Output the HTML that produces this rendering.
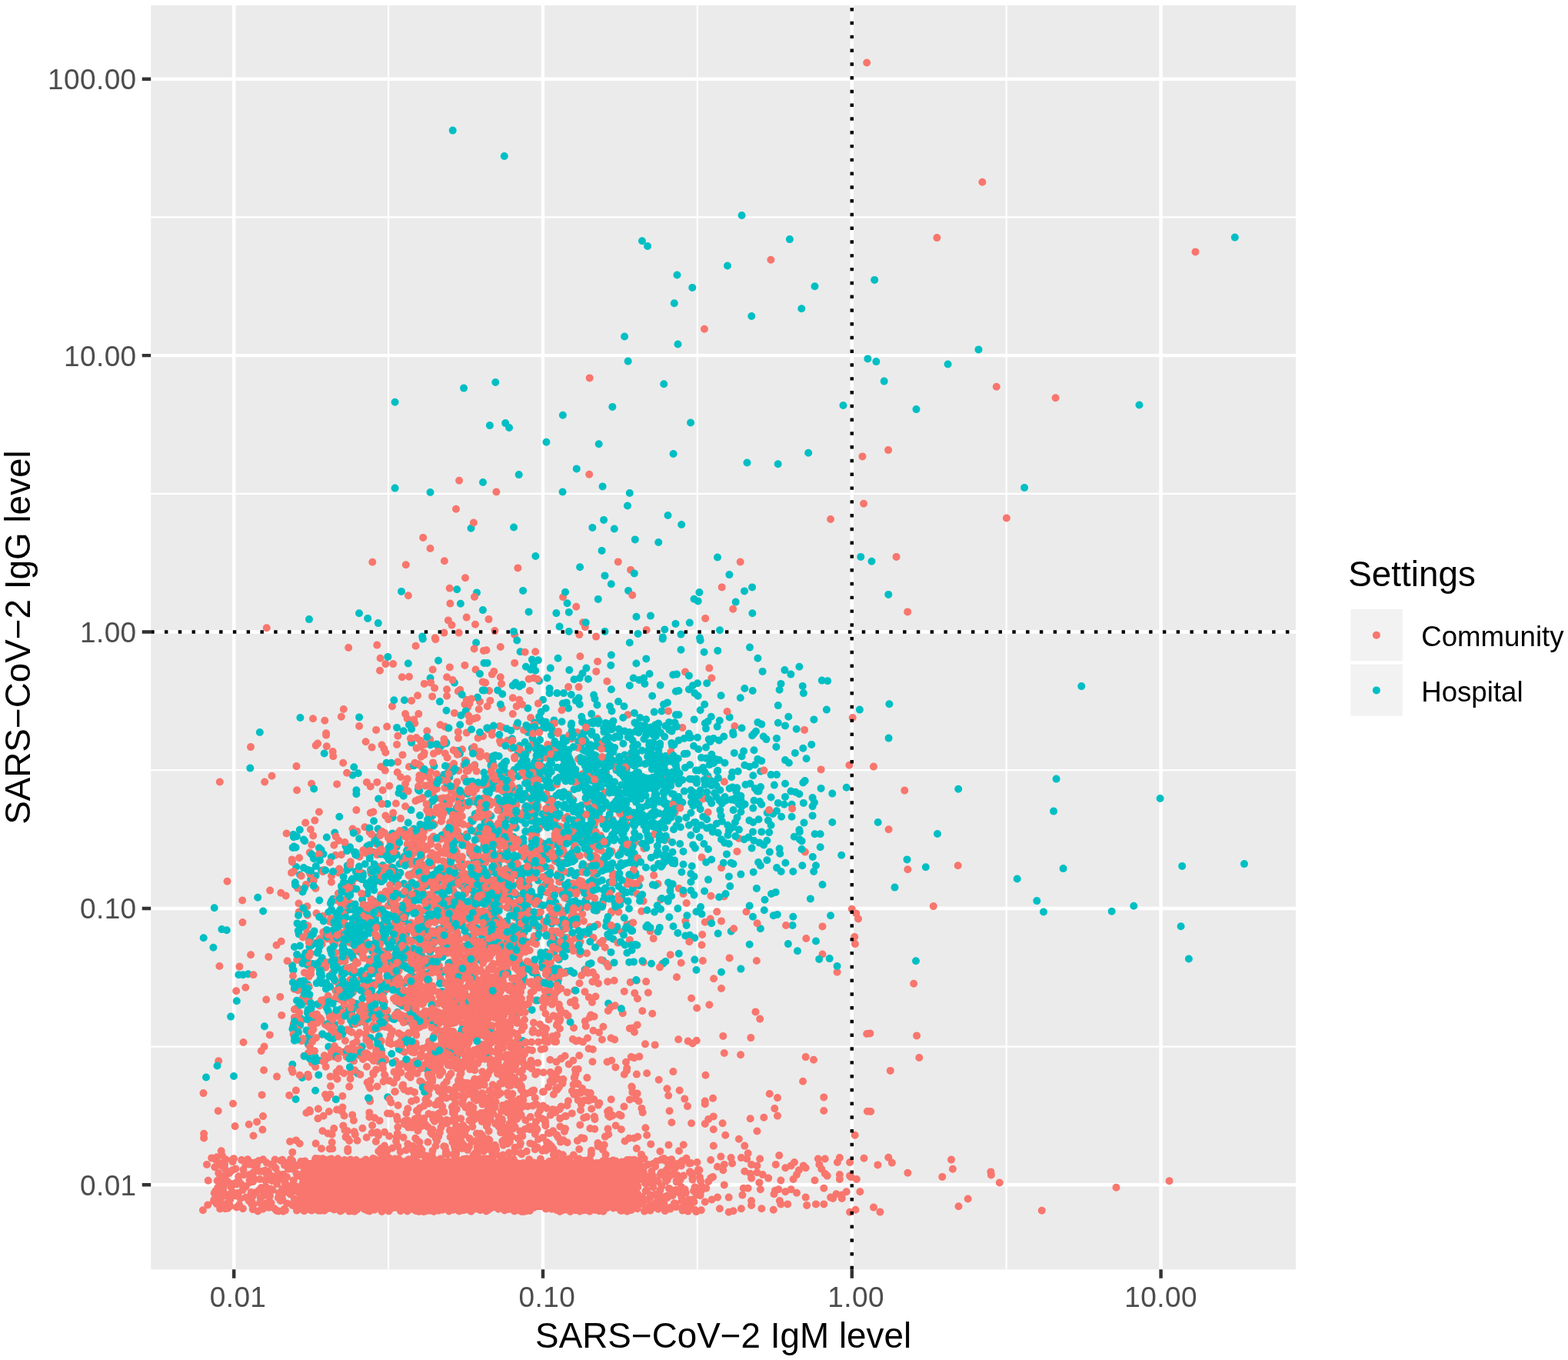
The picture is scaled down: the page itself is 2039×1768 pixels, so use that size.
<!DOCTYPE html>
<html><head><meta charset="utf-8"><title>SARS-CoV-2 IgG vs IgM</title>
<style>html,body{margin:0;padding:0;background:#fff;}svg{display:block;}</style>
</head><body>
<svg xmlns="http://www.w3.org/2000/svg" width="2039" height="1768" viewBox="0 0 2039 1768"><rect x="0" y="0" width="2039" height="1768" fill="#FFFFFF"/><rect x="196.2" y="6.9" width="1488.9" height="1643.4" fill="#EBEBEB"/><path d="M505.1 6.9V1650.3M906.9 6.9V1650.3M1308.7 6.9V1650.3M196.2 282.4H1685.1M196.2 641.8H1685.1M196.2 1001.2H1685.1M196.2 1360.6H1685.1" stroke="#FFFFFF" stroke-width="2.22" fill="none"/><path d="M304.2 6.9V1650.3M706.0 6.9V1650.3M1107.8 6.9V1650.3M1509.6 6.9V1650.3M196.2 102.7H1685.1M196.2 462.1H1685.1M196.2 821.5H1685.1M196.2 1180.9H1685.1M196.2 1540.3H1685.1" stroke="#FFFFFF" stroke-width="4.45" fill="none"/><g fill="none" stroke-linecap="round" stroke-width="10.0"><rect x="391" y="1508" width="438" height="65" fill="#F8766D"/><path stroke="#F8766D" d="M592.2 1556.3h0M448.1 1508.1h0M583.7 1526.7h0M569.3 1518.5h0M430.2 1553.0h0M715.0 1559.6h0M416.5 1547.2h0M624.7 1509.8h0M565.1 1514.3h0M803.4 1550.1h0M467.4 1513.4h0M592.5 1548.9h0M522.5 1517.4h0M477.6 1571.8h0M540.3 1564.1h0M752.2 1538.2h0M494.4 1542.0h0M620.2 1534.8h0M494.4 1525.5h0M435.5 1532.4h0M465.5 1551.0h0M484.7 1571.4h0M410.0 1508.2h0M541.8 1528.1h0M642.7 1510.4h0M829.2 1541.9h0M809.2 1512.4h0M558.0 1517.3h0M794.2 1531.7h0M728.7 1548.3h0M793.1 1541.8h0M431.7 1565.4h0M735.1 1559.1h0M722.3 1515.4h0M491.6 1556.5h0M394.1 1561.8h0M583.5 1570.4h0M421.5 1507.5h0M627.5 1557.1h0M448.0 1547.7h0M538.5 1538.9h0M657.4 1526.6h0M527.7 1544.9h0M680.9 1519.8h0M820.6 1541.7h0M821.8 1555.0h0M642.2 1540.4h0M396.9 1516.0h0M694.5 1569.7h0M752.4 1549.4h0M588.3 1545.6h0M571.9 1529.7h0M613.6 1532.0h0M573.9 1521.5h0M822.8 1538.8h0M471.6 1514.3h0M593.0 1537.6h0M554.2 1511.9h0M791.4 1541.1h0M454.9 1564.7h0M552.6 1514.6h0M389.6 1569.1h0M423.0 1568.9h0M789.8 1570.0h0M451.4 1559.7h0M730.1 1516.8h0M460.5 1544.2h0M789.0 1543.4h0M715.4 1522.1h0M645.7 1520.3h0M552.8 1518.5h0M395.5 1574.2h0M738.5 1527.4h0M815.5 1523.9h0M743.4 1549.4h0M711.8 1525.5h0M566.4 1563.4h0M480.0 1551.6h0M744.0 1559.3h0M652.8 1563.4h0M488.3 1562.3h0M784.4 1533.7h0M656.4 1517.6h0M394.4 1510.2h0M788.9 1532.9h0M535.3 1527.8h0M705.4 1544.2h0M612.6 1510.0h0M532.8 1532.5h0M452.5 1564.4h0M625.7 1545.1h0M406.9 1531.2h0M483.5 1542.3h0M415.9 1516.6h0M512.2 1555.4h0M658.1 1564.9h0M826.0 1533.8h0M650.2 1526.1h0M499.9 1511.7h0M462.4 1561.1h0M731.2 1547.6h0M759.2 1573.3h0M398.9 1533.9h0M779.0 1574.2h0M400.9 1543.8h0M803.3 1565.7h0M716.0 1551.1h0M694.5 1542.2h0M621.1 1550.8h0M802.8 1569.9h0M669.0 1523.0h0M462.3 1563.5h0M614.3 1543.4h0M441.0 1540.5h0M584.3 1521.8h0M581.3 1533.7h0M403.3 1535.5h0M604.6 1514.0h0M441.7 1563.6h0M784.8 1549.2h0M630.3 1515.1h0M403.1 1518.2h0M473.4 1513.5h0M546.4 1568.9h0M467.0 1565.3h0M643.7 1563.4h0M480.4 1541.9h0M403.6 1523.9h0M472.1 1518.9h0M697.1 1567.5h0M553.1 1530.4h0M716.7 1529.2h0M666.3 1513.7h0M435.8 1518.4h0M831.7 1517.7h0M605.4 1535.7h0M684.1 1520.2h0M499.8 1571.8h0M403.1 1569.6h0M585.3 1531.6h0M586.4 1514.6h0M650.4 1552.9h0M739.9 1552.2h0M686.1 1572.8h0M497.8 1566.4h0M657.8 1562.5h0M795.5 1565.4h0M799.6 1555.4h0M632.1 1539.3h0M667.3 1512.7h0M520.7 1520.2h0M401.2 1553.1h0M389.2 1514.8h0M477.7 1524.2h0M614.4 1542.7h0M400.6 1533.8h0M515.7 1559.5h0M511.7 1546.2h0M703.4 1538.6h0M683.3 1567.5h0M702.4 1548.1h0M456.1 1559.2h0M693.1 1556.7h0M645.0 1544.0h0M414.0 1573.7h0M553.5 1525.2h0M537.4 1534.8h0M534.3 1541.7h0M798.4 1521.4h0M432.1 1513.4h0M685.2 1528.1h0M519.4 1554.0h0M481.5 1518.9h0M737.8 1571.2h0M582.2 1520.6h0M543.9 1553.3h0M820.7 1559.0h0M763.8 1553.5h0M747.0 1567.9h0M389.2 1548.5h0M767.1 1562.6h0M466.0 1566.5h0M786.9 1512.3h0M609.3 1536.4h0M474.4 1524.8h0M533.9 1562.7h0M512.0 1514.8h0M705.5 1541.5h0M602.4 1556.9h0M550.4 1575.0h0M818.2 1515.9h0M518.8 1568.4h0M754.6 1517.9h0M566.3 1557.5h0M703.1 1547.4h0M441.8 1528.1h0M767.1 1533.8h0M740.0 1508.6h0M410.7 1564.0h0M725.7 1527.0h0M653.0 1568.4h0M504.5 1510.4h0M618.9 1558.6h0M591.3 1538.3h0M714.0 1560.2h0M582.1 1546.2h0M802.0 1567.3h0M802.2 1556.7h0M402.5 1555.5h0M604.1 1524.3h0M548.7 1539.2h0M808.1 1573.9h0M504.2 1544.6h0M807.2 1573.8h0M533.1 1557.1h0M541.8 1528.8h0M751.0 1554.1h0M814.6 1523.1h0M783.6 1563.4h0M683.8 1522.7h0M746.3 1523.7h0M662.2 1571.7h0M434.7 1536.8h0M414.3 1511.5h0M531.3 1538.0h0M737.0 1510.3h0M486.9 1572.8h0M618.2 1507.7h0M596.3 1549.0h0M614.7 1568.3h0M717.1 1510.0h0M490.1 1567.2h0M804.7 1562.9h0M616.3 1537.1h0M398.7 1560.1h0M767.9 1526.9h0M423.4 1547.2h0M629.2 1525.2h0M760.4 1512.7h0M763.8 1540.5h0M647.4 1539.8h0M659.3 1526.3h0M791.7 1565.5h0M395.1 1537.9h0M482.7 1544.7h0M398.7 1572.4h0M686.2 1546.6h0M506.8 1537.5h0M621.3 1536.9h0M440.3 1511.5h0M758.1 1520.2h0M434.5 1572.5h0M541.3 1510.3h0M395.4 1533.4h0M536.1 1549.7h0M634.5 1566.9h0M437.8 1526.4h0M408.8 1518.7h0M446.9 1514.7h0M779.0 1544.6h0M644.8 1540.1h0M633.3 1551.2h0M656.2 1573.4h0M800.9 1540.7h0M698.0 1549.5h0M784.4 1574.7h0M606.9 1506.2h0M610.9 1531.5h0M522.0 1519.6h0M747.8 1517.7h0M459.4 1537.6h0M508.3 1552.4h0M541.4 1562.1h0M583.7 1514.1h0M657.4 1535.2h0M632.6 1528.4h0M395.7 1573.2h0M431.0 1506.5h0M588.3 1516.4h0M789.0 1528.4h0M631.0 1537.3h0M784.9 1572.8h0M455.7 1570.0h0M699.0 1531.9h0M577.9 1532.9h0M649.0 1545.5h0M831.4 1563.3h0M613.8 1528.2h0M479.5 1546.5h0M415.8 1518.4h0M505.5 1574.4h0M530.3 1510.0h0M643.1 1518.1h0M526.2 1521.2h0M470.2 1555.7h0M531.4 1553.7h0M465.4 1557.3h0M456.1 1565.2h0M772.5 1512.2h0M605.9 1572.0h0M639.9 1515.9h0M460.8 1543.1h0M501.2 1534.3h0M759.5 1562.6h0M684.8 1567.1h0M447.7 1562.6h0M588.4 1525.7h0M422.8 1567.8h0M558.1 1547.6h0M600.7 1559.2h0M604.8 1571.3h0M697.6 1526.9h0M469.3 1568.8h0M569.5 1569.3h0M399.7 1523.1h0M647.2 1538.8h0M626.8 1548.4h0M577.2 1523.2h0M771.2 1557.9h0M681.0 1574.9h0M426.7 1554.6h0M511.7 1561.4h0M713.2 1560.5h0M764.0 1551.4h0M724.0 1573.1h0M791.9 1564.5h0M794.3 1566.3h0M817.9 1541.2h0M659.6 1570.5h0M670.0 1520.6h0M510.7 1513.5h0M676.9 1513.9h0M466.8 1560.2h0M452.5 1549.7h0M823.7 1548.0h0M453.7 1528.6h0M591.5 1527.3h0M668.9 1574.4h0M563.7 1514.2h0M422.8 1535.4h0M443.5 1546.0h0M550.1 1536.6h0M607.9 1564.3h0M744.3 1570.2h0M452.3 1540.0h0M451.2 1565.7h0M404.3 1545.4h0M685.8 1533.2h0M423.4 1543.7h0M393.6 1550.1h0M516.6 1528.0h0M802.0 1515.2h0M826.2 1525.3h0M826.8 1510.7h0M712.9 1517.1h0M750.7 1536.6h0M591.9 1520.4h0M403.2 1556.6h0M516.5 1507.7h0M686.0 1516.6h0M613.7 1548.8h0M633.9 1573.4h0M593.4 1535.1h0M708.8 1522.3h0M538.2 1522.5h0M575.5 1526.0h0M648.5 1514.3h0M491.8 1520.4h0M389.9 1544.1h0M454.5 1565.2h0M669.4 1543.9h0M412.1 1520.6h0M747.1 1529.4h0M653.7 1544.0h0M652.4 1537.7h0M408.7 1542.1h0M717.5 1516.0h0M639.5 1518.2h0M405.0 1547.6h0M402.3 1566.7h0M576.9 1544.5h0M736.9 1568.3h0M758.9 1560.2h0M818.2 1564.7h0M489.3 1537.2h0M633.3 1568.7h0M579.5 1557.3h0M763.2 1559.4h0M564.7 1507.2h0M658.0 1541.8h0M590.8 1548.4h0M476.6 1519.1h0M470.8 1510.6h0M638.0 1520.0h0M460.5 1524.6h0M502.5 1535.1h0M552.7 1510.9h0M681.2 1515.7h0M654.0 1547.4h0M446.8 1531.5h0M552.2 1527.3h0M564.7 1532.8h0M433.2 1550.6h0M563.7 1569.5h0M645.2 1546.2h0M534.2 1550.2h0M756.7 1566.3h0M823.6 1526.8h0M411.8 1525.6h0M559.1 1540.5h0M528.1 1520.1h0M549.6 1539.5h0M544.7 1515.2h0M778.4 1570.6h0M470.8 1526.0h0M600.2 1548.2h0M761.3 1563.2h0M420.2 1514.7h0M669.0 1570.0h0M548.7 1548.4h0M805.2 1521.7h0M409.6 1511.2h0M763.4 1557.0h0M406.1 1560.1h0M710.4 1528.5h0M538.6 1556.1h0M582.8 1516.7h0M682.1 1546.3h0M810.4 1544.1h0M654.0 1542.7h0M504.7 1530.6h0M803.6 1547.6h0M750.7 1520.6h0M473.9 1567.9h0M505.9 1515.8h0M475.3 1520.6h0M707.1 1564.1h0M722.6 1510.5h0M575.5 1571.1h0M545.8 1561.2h0M582.4 1557.4h0M671.4 1539.9h0M656.2 1550.8h0M626.1 1556.2h0M565.7 1530.6h0M754.1 1514.3h0M718.9 1565.9h0M625.6 1513.0h0M557.3 1571.7h0M555.6 1529.3h0M416.2 1557.0h0M639.7 1512.7h0M785.8 1528.0h0M493.2 1568.8h0M538.2 1534.5h0M788.7 1536.6h0M586.1 1512.6h0M468.1 1529.5h0M773.3 1556.9h0M709.2 1522.0h0M826.4 1508.6h0M613.7 1517.3h0M760.9 1509.8h0M492.6 1536.5h0M826.6 1537.4h0M459.0 1517.0h0M635.2 1508.0h0M597.2 1508.8h0M391.6 1564.6h0M688.0 1569.3h0M461.8 1567.7h0M488.3 1526.7h0M766.1 1518.3h0M496.1 1506.3h0M395.2 1565.7h0M654.7 1559.3h0M610.6 1546.7h0M495.7 1512.5h0M405.4 1546.2h0M393.5 1538.6h0M466.8 1548.9h0M779.1 1568.8h0M515.2 1568.9h0M827.6 1561.7h0M394.3 1528.6h0M457.1 1508.8h0M626.3 1537.9h0M394.2 1510.6h0M573.2 1571.0h0M536.8 1526.3h0M830.1 1532.7h0M799.0 1554.6h0M748.2 1534.9h0M430.9 1560.1h0M395.5 1537.9h0M690.6 1561.7h0M531.5 1507.2h0M771.9 1551.1h0M484.8 1565.4h0M548.3 1569.7h0M811.1 1567.4h0M593.9 1560.2h0M795.6 1548.1h0M604.4 1563.6h0M694.0 1542.3h0M397.7 1524.4h0M512.1 1534.6h0M597.2 1514.4h0M534.2 1514.9h0M819.3 1535.8h0M698.9 1556.9h0M535.0 1550.3h0M463.0 1573.1h0M407.5 1548.1h0M564.5 1529.0h0M666.1 1506.9h0M444.7 1545.1h0M658.9 1550.4h0M444.0 1571.9h0M747.4 1560.3h0M583.8 1546.3h0M450.7 1523.0h0M584.8 1547.6h0M464.2 1572.4h0M773.8 1572.9h0M719.0 1563.8h0M469.8 1563.8h0M678.5 1543.6h0M812.7 1537.8h0M421.1 1531.0h0M500.0 1508.1h0M830.4 1566.1h0M391.6 1559.6h0M727.8 1534.5h0M748.2 1573.3h0M709.2 1539.8h0M671.0 1529.5h0M451.6 1525.7h0M441.9 1573.6h0M724.0 1563.2h0M462.1 1539.5h0M713.1 1567.4h0M817.5 1529.2h0M462.8 1527.1h0M489.1 1548.6h0M544.2 1541.1h0M683.5 1572.2h0M718.4 1536.4h0M459.1 1528.6h0M545.9 1559.9h0M816.7 1552.5h0M523.8 1563.1h0M722.2 1559.1h0M430.7 1556.2h0M593.4 1518.0h0M731.1 1573.5h0M484.3 1548.4h0M418.6 1528.0h0M818.2 1556.4h0M491.9 1567.2h0M721.9 1534.6h0M422.6 1529.6h0M689.0 1573.9h0M528.3 1555.3h0M744.6 1549.0h0M399.3 1556.2h0M412.5 1573.0h0M673.9 1520.3h0M556.4 1521.3h0M761.2 1565.3h0M680.7 1514.1h0M678.8 1541.1h0M768.4 1518.1h0M484.9 1513.7h0M575.3 1572.7h0M471.5 1545.3h0M640.1 1569.8h0M509.5 1570.8h0M820.3 1573.1h0M802.1 1514.7h0M788.5 1508.9h0M540.9 1517.1h0M787.8 1559.1h0M600.3 1527.7h0M528.9 1558.2h0M434.6 1549.0h0M415.2 1538.1h0M786.4 1560.8h0M398.5 1518.0h0M666.8 1537.6h0M588.3 1524.5h0M572.9 1561.3h0M532.9 1547.6h0M683.9 1555.6h0M602.7 1506.9h0M512.1 1517.6h0M723.9 1570.7h0M816.0 1526.6h0M488.0 1558.6h0M724.5 1518.1h0M486.9 1511.7h0M518.0 1549.0h0M806.0 1557.8h0M574.0 1526.8h0M620.6 1569.6h0M631.4 1521.9h0M716.6 1554.3h0M454.7 1543.6h0M493.9 1535.8h0M768.5 1522.5h0M654.0 1537.9h0M436.5 1559.7h0M416.7 1508.8h0M780.5 1529.8h0M553.9 1543.8h0M581.3 1515.3h0M557.5 1559.1h0M675.8 1570.9h0M695.1 1535.0h0M616.7 1529.1h0M498.5 1536.1h0M805.1 1534.5h0M456.5 1550.5h0M426.0 1548.9h0M468.8 1568.5h0M581.5 1551.6h0M666.5 1544.1h0M538.3 1507.9h0M703.0 1506.6h0M563.3 1559.6h0M726.1 1567.0h0M677.9 1528.1h0M481.2 1532.4h0M469.5 1511.6h0M444.6 1573.4h0M829.3 1543.3h0M588.2 1565.8h0M788.4 1555.4h0M571.6 1545.8h0M536.4 1541.5h0M594.9 1554.1h0M395.9 1515.2h0M496.5 1559.9h0M723.5 1508.3h0M483.9 1517.5h0M803.1 1534.2h0M512.4 1537.6h0M681.3 1517.6h0M506.5 1507.1h0M412.1 1557.7h0M468.0 1556.2h0M498.0 1552.7h0M805.1 1514.9h0M622.5 1547.6h0M600.2 1533.9h0M667.5 1506.6h0M816.7 1524.2h0M485.2 1525.8h0M700.8 1514.5h0M684.3 1521.5h0M703.0 1525.3h0M469.0 1557.6h0M509.5 1543.8h0M745.8 1553.8h0M690.0 1547.3h0M629.8 1530.2h0M609.9 1507.5h0M827.9 1514.9h0M619.5 1509.8h0M819.1 1507.7h0M574.2 1522.2h0M764.0 1534.3h0M412.4 1573.0h0M739.3 1536.1h0M761.6 1551.5h0M518.3 1506.2h0M466.3 1533.0h0M829.2 1516.3h0M571.1 1546.0h0M583.7 1511.3h0M567.9 1530.9h0M602.7 1514.7h0M683.0 1545.0h0M634.3 1567.7h0M744.9 1565.5h0M771.2 1513.2h0M530.0 1511.7h0M497.7 1539.6h0M801.2 1545.9h0M813.0 1568.8h0M683.7 1534.3h0M738.4 1551.4h0M538.6 1559.9h0M598.8 1551.7h0M403.0 1533.4h0M479.4 1562.3h0M824.2 1534.8h0M733.6 1552.5h0M685.0 1541.8h0M434.1 1510.3h0M636.8 1547.6h0M448.6 1535.3h0M698.2 1513.5h0M810.0 1546.7h0M636.9 1530.3h0M710.4 1526.2h0M761.7 1527.6h0M631.5 1506.2h0M423.0 1543.9h0M730.3 1569.6h0M640.1 1510.1h0M507.1 1506.1h0M664.3 1562.9h0M442.7 1519.2h0M617.0 1548.9h0M576.8 1517.0h0M803.8 1514.0h0M716.1 1550.0h0M777.4 1562.4h0M705.9 1532.9h0M491.4 1541.6h0M635.0 1507.2h0M740.7 1544.3h0M594.1 1510.6h0M465.5 1512.7h0M668.8 1551.4h0M808.6 1510.5h0M435.6 1565.7h0M677.6 1569.9h0M395.7 1531.6h0M656.5 1525.2h0M664.0 1513.1h0M715.8 1541.5h0M733.0 1567.3h0M729.2 1538.2h0M606.4 1523.8h0M575.6 1533.2h0M457.2 1566.1h0M503.9 1539.1h0M790.5 1517.2h0M687.6 1552.2h0M394.8 1570.6h0M531.4 1562.7h0M814.5 1509.9h0M578.0 1556.6h0M626.6 1537.6h0M562.1 1530.0h0M814.6 1537.9h0M633.1 1537.7h0M544.1 1512.9h0M517.0 1519.2h0M739.5 1554.6h0M757.9 1550.8h0M524.1 1553.3h0M646.2 1551.4h0M406.9 1522.6h0M778.5 1549.8h0M663.5 1533.8h0M761.5 1556.8h0M447.7 1561.0h0M428.8 1560.9h0M704.8 1544.6h0M831.8 1520.2h0M485.2 1554.2h0M477.8 1573.8h0M471.4 1549.5h0M468.1 1565.3h0M610.0 1537.3h0M420.2 1509.6h0M662.5 1550.4h0M679.1 1558.2h0M598.9 1520.3h0M449.8 1550.3h0M646.5 1531.4h0M503.5 1520.7h0M538.9 1572.9h0M584.8 1570.9h0M462.5 1512.3h0M529.7 1574.4h0M727.2 1563.4h0M779.8 1531.2h0M421.0 1566.6h0M524.4 1532.3h0M554.7 1571.4h0M831.9 1533.1h0M499.6 1512.9h0M505.9 1530.5h0M565.7 1527.9h0M800.7 1509.4h0M705.4 1550.3h0M445.4 1544.6h0M721.9 1567.0h0M766.0 1511.5h0M629.8 1517.6h0M528.7 1509.2h0M461.0 1555.2h0M775.3 1525.3h0M517.1 1551.6h0M763.1 1573.2h0M432.4 1571.4h0M796.9 1566.8h0M571.1 1530.0h0M616.0 1514.8h0M526.0 1559.4h0M559.4 1573.7h0M678.5 1532.4h0M626.4 1572.3h0M483.7 1564.0h0M625.5 1532.2h0M723.5 1571.0h0M406.3 1557.5h0M714.2 1550.8h0M786.1 1516.9h0M542.1 1559.8h0M830.1 1560.8h0M461.8 1560.1h0M777.2 1532.8h0M584.9 1549.8h0M610.3 1513.4h0M723.3 1513.8h0M599.5 1525.9h0M396.3 1537.3h0M439.4 1521.7h0M485.6 1536.8h0M717.7 1554.8h0M453.2 1565.1h0M584.8 1543.0h0M642.7 1561.8h0M531.8 1516.4h0M604.3 1533.1h0M612.4 1550.1h0M541.1 1538.6h0M441.6 1559.1h0M666.1 1559.9h0M686.5 1511.9h0M390.9 1563.1h0M437.9 1530.4h0M819.7 1515.1h0M499.6 1555.4h0M779.3 1517.1h0M461.9 1535.8h0M745.1 1519.5h0M433.0 1522.2h0M826.4 1538.7h0M489.7 1564.5h0M414.7 1506.5h0M599.9 1511.9h0M443.3 1526.4h0M472.7 1541.1h0M814.3 1562.7h0M666.1 1513.0h0M590.4 1509.8h0M755.4 1547.6h0M830.1 1515.4h0M749.7 1571.9h0M481.8 1511.4h0M704.6 1559.2h0M722.9 1568.4h0M632.9 1524.0h0M629.8 1527.7h0M639.2 1511.1h0M389.5 1550.9h0M681.5 1568.2h0M714.6 1566.6h0M569.4 1551.7h0M464.9 1558.6h0M645.0 1551.0h0M405.6 1554.9h0M775.1 1530.3h0M794.4 1517.5h0M469.1 1513.2h0M520.9 1574.2h0M410.1 1515.5h0M427.7 1507.4h0M514.2 1561.6h0M525.1 1536.7h0M619.1 1571.4h0M596.4 1565.3h0M789.0 1540.3h0M443.2 1561.6h0M539.5 1528.1h0M622.8 1524.0h0M644.6 1553.4h0M464.0 1524.4h0M571.6 1538.3h0M780.7 1535.6h0M557.2 1524.2h0M472.2 1511.7h0M608.9 1515.9h0M534.3 1526.4h0M540.0 1514.5h0M650.2 1525.8h0M717.4 1523.8h0M653.0 1554.7h0M468.4 1523.0h0M496.4 1560.4h0M778.0 1545.4h0M775.1 1530.5h0M818.1 1511.8h0M571.1 1521.2h0M569.3 1560.5h0M402.6 1552.3h0M615.6 1570.8h0M625.9 1514.5h0M582.1 1562.7h0M676.8 1530.4h0M711.9 1512.5h0M678.1 1575.0h0M757.8 1547.2h0M522.8 1520.0h0M627.5 1559.8h0M562.6 1548.3h0M640.3 1525.1h0M489.8 1570.3h0M459.4 1534.0h0M546.9 1557.6h0M513.9 1554.1h0M577.8 1519.8h0M542.8 1520.3h0M568.9 1564.5h0M551.5 1574.9h0M662.6 1520.9h0M525.7 1537.8h0M537.0 1561.0h0M556.8 1541.1h0M775.9 1569.2h0M548.0 1573.8h0M651.3 1511.6h0M667.7 1566.0h0M450.3 1516.2h0M452.0 1543.2h0M624.8 1545.2h0M722.4 1518.9h0M532.3 1529.0h0M545.7 1532.2h0M779.4 1569.9h0M628.9 1557.3h0M725.6 1529.8h0M698.5 1541.4h0M446.4 1567.4h0M744.0 1549.3h0M681.9 1516.7h0M623.2 1506.3h0M529.9 1521.1h0M528.2 1515.4h0M812.8 1564.7h0M567.8 1544.8h0M666.5 1508.2h0M486.1 1571.4h0M785.3 1517.4h0M780.7 1567.0h0M662.5 1506.7h0M422.5 1552.7h0M818.4 1571.7h0M419.9 1508.4h0M404.6 1549.3h0M645.3 1550.7h0M798.2 1563.3h0M516.9 1554.9h0M564.2 1575.0h0M544.0 1541.2h0M583.9 1574.4h0M485.2 1571.4h0M676.5 1520.7h0M566.2 1518.4h0M548.8 1551.1h0M511.7 1541.9h0M540.0 1533.9h0M776.3 1512.1h0M422.2 1558.6h0M764.6 1519.0h0M659.5 1565.3h0M661.0 1572.0h0M517.7 1566.5h0M686.8 1565.8h0M521.0 1570.3h0M599.3 1511.6h0M731.7 1568.2h0M638.5 1520.3h0M824.8 1552.8h0M815.4 1574.8h0M632.7 1512.4h0M395.9 1564.2h0M466.4 1557.1h0M693.8 1519.4h0M815.6 1535.3h0M482.0 1531.7h0M701.0 1510.8h0M781.4 1516.5h0M552.0 1547.8h0M705.2 1533.5h0M496.1 1510.4h0M478.7 1561.1h0M470.9 1510.3h0M475.6 1523.1h0M486.9 1552.5h0M663.0 1512.3h0M635.8 1532.8h0M553.9 1535.2h0M730.3 1512.5h0M679.4 1524.9h0M455.9 1571.9h0M762.8 1523.6h0M419.8 1506.2h0M780.7 1511.7h0M415.5 1524.8h0M439.8 1525.2h0M546.7 1570.2h0M419.3 1521.9h0M535.4 1567.6h0M689.3 1554.8h0M636.2 1511.2h0M456.5 1573.1h0M565.2 1540.8h0M524.9 1528.1h0M764.9 1509.2h0M769.8 1565.7h0M760.6 1545.3h0M794.3 1523.6h0M526.4 1548.9h0M691.8 1518.8h0M416.9 1573.8h0M454.1 1574.6h0M572.0 1556.4h0M513.6 1510.2h0M729.9 1522.6h0M695.5 1521.1h0M419.3 1544.5h0M821.4 1535.6h0M549.9 1519.2h0M442.5 1558.1h0M440.1 1510.3h0M542.2 1533.5h0M403.9 1553.1h0M632.3 1574.4h0M731.4 1549.3h0M733.8 1553.7h0M732.3 1532.7h0M676.1 1573.6h0M777.7 1554.3h0M442.5 1574.4h0M634.3 1573.3h0M738.5 1562.3h0M501.1 1522.9h0M391.3 1510.1h0M822.6 1566.4h0M634.3 1548.8h0M676.3 1522.4h0M506.9 1556.6h0M650.2 1530.9h0M453.4 1522.2h0M461.1 1574.7h0M393.9 1568.2h0M405.1 1542.1h0M772.1 1522.9h0M686.9 1518.1h0M763.7 1530.9h0M760.7 1535.7h0M460.8 1539.0h0M794.5 1509.5h0M608.8 1549.8h0M739.9 1509.3h0M488.7 1519.3h0M746.2 1518.8h0M824.8 1556.0h0M515.7 1514.5h0M461.2 1522.3h0M423.6 1529.3h0M775.4 1522.3h0M401.1 1537.6h0M596.8 1547.7h0M724.0 1564.3h0M536.7 1530.1h0M695.6 1541.6h0M561.1 1517.3h0M450.6 1565.3h0M536.1 1531.6h0M571.4 1554.7h0M721.5 1551.8h0M735.8 1544.7h0M830.2 1520.2h0M739.4 1538.4h0M538.5 1551.4h0M640.2 1518.5h0M585.0 1569.8h0M775.3 1564.2h0M623.3 1506.7h0M580.1 1563.9h0M643.5 1537.0h0M579.3 1538.6h0M681.5 1564.6h0M720.4 1527.1h0M811.6 1515.4h0M531.7 1569.2h0M501.8 1533.8h0M767.3 1551.3h0M514.2 1508.1h0M490.3 1510.4h0M512.4 1553.2h0M412.9 1539.2h0M625.3 1518.8h0M765.5 1546.3h0M766.9 1561.5h0M499.8 1528.4h0M686.4 1553.5h0M765.9 1511.1h0M503.9 1547.7h0M626.5 1565.3h0M615.1 1524.2h0M585.1 1526.0h0M441.4 1512.8h0M818.0 1566.1h0M447.7 1539.5h0M706.4 1521.7h0M767.4 1512.0h0M699.7 1549.2h0M489.8 1523.0h0M498.8 1547.2h0M399.9 1531.3h0M622.4 1559.4h0M667.6 1552.8h0M772.8 1562.1h0M773.3 1540.5h0M628.2 1516.5h0M660.1 1561.3h0M413.2 1515.1h0M509.1 1535.6h0M431.1 1569.9h0M726.8 1550.9h0M487.0 1540.7h0M645.6 1554.1h0M719.1 1533.0h0M823.3 1533.4h0M815.5 1508.1h0M752.8 1565.2h0M734.0 1555.5h0M618.8 1545.1h0M671.4 1551.2h0M670.1 1573.9h0M495.8 1560.4h0M536.8 1571.5h0M684.2 1553.1h0M432.3 1534.1h0M395.2 1517.0h0M494.4 1536.8h0M567.9 1519.6h0M524.4 1563.3h0M466.0 1567.3h0M437.7 1564.6h0M495.6 1541.1h0M700.2 1552.5h0M560.6 1556.8h0M784.3 1509.0h0M515.5 1532.3h0M830.8 1529.2h0M656.8 1542.5h0M445.8 1545.1h0M821.4 1527.1h0M664.9 1551.7h0M668.2 1524.6h0M582.8 1530.3h0M629.1 1544.2h0M640.6 1509.6h0M751.5 1561.6h0M688.1 1507.2h0M494.6 1524.9h0M535.8 1534.8h0M694.2 1511.4h0M732.0 1560.3h0M543.0 1552.2h0M648.0 1571.7h0M734.3 1569.0h0M628.2 1537.5h0M598.2 1537.7h0M463.9 1568.8h0M736.2 1562.0h0M754.7 1552.2h0M524.1 1522.6h0M535.7 1557.0h0M443.1 1529.5h0M574.0 1532.0h0M544.6 1574.9h0M683.6 1574.4h0M478.0 1560.7h0M554.8 1573.4h0M766.5 1530.2h0M620.2 1567.4h0M394.1 1526.0h0M809.8 1555.5h0M788.5 1516.4h0M828.6 1535.4h0M607.6 1521.7h0M511.6 1513.4h0M607.2 1570.4h0M778.0 1519.3h0M720.5 1544.5h0M660.7 1522.7h0M512.8 1566.1h0M783.5 1535.1h0M748.6 1536.3h0M773.9 1522.5h0M597.6 1521.4h0M767.7 1516.3h0M660.6 1532.2h0M494.4 1513.5h0M575.6 1561.8h0M451.9 1533.2h0M621.8 1509.6h0M721.5 1559.5h0M454.5 1531.0h0M624.1 1566.5h0M686.4 1530.1h0M737.3 1549.9h0M487.5 1560.7h0M659.5 1509.4h0M766.5 1519.8h0M480.1 1555.3h0M741.9 1535.6h0M774.9 1542.2h0M592.6 1540.3h0M544.2 1530.7h0M824.6 1525.5h0M494.3 1519.1h0M796.8 1545.6h0M391.2 1556.1h0M757.4 1566.7h0M737.0 1543.1h0M785.8 1566.6h0M485.1 1506.0h0M750.2 1514.4h0M405.2 1573.6h0M448.1 1511.9h0M754.0 1574.8h0M733.1 1530.1h0M439.5 1517.6h0M672.9 1556.0h0M767.4 1521.0h0M445.1 1512.4h0M660.3 1541.6h0M608.1 1558.8h0M828.2 1536.2h0M445.1 1551.2h0M566.7 1571.7h0M828.4 1553.4h0M547.5 1516.4h0M753.1 1506.5h0M784.9 1541.6h0M575.7 1523.8h0M793.8 1525.9h0M622.6 1546.2h0M498.2 1541.9h0M551.7 1574.0h0M566.3 1513.6h0M547.8 1537.6h0M800.8 1525.2h0M805.0 1516.9h0M710.0 1559.1h0M664.1 1566.6h0M643.3 1562.8h0M785.4 1568.9h0M752.5 1554.3h0M438.1 1541.3h0M418.9 1547.6h0M736.0 1507.5h0M579.8 1560.1h0M789.4 1544.8h0M728.4 1535.5h0M651.5 1567.4h0M535.0 1509.8h0M612.1 1559.2h0M579.4 1538.2h0M564.1 1509.9h0M416.4 1545.0h0M478.1 1540.6h0M708.3 1557.8h0M462.0 1539.7h0M418.4 1522.7h0M542.9 1564.5h0M696.9 1552.7h0M813.5 1522.7h0M594.8 1514.1h0M738.0 1565.1h0M701.4 1526.3h0M454.8 1547.7h0M807.0 1561.4h0M449.5 1551.3h0M776.3 1568.5h0M797.2 1508.6h0M611.3 1573.9h0M758.8 1523.5h0M479.2 1530.3h0M812.8 1555.8h0M654.8 1553.3h0M550.5 1529.2h0M680.5 1512.0h0M533.7 1513.1h0M505.4 1525.2h0M795.0 1551.1h0M432.3 1524.9h0M741.5 1566.1h0M763.2 1518.5h0M712.2 1569.0h0M671.7 1552.1h0M430.1 1545.8h0M456.4 1571.8h0M657.4 1529.8h0M502.3 1556.1h0M587.4 1512.6h0M612.6 1546.6h0M776.7 1566.5h0M415.8 1554.5h0M729.5 1522.8h0M568.9 1538.4h0M656.8 1539.8h0M739.9 1525.5h0M416.3 1536.6h0M559.6 1562.7h0M521.0 1525.7h0M753.0 1514.4h0M397.9 1570.1h0M823.1 1556.7h0M597.2 1535.3h0M565.4 1529.0h0M661.3 1557.8h0M801.1 1518.0h0M708.4 1564.5h0M766.9 1574.8h0M475.4 1512.8h0M567.2 1552.2h0M692.9 1543.0h0M784.4 1552.1h0M712.6 1570.7h0M435.6 1548.1h0M651.5 1539.8h0M614.6 1525.3h0M436.3 1510.3h0M439.4 1515.3h0M408.2 1555.6h0M697.0 1552.5h0M520.1 1557.1h0M396.5 1531.9h0M661.5 1559.4h0M530.2 1510.3h0M627.0 1550.0h0M391.0 1512.4h0M800.7 1513.9h0M626.0 1514.0h0M678.1 1573.9h0M528.8 1531.3h0M604.3 1521.2h0M748.6 1556.0h0M489.7 1554.3h0M654.0 1569.9h0M437.2 1512.9h0M673.9 1548.1h0M394.9 1524.1h0M725.7 1552.5h0M533.1 1539.8h0M780.4 1519.2h0M623.8 1523.1h0M762.9 1564.0h0M706.6 1533.2h0M817.2 1533.9h0M554.4 1574.2h0M398.4 1560.7h0M617.2 1564.6h0M530.9 1571.4h0M518.4 1516.8h0M426.5 1538.9h0M743.6 1538.7h0M819.8 1534.5h0M606.1 1525.8h0M793.1 1513.3h0M585.5 1566.6h0M487.9 1556.4h0M682.2 1569.1h0M804.3 1542.7h0M794.2 1555.0h0M499.7 1561.6h0M466.0 1511.8h0M558.9 1541.0h0M663.0 1525.4h0M520.4 1516.7h0M489.1 1564.6h0M705.3 1536.3h0M819.4 1567.7h0M490.9 1531.6h0M549.4 1570.9h0M792.1 1538.9h0M606.2 1531.9h0M771.7 1529.9h0M416.8 1534.2h0M463.1 1508.0h0M824.6 1507.8h0M764.6 1508.9h0M685.2 1559.9h0M474.6 1559.9h0M718.3 1539.8h0M794.0 1546.8h0M670.4 1511.0h0M457.6 1529.8h0M570.0 1516.7h0M439.4 1506.3h0M604.6 1563.7h0M758.4 1558.5h0M394.8 1573.8h0M577.4 1545.7h0M470.6 1522.6h0M484.5 1508.1h0M446.1 1551.1h0M649.7 1526.6h0M583.2 1519.7h0M431.1 1521.7h0M654.1 1531.2h0M799.2 1538.2h0M824.2 1530.5h0M720.3 1519.2h0M400.5 1525.2h0M637.6 1571.0h0M515.3 1545.9h0M544.6 1575.0h0M644.2 1514.4h0M487.7 1515.5h0M725.7 1571.9h0M701.9 1547.8h0M676.6 1522.3h0M782.6 1563.8h0M717.4 1571.8h0M605.2 1567.2h0M680.4 1568.8h0M831.6 1520.6h0M399.2 1516.7h0M488.6 1535.0h0M740.3 1530.7h0M540.7 1573.9h0M630.1 1508.1h0M524.4 1553.8h0M393.5 1528.5h0M829.1 1509.2h0M572.9 1506.4h0M581.1 1552.2h0M517.7 1542.1h0M802.4 1533.1h0M788.4 1554.7h0M443.6 1545.9h0M690.1 1512.8h0M455.2 1560.6h0M689.0 1548.4h0M430.2 1544.6h0M680.8 1523.1h0M453.2 1527.4h0M706.5 1568.1h0M593.3 1506.3h0M557.2 1552.2h0M422.0 1573.8h0M534.4 1562.9h0M434.0 1541.7h0M465.8 1532.9h0M737.6 1571.5h0M639.8 1548.5h0M679.6 1538.8h0M627.7 1560.6h0M424.1 1558.3h0M749.2 1538.8h0M628.7 1506.3h0M661.9 1508.4h0M458.8 1548.0h0M643.9 1555.6h0M394.1 1533.3h0M659.1 1508.4h0M542.3 1564.9h0M741.4 1551.6h0M551.0 1558.1h0M630.8 1552.6h0M412.0 1551.0h0M456.7 1565.2h0M476.8 1521.9h0M616.7 1542.8h0M533.1 1527.9h0M692.5 1551.8h0M536.2 1530.1h0M422.3 1563.6h0M451.8 1542.4h0M720.4 1568.0h0M411.2 1560.9h0M550.6 1567.3h0M451.7 1516.7h0M420.5 1535.7h0M789.4 1563.2h0M539.0 1509.7h0M537.6 1519.0h0M652.1 1554.0h0M626.2 1537.3h0M587.6 1543.4h0M490.0 1561.6h0M622.5 1507.2h0M825.2 1548.0h0M536.6 1506.4h0M408.6 1563.3h0M442.7 1517.2h0M605.9 1512.3h0M667.7 1510.6h0M575.8 1553.9h0M757.5 1513.4h0M703.3 1529.2h0M576.5 1566.3h0M717.4 1534.9h0M443.0 1542.2h0M705.9 1544.8h0M470.8 1554.8h0M773.1 1532.7h0M743.3 1554.6h0M483.8 1510.6h0M750.5 1541.3h0M709.8 1571.4h0M510.8 1534.6h0M427.4 1539.3h0M492.0 1518.8h0M756.9 1512.5h0M501.7 1524.6h0M402.9 1541.0h0M796.7 1515.2h0M501.7 1543.9h0M771.3 1528.7h0M721.4 1553.3h0M755.4 1552.6h0M530.6 1522.6h0M734.9 1553.3h0M483.5 1510.3h0M408.3 1556.2h0M645.9 1541.3h0M672.2 1530.0h0M460.0 1570.9h0M594.6 1524.2h0M581.3 1514.4h0M601.8 1562.0h0M764.0 1547.9h0M534.2 1551.5h0M527.6 1523.6h0M527.8 1517.5h0M630.4 1517.6h0M592.7 1513.8h0M426.4 1530.5h0M396.9 1558.6h0M469.0 1510.7h0M606.7 1558.0h0M811.0 1527.0h0M550.3 1568.1h0M585.4 1568.4h0M692.7 1541.4h0M547.7 1534.8h0M662.7 1535.9h0M702.2 1539.5h0M652.2 1513.3h0M505.2 1560.1h0M531.6 1551.5h0M695.8 1558.1h0M562.8 1506.5h0M564.1 1565.9h0M636.9 1506.3h0M449.8 1541.3h0M643.3 1515.6h0M432.7 1538.4h0M421.5 1572.3h0M726.0 1554.3h0M630.9 1535.0h0M616.3 1561.4h0M587.6 1547.8h0M599.2 1558.8h0M402.7 1546.2h0M751.7 1563.2h0M473.9 1511.5h0M624.6 1573.1h0M662.6 1532.0h0M709.6 1513.4h0M432.4 1549.1h0M812.9 1566.4h0M427.8 1566.9h0M771.7 1544.8h0M445.5 1540.6h0M473.9 1572.0h0M496.0 1512.3h0M747.1 1559.6h0M552.1 1513.1h0M428.5 1549.8h0M714.0 1510.0h0M516.2 1536.1h0M412.0 1540.4h0M666.6 1531.3h0M410.3 1557.2h0M571.9 1548.1h0M583.7 1518.1h0M459.4 1574.4h0M567.7 1556.6h0M534.0 1534.0h0M568.6 1561.2h0M762.1 1529.8h0M531.3 1549.9h0M455.3 1544.7h0M692.3 1537.8h0M641.6 1534.0h0M575.7 1510.3h0M467.9 1519.4h0M638.1 1526.8h0M396.4 1509.4h0M571.9 1543.8h0M475.6 1534.6h0M560.6 1529.8h0M548.5 1562.6h0M583.9 1538.6h0M691.3 1544.8h0M519.1 1558.4h0M458.7 1532.9h0M703.8 1518.7h0M536.6 1509.8h0M753.7 1529.2h0M689.5 1513.6h0M604.7 1527.2h0M816.2 1568.2h0M562.4 1553.9h0M535.3 1524.7h0M771.9 1553.3h0M744.1 1525.8h0M587.5 1516.3h0M773.8 1542.5h0M781.4 1518.1h0M702.7 1533.3h0M523.8 1510.3h0M414.2 1523.4h0M554.9 1515.0h0M434.9 1532.0h0M728.0 1574.9h0M776.1 1555.4h0M415.5 1560.3h0M690.3 1513.9h0M560.6 1555.6h0M477.0 1539.9h0M667.5 1569.7h0M611.1 1526.6h0M742.0 1522.2h0M555.9 1565.1h0M711.5 1563.4h0M589.7 1572.7h0M701.2 1526.3h0M496.6 1526.6h0M715.3 1542.4h0M574.1 1562.1h0M529.3 1533.5h0M759.5 1550.9h0M448.5 1544.8h0M554.7 1558.1h0M486.0 1543.9h0M708.1 1521.5h0M512.3 1529.7h0M418.1 1561.5h0M470.1 1554.3h0M610.8 1515.1h0M480.5 1574.4h0M612.4 1568.5h0M469.5 1527.5h0M655.7 1520.1h0M766.3 1532.1h0M750.7 1507.4h0M584.7 1570.2h0M674.2 1514.8h0M393.3 1555.0h0M585.4 1554.7h0M457.7 1533.8h0M661.4 1538.0h0M583.0 1509.8h0M786.1 1539.2h0M481.5 1550.5h0M475.0 1518.0h0M502.4 1515.1h0M745.9 1556.1h0M425.7 1571.2h0M811.2 1544.9h0M808.6 1548.3h0M804.0 1564.2h0M819.6 1524.6h0M797.2 1563.2h0M612.6 1574.8h0M541.1 1560.4h0M456.6 1553.8h0M714.7 1565.0h0M815.3 1508.7h0M801.5 1563.7h0M482.3 1537.0h0M496.5 1574.9h0M644.8 1556.7h0M710.6 1525.1h0M533.8 1509.4h0M618.7 1508.4h0M818.6 1526.9h0M822.8 1520.1h0M437.4 1543.0h0M595.3 1552.5h0M484.4 1509.9h0M797.6 1570.5h0M749.5 1516.2h0M793.3 1566.8h0M421.8 1573.7h0M818.1 1572.4h0M535.6 1571.4h0M813.4 1537.6h0M729.4 1509.3h0M606.5 1551.1h0M415.4 1533.7h0M611.8 1574.1h0M699.2 1532.7h0M776.7 1519.8h0M757.4 1541.7h0M807.0 1539.8h0M465.7 1537.4h0M644.4 1556.4h0M820.7 1566.9h0M822.3 1528.5h0M495.7 1536.6h0M823.6 1526.4h0M721.7 1514.8h0M736.0 1564.6h0M410.2 1521.1h0M740.1 1544.6h0M402.2 1540.1h0M822.7 1525.6h0M421.9 1563.0h0M420.5 1556.9h0M749.3 1556.6h0M684.9 1529.3h0M617.8 1526.7h0M427.2 1514.2h0M822.0 1554.5h0M498.8 1549.8h0M667.1 1511.5h0M591.8 1536.2h0M759.3 1554.6h0M556.3 1531.5h0M510.2 1521.7h0M557.6 1521.0h0M570.5 1573.7h0M532.8 1533.7h0M656.2 1561.8h0M523.9 1559.8h0M604.5 1535.1h0M512.2 1545.5h0M436.6 1546.2h0M677.9 1564.2h0M496.4 1554.5h0M578.7 1553.3h0M650.9 1550.2h0M509.4 1522.4h0M818.8 1521.7h0M623.4 1513.6h0M600.6 1573.4h0M699.2 1515.1h0M683.3 1567.6h0M497.6 1561.7h0M574.3 1529.2h0M581.1 1554.7h0M398.5 1528.5h0M736.1 1558.9h0M604.7 1529.3h0M397.3 1569.8h0M469.4 1538.1h0M569.9 1508.7h0M634.9 1566.2h0M675.5 1524.2h0M823.9 1536.2h0M670.5 1525.1h0M579.1 1537.9h0M806.0 1551.9h0M652.2 1530.3h0M754.9 1540.3h0M694.9 1543.0h0M493.6 1566.3h0M618.6 1541.7h0M456.5 1558.8h0M723.5 1507.5h0M635.9 1541.6h0M829.1 1552.0h0M554.2 1522.8h0M750.8 1530.0h0M439.6 1528.2h0M511.8 1518.3h0M639.4 1558.0h0M455.8 1507.6h0M484.2 1528.8h0M749.6 1535.4h0M581.8 1542.3h0M639.2 1533.1h0M763.1 1514.5h0M406.6 1534.9h0M539.1 1521.8h0M723.4 1533.4h0M611.7 1560.8h0M703.4 1553.9h0M617.3 1554.5h0M519.4 1517.4h0M503.2 1506.5h0M663.4 1569.3h0M736.7 1572.6h0M785.6 1557.7h0M554.0 1554.3h0M553.0 1560.3h0M495.0 1510.8h0M670.4 1571.0h0M644.7 1534.2h0M514.6 1569.8h0M509.1 1539.5h0M648.0 1513.2h0M414.5 1534.8h0M399.0 1541.7h0M545.2 1529.6h0M539.4 1516.0h0M741.5 1545.7h0M541.6 1571.8h0M401.3 1546.3h0M610.7 1523.8h0M491.9 1512.0h0M831.4 1530.3h0M733.9 1564.4h0M429.1 1555.9h0M683.8 1532.2h0M741.6 1574.9h0M813.6 1538.2h0M487.2 1506.8h0M604.1 1518.5h0M717.5 1552.3h0M755.7 1521.6h0M799.2 1539.5h0M546.9 1570.4h0M779.6 1548.3h0M684.5 1549.1h0M475.7 1559.6h0M684.3 1532.2h0M798.8 1549.7h0M513.8 1517.4h0M528.8 1536.4h0M509.4 1552.7h0M768.9 1558.9h0M568.4 1555.1h0M527.6 1511.5h0M538.4 1540.6h0M807.2 1535.1h0M410.4 1506.0h0M405.2 1566.5h0M555.8 1517.9h0M804.7 1558.4h0M670.3 1564.2h0M828.8 1571.3h0M434.9 1566.2h0M541.5 1544.7h0M577.3 1510.4h0M679.6 1520.5h0M795.3 1556.3h0M699.7 1561.2h0M650.0 1525.1h0M592.5 1530.9h0M717.3 1551.3h0M661.6 1527.3h0M726.7 1565.0h0M638.6 1513.0h0M501.5 1516.1h0M800.3 1525.9h0M724.8 1515.1h0M692.2 1548.9h0M748.5 1530.9h0M429.3 1532.4h0M778.9 1574.0h0M650.1 1518.2h0M718.1 1539.9h0M391.9 1547.6h0M816.3 1530.4h0M488.2 1519.0h0M487.0 1515.4h0M665.3 1518.9h0M611.2 1531.6h0M533.9 1538.6h0M698.4 1531.3h0M647.8 1567.9h0M687.3 1572.4h0M761.5 1530.8h0M615.4 1568.3h0M556.6 1521.4h0M572.6 1526.1h0M737.4 1566.8h0M693.7 1564.2h0M617.4 1552.3h0M689.0 1556.8h0M804.9 1557.9h0M478.2 1518.1h0M716.9 1509.4h0M458.1 1527.1h0M742.7 1550.4h0M773.9 1546.5h0M606.1 1507.5h0M821.0 1573.0h0M567.1 1532.6h0M624.3 1563.4h0M615.4 1536.7h0M722.2 1541.5h0M666.0 1546.7h0M631.4 1519.5h0M569.7 1509.9h0M494.6 1559.2h0M501.5 1523.2h0M782.9 1558.3h0M461.3 1547.7h0M475.6 1507.4h0M643.2 1566.1h0M404.2 1533.7h0M453.2 1535.2h0M458.0 1543.7h0M777.8 1512.5h0M437.3 1535.9h0M487.6 1550.9h0M484.4 1556.4h0M644.2 1529.1h0M639.5 1558.7h0M652.8 1536.6h0M668.7 1553.0h0M831.3 1558.0h0M414.3 1512.7h0M546.2 1574.4h0M815.8 1543.9h0M673.7 1539.2h0M767.5 1567.0h0M563.0 1556.5h0M409.3 1533.4h0M828.3 1512.5h0M788.1 1556.3h0M665.3 1544.7h0M426.7 1516.1h0M641.0 1513.8h0M457.9 1532.8h0M553.3 1507.3h0M651.4 1553.3h0M758.4 1564.2h0M633.3 1549.1h0M707.5 1522.0h0M716.6 1532.7h0M388.0 1528.3h0M815.1 1528.8h0M407.0 1553.9h0M524.2 1518.6h0M717.1 1556.3h0M634.5 1569.4h0M544.5 1511.5h0M415.4 1507.4h0M667.2 1572.6h0M651.7 1506.9h0M674.5 1537.7h0M588.8 1560.5h0M766.7 1506.5h0M802.1 1536.4h0M822.3 1553.7h0M714.5 1569.5h0M408.2 1535.8h0M490.8 1556.0h0M716.5 1549.3h0M529.2 1516.3h0M509.0 1509.4h0M693.1 1542.1h0M685.2 1523.2h0M629.7 1506.7h0M406.1 1516.0h0M499.3 1532.0h0M616.2 1539.3h0M508.5 1517.6h0M574.5 1536.4h0M477.2 1511.1h0M640.6 1552.6h0M433.0 1539.5h0M446.9 1555.9h0M775.6 1539.2h0M617.7 1519.9h0M513.7 1506.6h0M417.3 1523.9h0M783.5 1540.5h0M822.4 1551.7h0M740.4 1506.4h0M478.7 1514.7h0M735.6 1527.9h0M771.9 1556.7h0M554.6 1524.0h0M759.8 1508.8h0M687.2 1516.4h0M524.0 1526.2h0M559.6 1531.5h0M812.2 1511.9h0M809.3 1559.0h0M739.2 1570.5h0M426.4 1544.6h0M631.0 1541.0h0M738.1 1520.3h0M476.0 1517.9h0M567.4 1520.2h0M782.9 1524.5h0M778.5 1555.8h0M721.5 1530.1h0M483.5 1557.2h0M591.5 1562.1h0M503.0 1529.1h0M672.8 1541.0h0M690.9 1558.1h0M731.7 1543.5h0M409.9 1507.6h0M708.0 1541.7h0M740.8 1533.2h0M679.2 1513.6h0M452.8 1524.7h0M484.7 1558.0h0M768.5 1570.1h0M733.3 1557.2h0M615.7 1540.6h0M734.3 1511.0h0M597.0 1574.5h0M506.9 1552.9h0M544.5 1541.1h0M801.4 1568.9h0M497.6 1545.9h0M541.6 1555.5h0M453.9 1522.7h0M473.9 1562.2h0M550.7 1513.6h0M621.5 1524.8h0M567.7 1530.2h0M669.5 1569.3h0M416.0 1558.7h0M429.6 1544.3h0M404.0 1569.7h0M807.1 1533.8h0M602.6 1510.5h0M542.5 1516.8h0M811.4 1532.2h0M806.3 1523.9h0M543.6 1525.8h0M487.6 1537.5h0M512.4 1565.3h0M522.5 1536.0h0M550.1 1553.9h0M698.6 1546.1h0M494.1 1532.2h0M576.8 1558.1h0M821.4 1549.5h0M777.1 1534.3h0M408.1 1515.7h0M623.4 1537.4h0M506.4 1532.6h0M399.3 1546.9h0M556.4 1525.4h0M603.8 1572.9h0M403.7 1543.8h0M587.1 1536.1h0M593.8 1513.4h0M448.6 1561.2h0M670.3 1539.7h0M485.9 1511.8h0M520.6 1537.0h0M731.3 1521.0h0M442.5 1530.4h0M429.7 1506.7h0M618.8 1507.2h0M564.1 1536.4h0M677.5 1545.5h0M490.2 1568.8h0M436.5 1542.8h0M379.4 1519.6h0M306.3 1519.4h0M311.1 1566.3h0M362.7 1551.0h0M332.1 1511.2h0M364.8 1561.0h0M346.7 1511.5h0M367.1 1545.6h0M290.7 1542.8h0M329.0 1529.6h0M338.0 1563.6h0M362.3 1574.5h0M308.9 1553.3h0M387.5 1528.6h0M365.0 1532.4h0M322.1 1507.2h0M377.8 1552.8h0M314.2 1508.1h0M345.9 1533.0h0M333.9 1515.0h0M289.1 1515.4h0M300.6 1543.5h0M279.3 1517.3h0M383.5 1563.2h0M385.6 1525.8h0M323.8 1561.2h0M373.1 1564.4h0M383.7 1514.8h0M284.7 1566.3h0M367.2 1558.5h0M285.4 1511.9h0M336.7 1508.9h0M281.4 1557.6h0M294.6 1534.6h0M378.2 1542.1h0M353.8 1529.0h0M303.5 1551.1h0M337.1 1522.7h0M369.3 1529.0h0M327.8 1563.1h0M349.6 1569.8h0M280.3 1548.2h0M341.8 1571.8h0M296.8 1568.3h0M351.4 1534.0h0M373.1 1530.2h0M315.6 1547.2h0M299.1 1568.2h0M383.0 1558.7h0M337.3 1546.9h0M335.3 1574.4h0M344.1 1546.5h0M356.9 1571.2h0M382.3 1562.0h0M282.6 1535.0h0M332.9 1549.9h0M316.4 1520.6h0M329.1 1536.1h0M286.1 1560.8h0M327.3 1511.8h0M285.8 1565.5h0M289.1 1533.0h0M284.2 1566.3h0M314.0 1539.7h0M345.9 1564.2h0M381.7 1534.6h0M323.0 1511.2h0M289.2 1533.7h0M299.7 1523.0h0M349.0 1523.0h0M339.6 1544.0h0M289.0 1548.6h0M295.0 1564.2h0M384.9 1516.1h0M365.1 1508.8h0M374.9 1519.8h0M300.4 1551.7h0M312.6 1558.0h0M352.1 1545.5h0M283.2 1543.9h0M368.3 1526.7h0M327.4 1565.7h0M307.8 1539.4h0M306.9 1537.5h0M359.7 1573.9h0M317.1 1527.2h0M329.5 1514.7h0M343.0 1554.3h0M375.9 1542.1h0M337.8 1533.0h0M324.5 1534.4h0M329.1 1524.6h0M319.6 1511.0h0M372.8 1549.0h0M350.5 1566.6h0M302.5 1510.3h0M350.2 1561.3h0M385.5 1542.5h0M298.2 1525.1h0M303.5 1506.6h0M354.5 1547.0h0M319.9 1556.6h0M284.2 1525.0h0M340.0 1522.8h0M280.5 1507.4h0M310.2 1529.7h0M378.1 1506.9h0M319.5 1513.7h0M309.3 1551.1h0M338.8 1557.2h0M357.3 1517.2h0M380.1 1508.9h0M296.2 1570.7h0M292.0 1513.3h0M381.9 1567.0h0M324.0 1527.2h0M382.7 1545.5h0M329.8 1533.9h0M293.6 1507.2h0M329.3 1566.3h0M293.1 1507.6h0M286.1 1571.5h0M315.9 1571.3h0M326.6 1550.1h0M361.5 1525.7h0M347.0 1526.4h0M287.6 1550.0h0M385.9 1573.6h0M307.9 1554.5h0M296.4 1536.7h0M328.8 1572.3h0M345.6 1542.9h0M298.8 1566.9h0M297.0 1565.2h0M375.9 1513.7h0M300.6 1538.9h0M340.7 1570.9h0M289.4 1540.4h0M293.2 1527.3h0M284.2 1533.6h0M367.2 1507.8h0M324.8 1537.2h0M315.7 1541.4h0M376.4 1519.0h0M325.8 1531.7h0M281.7 1565.0h0M352.3 1513.7h0M352.6 1563.8h0M281.7 1559.4h0M321.4 1557.5h0M308.9 1552.8h0M360.1 1539.0h0M278.7 1551.0h0M357.6 1507.6h0M290.6 1549.1h0M299.5 1552.2h0M292.9 1571.2h0M300.2 1557.0h0M292.1 1554.6h0M369.5 1572.0h0M333.2 1516.5h0M362.2 1533.3h0M310.5 1529.3h0M311.0 1536.2h0M324.5 1513.6h0M302.7 1520.9h0M380.4 1567.0h0M307.8 1569.5h0M350.4 1551.1h0M353.5 1534.9h0M302.1 1551.5h0M299.4 1559.2h0M365.5 1531.3h0M369.3 1510.9h0M376.3 1545.8h0M302.7 1507.3h0M319.6 1542.7h0M283.9 1549.5h0M358.5 1518.6h0M372.9 1549.8h0M319.0 1511.6h0M371.0 1538.4h0M361.9 1557.3h0M286.6 1514.9h0M370.9 1573.4h0M329.7 1512.9h0M370.2 1548.9h0M328.8 1555.0h0M350.9 1554.7h0M342.1 1507.2h0M304.1 1506.2h0M302.5 1549.7h0M306.5 1554.3h0M292.2 1518.9h0M360.6 1533.1h0M366.5 1552.4h0M370.0 1514.7h0M345.0 1534.7h0M288.4 1550.9h0M344.9 1521.5h0M370.7 1538.2h0M368.3 1574.8h0M278.6 1559.2h0M284.9 1557.3h0M385.8 1548.7h0M833.4 1564.8h0M843.3 1572.1h0M849.5 1543.5h0M863.7 1560.1h0M871.1 1545.6h0M845.6 1573.6h0M869.0 1517.1h0M879.7 1535.0h0M856.7 1559.5h0M860.7 1507.1h0M847.3 1523.0h0M852.3 1553.1h0M842.9 1514.0h0M839.3 1528.8h0M838.0 1574.6h0M865.6 1509.1h0M834.0 1515.8h0M871.3 1512.8h0M854.1 1534.8h0M859.8 1507.7h0M869.1 1570.5h0M847.8 1532.3h0M849.4 1512.7h0M863.4 1556.2h0M834.2 1523.9h0M839.6 1569.6h0M853.2 1563.1h0M847.8 1569.4h0M859.8 1524.2h0M863.3 1564.3h0M849.8 1568.5h0M861.3 1565.7h0M869.9 1545.1h0M866.1 1535.7h0M860.3 1542.3h0M840.7 1530.2h0M858.7 1527.0h0M873.2 1507.2h0M879.8 1536.6h0M869.7 1512.8h0M843.8 1535.4h0M863.7 1560.4h0M877.4 1513.0h0M855.5 1563.2h0M874.6 1554.1h0M862.0 1567.9h0M835.3 1556.0h0M832.1 1526.0h0M863.2 1506.0h0M834.9 1522.5h0M867.9 1557.0h0M871.2 1528.8h0M869.2 1517.8h0M837.7 1516.7h0M848.8 1528.2h0M855.9 1536.0h0M852.1 1516.5h0M837.7 1506.3h0M844.8 1571.3h0M867.7 1534.2h0M839.6 1548.2h0M856.5 1567.3h0M833.8 1564.5h0M866.4 1531.7h0M864.8 1574.1h0M858.4 1547.5h0M879.1 1569.1h0M845.2 1557.0h0M878.8 1565.0h0M835.1 1506.3h0M855.0 1565.8h0M843.6 1537.6h0M867.4 1554.7h0M851.7 1553.1h0M863.7 1557.8h0M840.9 1547.0h0M853.7 1509.8h0M845.8 1553.5h0M878.6 1547.1h0M846.2 1566.1h0M850.2 1569.6h0M842.2 1559.8h0M865.1 1530.6h0M836.6 1523.3h0M866.3 1521.4h0M878.0 1518.7h0M867.5 1508.3h0M871.9 1569.8h0M857.1 1554.1h0M876.9 1564.3h0M855.9 1571.7h0M855.9 1560.3h0M871.6 1571.6h0M835.5 1563.0h0M874.7 1526.0h0M846.0 1537.8h0M838.8 1538.2h0M907.4 1522.8h0M888.5 1572.7h0M905.3 1575.1h0M900.6 1533.6h0M886.2 1555.3h0M887.9 1509.1h0M886.7 1560.7h0M881.0 1529.6h0M900.5 1530.8h0M897.3 1523.2h0M908.1 1520.5h0M892.5 1505.7h0M883.0 1550.5h0M897.0 1523.6h0M911.6 1548.6h0M910.6 1554.1h0M911.8 1573.3h0M902.5 1562.5h0M881.7 1512.7h0M890.6 1546.2h0M894.7 1574.6h0M884.6 1533.8h0M898.3 1512.0h0M886.9 1509.3h0M895.9 1569.9h0M911.1 1535.2h0M910.0 1530.4h0M881.0 1528.1h0M890.9 1564.6h0M899.2 1525.9h0M887.6 1573.6h0M905.8 1553.6h0M888.3 1568.8h0M886.0 1543.0h0M902.0 1548.2h0M895.4 1559.5h0"/><path stroke="#00BFC4" d="M459.1 1245.7h0M765.2 1003.2h0M866.5 1055.9h0M680.3 1166.9h0M774.3 1032.6h0M505.6 1272.4h0M980.5 953.8h0M727.4 1030.9h0M494.2 1360.2h0M417.5 1325.5h0M615.2 1026.9h0M584.0 1229.7h0M559.6 881.5h0M529.0 1185.2h0M828.2 941.9h0M651.3 1042.5h0M519.1 1304.5h0M513.6 1144.9h0M869.1 1147.2h0M821.8 1159.6h0M471.0 1220.3h0M825.4 939.6h0M1406.3 892.1h0M784.4 1071.8h0M737.1 1065.5h0M712.9 1007.9h0M623.6 1039.2h0M562.0 1165.2h0M414.3 1397.4h0M492.9 1279.3h0M668.1 685.5h0M993.1 1098.4h0M623.7 1127.1h0M1058.2 1133.0h0M761.4 1170.5h0M525.9 1078.8h0M510.2 1083.4h0M990.3 989.3h0M510.4 1207.7h0M455.4 1163.6h0M686.5 1173.8h0M484.2 1236.6h0M487.2 1181.3h0M760.9 1103.8h0M897.0 1215.7h0M622.5 1173.0h0M640.1 1006.6h0M717.7 948.0h0M963.4 1259.6h0M876.5 968.2h0M1117.9 922.6h0M525.1 1238.4h0M727.3 1106.0h0M657.8 1038.2h0M984.6 1028.5h0M454.8 1278.9h0M693.9 1035.6h0M815.4 1238.7h0M695.5 1003.5h0M710.5 574.8h0M875.5 1204.2h0M808.5 1069.0h0M745.4 1040.1h0M630.2 1156.1h0M980.5 975.2h0M985.4 855.7h0M1006.9 1020.6h0M788.2 1129.9h0M1545.9 1246.5h0M1156.4 915.2h0M868.1 1051.5h0M759.8 939.5h0M1002.6 1072.7h0M831.8 1049.4h0M605.2 1151.9h0M676.6 847.2h0M862.8 988.8h0M482.0 1130.6h0M936.0 819.3h0M649.5 1262.6h0M401.2 1323.5h0M1010.0 959.9h0M545.9 1211.5h0M751.7 1230.5h0M837.1 1030.2h0M554.1 1315.1h0M476.0 1320.7h0M487.8 1141.2h0M553.8 1184.0h0M443.1 1312.0h0M792.0 1062.8h0M389.2 1283.3h0M667.5 1087.9h0M620.5 1348.4h0M667.8 1060.9h0M693.2 1096.2h0M383.8 1147.2h0M810.1 1064.6h0M794.4 986.9h0M856.3 705.0h0M567.0 1158.0h0M540.6 1219.3h0M920.5 1008.9h0M806.7 1049.5h0M765.7 1048.9h0M858.7 1086.6h0M737.5 1196.8h0M1481.5 526.5h0M882.5 962.4h0M986.5 1065.2h0M485.3 1171.0h0M777.6 970.4h0M480.9 1212.9h0M473.5 1198.1h0M668.5 1001.1h0M518.5 1031.0h0M910.7 1027.3h0M811.0 1048.2h0M515.7 1100.9h0M768.2 993.0h0M842.7 977.0h0M635.5 1209.9h0M642.5 1098.7h0M470.7 1262.2h0M414.1 1378.4h0M964.6 280.0h0M793.9 1211.8h0M867.9 913.4h0M430.3 1328.1h0M698.6 1046.6h0M739.2 1147.6h0M547.7 1266.1h0M977.3 411.0h0M380.1 1255.3h0M741.1 1203.5h0M858.1 1087.4h0M570.5 974.1h0M444.2 1191.0h0M811.5 918.3h0M865.0 1022.8h0M849.3 1039.7h0M950.7 1210.8h0M927.8 959.9h0M933.7 1082.8h0M814.4 1064.3h0M637.6 1014.9h0M568.9 1147.1h0M489.9 1144.2h0M942.6 1036.1h0M856.2 1123.0h0M778.6 1056.9h0M795.5 948.2h0M876.0 1078.3h0M647.2 897.4h0M418.1 1131.7h0M551.5 1138.2h0M919.0 1011.7h0M794.8 759.2h0M978.7 898.0h0M733.2 1049.5h0M661.6 1138.0h0M904.0 1102.6h0M481.2 1316.9h0M452.9 1224.6h0M838.4 888.9h0M278.7 1180.2h0M731.9 539.7h0M322.7 1266.2h0M634.8 1270.8h0M464.1 1367.0h0M911.1 1179.0h0M799.8 1209.8h0M571.9 912.1h0M1037.0 1236.2h0M454.7 1125.8h0M862.7 1038.8h0M842.8 1016.7h0M463.3 1304.8h0M902.7 935.4h0M614.0 1015.8h0M604.7 1141.6h0M766.2 1025.2h0M811.6 1044.0h0M847.0 1252.7h0M535.4 1240.2h0M831.6 1059.0h0M424.2 1277.5h0M824.6 1062.3h0M477.5 1198.5h0M529.0 1377.9h0M728.8 967.8h0M614.8 1041.1h0M1044.3 972.8h0M784.6 1170.4h0M658.1 1004.4h0M538.2 1077.6h0M587.1 1207.5h0M537.9 1270.1h0M846.7 1114.9h0M925.4 1021.2h0M501.0 1250.5h0M842.1 320.0h0M586.2 1196.9h0M730.8 1123.6h0M595.8 1036.9h0M736.9 1262.9h0M711.5 1019.5h0M582.1 1049.2h0M825.2 1082.5h0M766.6 1083.4h0M736.0 1111.3h0M380.8 1260.6h0M557.5 1219.8h0M891.3 1216.5h0M782.7 1051.3h0M482.8 1136.0h0M851.6 982.2h0M731.5 1035.5h0M561.1 1069.4h0M893.3 979.7h0M765.3 999.5h0M836.0 1059.3h0M785.7 1066.1h0M821.3 1019.4h0M636.4 1084.4h0M682.8 1151.2h0M507.5 1265.8h0M1348.3 1171.1h0M968.7 1045.5h0M1155.6 959.6h0M633.8 1370.3h0M580.9 1200.7h0M756.3 931.8h0M393.5 1159.5h0M640.7 1190.7h0M900.3 373.9h0M517.3 1208.4h0M1332.1 633.9h0M516.1 1267.6h0M841.0 951.6h0M770.2 1095.7h0M414.8 1114.4h0M705.0 1251.4h0M451.7 1125.4h0M404.2 1143.2h0M475.0 1270.1h0M533.5 1117.2h0M388.7 1214.4h0M463.8 1280.5h0M618.9 1422.7h0M823.3 1064.4h0M869.9 1007.5h0M779.2 1056.0h0M431.9 1240.6h0M522.1 1345.9h0M760.5 1260.6h0M443.4 1159.0h0M482.5 1288.1h0M821.6 1120.8h0M938.0 1091.3h0M477.3 1100.2h0M457.7 1321.2h0M470.9 1360.5h0M829.0 1022.1h0M643.9 982.0h0M531.4 1154.4h0M679.4 1229.3h0M868.3 1168.5h0M556.0 1390.7h0M447.7 1259.3h0M759.9 1098.4h0M771.8 994.6h0M825.2 1021.7h0M510.0 1340.7h0M619.2 1114.7h0M753.8 881.5h0M922.9 1013.9h0M657.2 550.1h0M439.2 1132.4h0M541.4 1082.2h0M480.9 1228.2h0M723.4 978.9h0M384.6 1429.0h0M686.4 920.7h0M467.8 1237.4h0M733.3 1227.8h0M480.4 1290.9h0M637.9 1287.1h0M777.8 940.5h0M673.5 979.8h0M666.8 891.3h0M697.5 1104.4h0M799.4 993.6h0M616.7 1118.3h0M400.0 1351.8h0M500.2 1199.2h0M415.4 1259.8h0M818.5 952.1h0M593.4 1185.2h0M809.6 1124.3h0M922.1 1019.4h0M1008.7 1159.9h0M446.5 1159.4h0M864.3 1092.2h0M816.7 469.6h0M602.5 1187.3h0M700.6 1006.3h0M516.9 1315.9h0M963.4 1136.6h0M812.2 991.7h0M629.1 1150.5h0M803.9 1074.7h0M548.3 965.5h0M776.8 1046.8h0M755.8 1057.3h0M693.7 1029.4h0M678.5 1143.0h0M655.2 1029.4h0M385.1 1127.0h0M539.7 1168.5h0M696.2 871.7h0M337.8 952.0h0M654.4 1053.1h0M881.4 1181.1h0M795.5 1048.7h0M947.9 1139.4h0M675.7 969.5h0M784.0 1248.7h0M1066.7 1101.2h0M797.5 937.4h0M1618.0 1123.1h0M470.5 1142.7h0M600.3 1151.8h0M1068.8 884.6h0M738.7 1233.9h0M397.5 1280.0h0M653.6 1255.8h0M730.6 1202.4h0M496.5 1134.2h0M905.5 1078.3h0M658.6 1197.4h0M582.9 1178.6h0M626.5 1215.7h0M851.9 1054.9h0M759.8 986.8h0M447.0 1146.9h0M691.7 1067.1h0M615.7 1214.5h0M570.6 1195.6h0M1059.0 1043.3h0M839.2 944.1h0M714.6 895.0h0M861.5 1124.2h0M854.8 1099.8h0M824.5 1118.9h0M531.5 1102.1h0M948.7 1024.9h0M709.1 1057.5h0M810.8 1161.2h0M804.1 1027.7h0M837.5 1073.4h0M596.3 1201.6h0M737.1 1121.8h0M949.3 1152.1h0M780.0 993.2h0M839.7 1096.9h0M857.5 1057.5h0M661.6 1143.4h0M695.4 1199.9h0M812.1 950.6h0M668.1 1055.7h0M746.5 883.3h0M788.9 1197.6h0M544.1 1169.7h0"/><path stroke="#F8766D" d="M401.6 1298.0h0M805.1 1449.1h0M582.1 1046.8h0M443.8 1111.2h0M593.9 1388.7h0M641.6 1254.8h0M615.2 1314.1h0M616.2 1105.8h0M639.3 1196.8h0M648.1 1046.8h0M607.3 1332.7h0M602.3 1407.5h0M608.0 1413.8h0M547.5 1238.1h0M416.0 1220.2h0M690.6 1253.5h0M593.0 1128.0h0M534.9 1117.9h0M513.9 1419.2h0M650.1 1178.9h0M444.4 1268.4h0M652.9 1457.8h0M523.1 1383.1h0M455.8 1120.2h0M737.6 1290.1h0M721.8 1119.4h0M460.2 1263.1h0M571.0 1191.1h0M538.4 1181.9h0M871.7 1241.2h0M670.2 1385.5h0M648.0 1283.4h0M371.7 1164.5h0M815.4 1201.6h0M941.8 1513.9h0M645.2 1494.2h0M774.5 1295.5h0M443.3 1218.9h0M830.7 1431.5h0M546.4 1118.0h0M960.6 1089.9h0M584.8 1285.5h0M533.9 1123.7h0M766.3 1126.7h0M667.7 1400.8h0M596.4 1001.9h0M832.7 1142.3h0M663.4 1062.0h0M506.2 1233.3h0M636.5 1171.3h0M766.8 1322.7h0M777.1 934.2h0M303.0 1434.7h0M581.6 1331.6h0M588.9 1230.7h0M559.7 1196.4h0M423.1 1423.0h0M577.9 1295.1h0M1008.8 1513.9h0M789.0 1252.7h0M392.3 1353.2h0M606.7 802.6h0M591.9 1321.9h0M631.7 1427.4h0M941.5 1165.5h0M733.4 1012.3h0M490.3 1111.3h0M679.3 1428.1h0M270.2 1566.5h0M701.0 1284.0h0M899.1 1460.2h0M619.2 1328.6h0M530.7 1418.8h0M689.6 1386.1h0M591.9 1161.8h0M425.9 1220.4h0M677.5 1298.1h0M659.5 1150.3h0M518.4 1212.3h0M534.6 1199.7h0M668.7 1185.2h0M482.7 1168.9h0M913.2 1215.0h0M1258.7 1558.5h0M587.0 1385.7h0M532.9 1398.5h0M680.0 1191.5h0M607.4 1206.3h0M598.4 1276.4h0M585.3 1251.6h0M540.4 1330.4h0M827.8 1161.4h0M600.1 1118.9h0M611.1 1436.6h0M727.1 1136.5h0M672.6 1288.5h0M726.3 1273.3h0M562.2 1144.7h0M560.0 1353.7h0M488.5 1091.2h0M615.3 1502.1h0M883.0 1496.2h0M588.1 1102.6h0M772.3 1138.9h0M1015.4 1565.4h0M1372.6 517.2h0M741.9 1303.1h0M525.4 1416.3h0M477.9 1206.5h0M638.1 1334.1h0M597.9 1490.6h0M565.1 1457.7h0M669.6 1497.4h0M554.4 1075.0h0M727.7 1311.0h0M682.8 1049.9h0M551.2 981.5h0M625.5 1447.1h0M437.7 1393.8h0M750.6 951.9h0M519.5 1241.4h0M925.4 881.5h0M717.9 1305.8h0M747.3 1219.8h0M662.3 1209.6h0M882.8 1154.9h0M595.5 1184.9h0M602.1 1134.1h0M485.4 1055.5h0M508.5 1433.3h0M754.6 1224.3h0M584.7 764.7h0M654.7 1134.3h0M632.5 845.3h0M745.3 1378.8h0M543.7 1302.0h0M923.8 1194.5h0M548.2 1268.5h0M752.7 1352.7h0M567.8 1188.5h0M418.8 1344.9h0M577.8 1201.6h0M632.6 1277.7h0M560.7 1400.8h0M594.3 1232.2h0M563.5 1154.1h0M451.5 1371.5h0M791.0 1450.1h0M509.3 1211.5h0M735.9 1451.1h0M527.3 1175.5h0M620.2 1060.7h0M825.3 1291.1h0M592.5 1294.6h0M662.0 1498.6h0M527.0 1277.2h0M637.6 1377.0h0M517.1 1161.0h0M750.9 1483.0h0M636.9 1392.1h0M502.9 1201.5h0M938.0 1128.1h0M820.1 740.9h0M692.4 1420.0h0M537.8 1169.4h0M605.5 1234.7h0M594.6 1288.9h0M637.9 1282.2h0M671.9 1454.9h0M665.5 1282.2h0M732.1 776.2h0M597.7 1285.4h0M410.6 1486.6h0M636.2 1080.4h0M609.6 1138.4h0M731.9 1121.3h0M784.4 1334.7h0M649.5 1263.6h0M675.0 1242.6h0M593.2 1496.9h0M729.0 1484.6h0M660.6 1137.7h0M525.9 1367.8h0M671.6 1322.4h0M442.5 1250.0h0M589.3 1157.3h0M490.5 1471.9h0M674.4 1294.6h0M672.3 1330.0h0M621.6 1242.4h0M492.0 1173.1h0M583.1 1328.1h0M562.7 1283.9h0M514.7 1276.4h0M828.7 1332.4h0M522.3 1358.8h0M620.2 1329.3h0M464.9 1186.0h0M772.2 1429.1h0M746.8 1400.9h0M669.3 1401.5h0M685.9 1050.6h0M675.0 1032.7h0M639.4 1336.6h0M715.1 1104.1h0M550.0 1152.7h0M927.1 1427.8h0M763.0 1239.2h0M608.1 1379.0h0M610.2 1282.2h0M532.0 879.7h0M626.6 1370.8h0M616.5 1428.0h0M468.4 1369.3h0M500.6 1398.1h0M481.4 1227.6h0M678.5 1184.2h0M1180.4 1524.7h0M789.4 885.8h0M1044.8 1515.4h0M515.9 1110.6h0M633.0 1366.4h0M675.5 1198.0h0M766.9 995.1h0M549.9 1127.0h0M1188.2 1278.7h0M691.4 1389.3h0M415.7 1307.4h0M652.4 1145.9h0M603.3 994.4h0M635.1 948.7h0M579.4 1201.0h0M684.6 1035.4h0M488.4 1371.9h0M635.1 1353.0h0M900.6 1559.5h0M639.9 955.4h0M673.3 1286.4h0M534.4 1253.3h0M774.1 1087.9h0M603.8 1156.3h0M413.9 1441.5h0M590.9 1503.0h0M454.2 1412.6h0M605.0 751.2h0M669.2 861.9h0M574.8 1186.8h0M692.9 1105.9h0M649.6 1164.3h0M706.0 1419.5h0M644.3 1132.6h0M548.1 1152.0h0M772.1 987.3h0M670.5 1292.0h0M703.8 1072.5h0M535.6 1389.3h0M480.6 1082.0h0M643.6 1488.7h0M645.8 1296.3h0M887.4 945.9h0M703.1 1276.4h0M678.3 1500.4h0M278.1 1561.4h0M762.9 1452.1h0M1028.6 1546.3h0M387.5 1287.5h0M684.9 1496.8h0M452.3 1496.6h0M847.5 1072.4h0M663.3 1328.1h0M702.1 1443.7h0M592.0 1348.9h0M712.0 1055.8h0M578.2 1307.2h0M662.1 1352.9h0M612.4 1330.1h0M634.8 1064.3h0M486.9 1281.1h0M1047.7 1518.3h0M891.3 1197.4h0M766.2 616.7h0M569.6 1117.7h0M574.2 1392.1h0M606.9 1385.5h0M755.9 1150.8h0M538.2 935.4h0M432.3 1264.7h0M623.4 1047.4h0M808.5 1211.3h0M640.6 1352.3h0M655.0 1482.1h0M445.9 1367.8h0M678.7 1191.6h0M807.6 1450.4h0M653.7 1397.3h0M658.5 1092.5h0M755.7 1084.0h0M419.9 1133.2h0M1354.8 1573.7h0M528.9 1221.3h0M643.7 1299.9h0M533.4 1310.7h0M498.6 1406.0h0M574.9 1139.5h0M504.9 1177.4h0M633.6 946.4h0M620.6 1491.3h0M661.1 1424.3h0M613.4 1325.8h0M795.2 1378.8h0M551.7 978.8h0M617.5 1081.0h0M504.9 1089.1h0M754.7 1156.7h0M551.4 1080.8h0M553.5 1207.8h0M590.8 1380.6h0M586.2 1254.8h0M566.0 1254.4h0M766.1 1163.8h0M597.2 1286.1h0M535.1 1317.3h0M975.7 1454.3h0M647.5 1121.7h0M636.7 987.5h0M716.0 1128.6h0M658.5 1353.1h0M681.3 1222.2h0M614.6 1411.4h0M579.0 1108.9h0M566.4 831.2h0M599.0 1253.9h0M660.9 1421.3h0M664.8 1005.2h0M652.7 920.7h0M566.9 1151.5h0M599.4 1405.3h0M287.7 1496.3h0M695.4 1053.4h0M674.5 1148.6h0M545.9 1440.5h0M561.4 1125.2h0M772.5 1112.6h0M517.0 1263.2h0M529.7 1350.6h0M627.7 1421.6h0M916.8 1198.8h0M611.1 1390.1h0M650.8 841.0h0M617.5 1266.4h0M433.3 983.2h0M569.8 1088.9h0M619.7 1341.5h0M602.8 1175.2h0M587.7 1286.8h0M1554.5 327.4h0M676.9 1486.3h0M668.3 1184.7h0M644.6 1432.6h0M562.9 1312.7h0M818.9 1336.9h0M624.7 1473.8h0M653.3 1483.6h0M718.3 1398.2h0M631.1 1270.8h0M669.5 1403.0h0M626.5 1315.4h0M527.1 1026.1h0M620.0 1080.0h0M579.4 1278.4h0M877.4 1056.6h0M723.5 1380.5h0M867.1 1091.0h0M573.8 1179.0h0M560.5 1138.2h0M526.2 1255.0h0M537.1 1490.0h0M825.0 1341.8h0M512.4 1172.3h0M549.5 1089.6h0M731.6 1408.4h0M765.8 1296.4h0M610.1 1073.5h0M583.3 1150.4h0M539.2 1120.4h0M554.8 1382.6h0M678.7 1132.7h0M670.8 1359.1h0M443.2 1184.2h0M648.6 1305.5h0M556.4 1484.8h0M601.3 1317.1h0M993.3 1452.8h0M517.1 1316.7h0M572.7 1272.1h0M679.3 1333.1h0M661.2 1165.4h0M652.7 1239.9h0M557.3 1219.3h0M671.2 1288.9h0M792.9 1451.9h0M528.1 1301.5h0M543.3 1457.5h0M804.4 1164.7h0M694.4 1252.0h0M505.8 1355.9h0M960.9 1480.8h0M450.7 1205.4h0M631.3 1288.8h0M812.6 1483.4h0M799.8 1307.3h0M564.6 1136.7h0M528.9 1088.1h0M500.0 1489.6h0M587.5 1354.3h0M618.5 870.5h0M380.0 1120.4h0M950.6 1505.1h0M468.8 1213.9h0M594.4 1016.5h0M765.1 1009.8h0M861.3 1252.8h0M1061.0 1565.4h0M533.9 1173.9h0M545.1 1134.6h0M698.7 1051.2h0M624.4 1323.7h0M856.7 1403.8h0M623.6 1345.8h0M592.4 1231.9h0M572.0 1329.3h0M673.7 1297.4h0M500.8 1376.6h0M627.7 886.4h0M610.7 1136.0h0M676.9 1101.5h0M735.1 1467.2h0M1245.7 1125.3h0M584.0 1344.7h0M506.0 1336.3h0M920.7 1056.0h0M573.9 1067.7h0M708.3 1255.4h0M811.5 1438.6h0M573.8 1298.5h0M500.8 1001.6h0M588.5 1424.5h0M569.4 1100.6h0M539.4 940.3h0M917.2 803.9h0M528.6 1306.7h0M600.2 1283.8h0M594.1 1293.0h0M669.2 825.1h0M642.4 1132.5h0M589.3 1341.2h0M740.8 1175.7h0M869.2 1424.3h0M615.3 1335.1h0M557.1 1423.0h0M485.7 1323.1h0M815.7 1149.4h0M670.0 1192.8h0M656.6 1354.8h0M556.9 1409.6h0M497.9 1389.2h0M561.6 1376.7h0M626.5 1477.4h0M533.7 1400.8h0M723.9 1332.7h0M649.0 1319.4h0M521.0 1064.1h0M795.3 1184.6h0M531.1 1465.6h0M403.9 1078.2h0M584.0 1149.1h0M644.3 1095.3h0M441.3 1249.9h0M590.5 1379.9h0M1088.6 1263.8h0M632.9 983.0h0M624.8 1402.4h0M1451.5 1543.8h0M624.2 1315.7h0M764.9 1165.8h0M644.3 1091.7h0M546.6 1299.2h0M649.9 1313.9h0M677.7 1361.2h0M634.4 1446.8h0M651.7 1117.2h0M679.0 915.8h0M628.3 1328.5h0M938.7 763.4h0M431.4 1235.8h0M525.2 1185.3h0M692.9 1107.6h0M563.9 1215.3h0M531.9 1238.6h0M481.8 1056.8h0M571.1 1052.1h0M504.3 1283.7h0M600.1 1317.7h0M658.7 1297.9h0M748.3 1083.1h0M737.8 1061.8h0M767.8 1110.9h0M649.3 1333.7h0M657.3 1108.6h0M270.7 1534.8h0M600.8 1176.6h0M487.0 1131.1h0M576.5 1037.6h0M799.2 1351.4h0M613.4 1370.3h0M610.1 1373.4h0M744.9 1148.6h0M665.6 1477.6h0M748.9 1005.5h0M600.2 1198.7h0M543.6 1249.6h0M753.2 1494.0h0M569.2 1055.5h0M608.1 919.5h0M515.1 1483.6h0M543.4 1291.8h0M919.9 1012.8h0M1021.3 1549.2h0M686.2 975.9h0M612.6 1146.2h0M649.8 1166.7h0M826.4 1428.2h0M534.9 1261.2h0M497.7 1027.3h0M605.1 1161.6h0M722.4 1500.0h0M559.4 1113.7h0M1225.3 1529.9h0M570.3 1477.2h0M955.4 944.0h0M661.0 1390.9h0"/><path stroke="#F8766D" d="M530.5 1258.6h0M706.2 1072.2h0M566.8 967.8h0M578.4 963.3h0M618.0 1181.3h0M1111.2 1217.9h0M639.8 876.6h0M525.4 1458.6h0M592.0 1377.5h0M634.0 1331.0h0M1008.0 1547.7h0M745.4 1185.2h0M571.5 1138.5h0M710.1 1337.3h0M671.7 918.3h0M506.7 1260.6h0M717.0 1490.3h0M769.0 1495.8h0M447.0 1287.8h0M580.1 1101.9h0M490.3 1016.9h0M460.5 1225.9h0M642.3 1292.1h0M637.8 1234.0h0M582.9 1133.2h0M599.6 1296.8h0M402.7 1108.2h0M696.2 1300.4h0M445.2 1319.5h0M591.3 1444.9h0M613.9 1185.5h0M715.7 1145.7h0M597.3 1347.8h0M773.6 1121.0h0M758.8 1123.8h0M494.0 871.7h0M695.2 1282.7h0M559.7 1385.2h0M675.3 1249.5h0M666.7 1307.5h0M663.6 1126.3h0M491.8 1225.1h0M403.5 1220.6h0M651.2 1250.9h0M453.9 1340.0h0M763.4 1401.1h0M385.0 1482.4h0M767.8 1421.0h0M492.8 1263.4h0M436.2 1362.8h0M619.3 1042.9h0M562.5 1496.1h0M720.0 1051.7h0M675.4 1279.2h0M680.3 1430.2h0M674.4 1353.3h0M679.4 1476.9h0M987.4 1537.4h0M681.4 1382.9h0M353.5 1008.7h0M429.5 1399.6h0M639.3 1224.5h0M512.7 1201.9h0M420.3 1211.8h0M727.4 1327.7h0M746.1 1336.3h0M615.3 1445.4h0M690.7 1290.3h0M789.3 965.7h0M394.0 1296.7h0M447.6 1303.1h0M582.8 1332.4h0M626.6 1210.6h0M480.4 1266.7h0M598.2 896.8h0M608.1 1144.5h0M555.8 1138.7h0M604.0 1244.6h0M713.1 1252.8h0M542.8 1237.0h0M630.0 1080.2h0M544.1 1183.6h0M700.1 1354.7h0M679.1 1427.4h0M690.7 1279.2h0M623.9 1482.1h0M594.1 1264.5h0M539.3 1290.4h0M559.5 1063.9h0M837.4 1102.9h0M728.4 1325.1h0M705.0 1454.2h0M592.2 1104.8h0M636.1 898.0h0M636.5 1311.6h0M632.1 1272.5h0M615.3 1175.3h0M612.4 1216.7h0M560.4 1224.9h0M755.1 1443.3h0M485.1 1338.5h0M667.0 1342.3h0M399.4 1178.3h0M650.4 1321.1h0M1308.9 673.5h0M572.6 1166.8h0M581.8 1318.3h0M676.6 974.8h0M657.0 1329.6h0M341.4 1468.6h0M495.3 996.7h0M659.8 1308.3h0M636.1 1205.1h0M636.6 1434.3h0M633.0 1432.5h0M447.6 1450.5h0M713.6 1274.4h0M753.4 825.1h0M455.9 1394.6h0M377.1 1483.9h0M769.2 1441.5h0M617.1 1101.9h0M557.4 1326.0h0M642.3 872.9h0M606.1 1468.3h0M644.1 1282.2h0M684.7 1306.2h0M683.8 1207.7h0M595.4 1068.2h0M535.3 1101.0h0M593.7 1291.3h0M548.1 1319.3h0M921.2 1455.1h0M723.4 1401.9h0M666.5 1362.9h0M658.2 1313.6h0M698.4 1468.2h0M605.7 1245.9h0M535.4 1357.2h0M436.4 1288.0h0M546.9 1299.6h0M580.7 1456.0h0M384.9 1417.6h0M650.6 1308.2h0M580.2 1158.2h0M560.7 1290.1h0M459.9 1200.9h0M594.4 1170.0h0M583.6 1364.0h0M623.0 1057.6h0M707.8 1353.2h0M578.4 1024.4h0M733.7 1204.7h0M803.8 730.4h0M630.0 1429.8h0M817.8 1143.8h0M538.4 1151.7h0M941.8 1540.4h0M660.2 1486.6h0M653.1 1309.0h0M639.1 1209.1h0M692.3 1080.2h0M642.9 1194.7h0M626.6 1241.3h0M553.1 1213.7h0M714.6 1285.3h0M641.3 1253.1h0M1007.3 1441.1h0M568.5 1339.6h0M701.1 1173.7h0M590.7 1436.6h0M568.0 1025.5h0M594.8 1217.3h0M579.2 1237.7h0M715.4 1377.8h0M537.5 1119.4h0M326.1 1241.3h0M970.5 1185.3h0M632.7 1360.3h0M520.3 1215.4h0M900.6 1525.7h0M474.7 1329.8h0M619.0 1328.1h0M606.8 952.6h0M819.7 1276.9h0M669.3 985.9h0M588.3 1038.8h0M689.1 1468.2h0M698.7 1491.6h0M595.8 898.7h0M637.0 1143.1h0M645.7 1501.1h0M737.6 1485.2h0M587.2 1366.4h0M606.9 1084.2h0M535.7 1285.4h0M609.2 1280.7h0M688.9 898.0h0M557.6 1298.0h0M447.0 1224.7h0M596.6 1285.6h0M427.9 1445.0h0M580.3 1210.5h0M599.2 1306.7h0M631.1 1293.9h0M446.1 1175.7h0M455.6 1402.4h0M737.1 1218.9h0M692.1 1465.2h0M734.0 1471.0h0M695.4 1009.7h0M430.6 1320.2h0M652.5 1312.2h0M820.8 1374.1h0M633.7 1246.3h0M616.0 1298.2h0M616.9 1040.3h0M682.7 1009.1h0M716.1 1493.3h0M521.8 1365.4h0M611.4 1279.3h0M616.5 1148.6h0M663.8 1361.5h0M726.8 1413.5h0M813.2 1070.2h0M469.3 1272.2h0M577.9 1042.8h0M635.3 1360.2h0M496.1 1137.4h0M539.6 1454.7h0M653.5 1250.6h0M623.4 1378.1h0M794.7 1429.2h0M506.0 1276.0h0M859.6 993.4h0M516.2 1213.5h0M514.6 1275.4h0M750.1 1076.1h0M601.5 1331.3h0M501.4 863.1h0M634.0 1480.5h0M1071.3 1426.4h0M535.8 1465.8h0M648.1 1203.4h0M653.2 1005.4h0M1011.0 1450.6h0M661.0 1477.2h0M651.7 1346.5h0M533.0 1361.7h0M723.7 1212.5h0M794.7 978.6h0M655.8 1232.4h0M786.8 1231.8h0M673.5 1369.8h0M545.1 1233.5h0M616.1 1348.7h0M605.5 1321.8h0M524.1 1410.4h0M1058.0 1377.8h0M594.1 1358.2h0M401.0 1368.9h0M452.7 1258.3h0M800.7 1463.3h0M780.1 1226.0h0M824.7 1375.2h0M654.5 1242.2h0M693.8 881.5h0M963.9 1571.3h0M724.9 1288.3h0M711.7 1214.9h0M490.8 1352.0h0M774.4 1005.5h0M586.6 1298.3h0M727.9 1337.2h0M655.4 1144.8h0M590.4 1100.5h0M620.9 1261.9h0M645.1 1178.4h0M757.1 1006.3h0M594.1 1231.5h0M619.9 1473.5h0M627.0 1476.1h0M457.7 1149.0h0M571.8 1373.2h0M617.5 1453.9h0M644.7 1272.7h0M723.0 1415.3h0M494.8 1146.0h0M506.4 1353.9h0M746.8 1179.3h0M648.5 1149.7h0M545.4 1225.6h0M666.7 1467.6h0M580.2 1349.8h0M560.5 1028.0h0M582.4 1183.7h0M627.7 1224.6h0M827.9 1493.1h0M709.0 984.9h0M530.2 1345.3h0M559.9 1370.0h0M674.3 1181.0h0M541.4 1160.0h0M977.1 1566.9h0M410.4 1155.0h0M608.1 1379.6h0M619.2 1430.5h0M623.7 1343.1h0M681.9 1197.3h0M629.3 1236.6h0M566.4 1015.7h0M558.9 1250.6h0M485.7 1379.0h0M579.5 1132.2h0M827.9 1274.7h0M1277.4 236.8h0M646.3 1267.7h0M608.8 1422.4h0M1192.1 1346.4h0M594.7 1249.7h0M627.6 1326.5h0M487.2 1453.3h0M560.3 1472.5h0M760.9 815.1h0M672.0 1100.6h0M782.2 1091.7h0M503.7 1262.6h0M654.4 1058.1h0M618.2 1322.3h0M628.3 1204.2h0M674.0 1452.1h0M599.2 1320.7h0M988.9 1546.3h0M632.3 1265.7h0M597.5 1222.0h0M595.0 1424.4h0M582.6 1384.6h0M709.1 1459.4h0M450.7 1374.0h0M739.1 893.1h0M510.3 1170.9h0M579.1 1137.7h0M638.0 1299.3h0M770.0 1303.0h0M504.9 1255.9h0M479.0 1371.3h0M634.9 1493.8h0M680.9 1234.8h0M637.8 1259.8h0M728.4 1231.8h0M664.5 1298.6h0M622.8 1341.6h0M574.9 1325.4h0M675.4 1188.5h0M514.9 1044.5h0M674.5 1235.9h0M632.3 1402.0h0M693.7 1085.9h0M719.1 1099.0h0M702.8 1009.1h0M478.2 1312.8h0M655.5 1303.6h0M690.5 1378.7h0M467.0 1132.2h0M674.0 1174.4h0M597.4 1302.7h0M547.1 970.7h0M715.6 1169.9h0M613.6 1138.0h0M668.3 1312.9h0M543.8 1501.7h0M640.7 1100.6h0M629.8 1410.4h0M640.8 1489.4h0M690.5 1169.9h0M614.8 1452.1h0M619.6 1184.7h0M694.2 1488.1h0M693.3 1339.1h0M786.5 1030.1h0M346.8 816.2h0M665.9 1283.3h0M722.6 1396.2h0M569.5 1257.5h0M526.7 1238.4h0M654.5 1227.4h0M661.0 1410.7h0M608.2 1260.8h0M1011.0 1427.1h0M562.2 1119.8h0M731.4 1189.2h0M615.9 1231.2h0M562.4 1233.2h0M748.5 1396.3h0M683.8 1275.9h0M610.3 1264.9h0M666.5 1177.0h0M502.7 1322.0h0M483.2 1246.4h0M585.2 1321.7h0M603.0 1316.5h0M604.7 1384.4h0M745.8 1501.6h0M532.0 996.7h0M663.7 1012.0h0M815.3 1388.5h0M541.6 1361.5h0M600.4 1050.4h0M444.3 1320.5h0M705.7 1335.6h0M599.5 1395.3h0M1044.1 1405.8h0M789.6 1380.5h0M760.5 1214.8h0M677.5 1411.3h0M594.6 1222.6h0M747.2 1287.4h0M660.0 962.7h0M538.9 1368.3h0M480.3 1446.4h0M410.1 1330.4h0M644.1 1156.6h0M720.8 1298.8h0M614.5 1295.8h0M1107.7 1181.8h0M538.4 1288.2h0M766.9 1088.6h0M491.3 1337.0h0M545.6 1226.3h0M429.5 1422.8h0M430.0 1412.0h0M761.4 1161.0h0M364.3 1295.9h0M580.7 1427.4h0M616.0 1258.0h0M534.2 1257.1h0M474.4 1075.2h0M405.1 1018.8h0M662.9 1387.8h0M475.9 1345.7h0M705.3 1128.7h0M721.3 1442.9h0M593.9 1321.1h0M438.1 1442.6h0M550.6 1128.5h0M637.3 1433.8h0M896.2 1512.4h0M462.4 1275.2h0M746.2 1422.7h0M551.7 888.9h0M548.3 1406.8h0M644.6 1420.5h0M538.6 1326.0h0M679.1 1391.4h0M616.2 1153.2h0M639.8 1239.6h0M695.8 1427.3h0M598.3 1253.8h0M624.9 1311.6h0M613.8 1103.9h0M633.6 1312.8h0M1127.9 1444.8h0M655.6 1319.6h0M605.4 1439.7h0M527.9 1172.6h0M662.7 1475.3h0M461.0 1237.1h0M670.1 1355.2h0M587.3 1384.2h0M632.0 1487.4h0M507.9 1126.9h0M580.1 1080.0h0M603.8 1156.3h0M647.9 1323.6h0M487.2 1306.4h0M607.4 1182.4h0M315.2 1170.5h0M643.8 1439.4h0M697.2 1085.2h0M616.1 1409.9h0M569.8 1153.6h0M601.0 974.3h0M793.9 1051.8h0M600.4 1389.3h0M679.0 1153.6h0M592.4 1167.4h0M540.4 1041.2h0M770.9 1364.3h0M507.2 1150.6h0M454.3 1339.0h0M586.0 1251.0h0M690.1 933.0h0M697.5 1266.3h0M602.5 1351.8h0M540.2 1241.2h0M497.2 1220.6h0M582.3 1122.8h0M620.3 933.0h0M629.0 1359.1h0M577.4 1424.0h0M506.8 1266.8h0M696.7 1257.8h0M650.0 963.1h0M551.7 1195.4h0M534.8 1080.6h0M446.1 1223.9h0M422.3 936.7h0M555.5 1274.6h0M932.3 1185.3h0M687.7 1110.6h0M498.6 1289.5h0M590.9 1440.0h0M637.0 1193.2h0"/><path stroke="#00BFC4" d="M868.5 1004.8h0M814.0 1122.3h0M867.3 1044.5h0M480.1 1188.8h0M778.7 937.1h0M716.4 1198.4h0M807.1 992.4h0M909.4 770.1h0M907.3 1046.1h0M428.4 1318.0h0M692.3 1062.6h0M535.3 1175.5h0M513.3 1220.5h0M745.9 999.2h0M678.5 1205.1h0M705.4 1096.2h0M821.6 1235.3h0M475.0 1182.3h0M892.3 1062.9h0M521.9 1086.6h0M753.7 1071.4h0M793.9 1019.0h0M936.4 1027.3h0M749.8 609.4h0M1445.7 1184.7h0M457.7 1257.1h0M528.7 1258.5h0M605.2 995.0h0M695.4 1247.4h0M399.8 1316.6h0M822.8 1155.0h0M573.3 970.0h0M590.6 1073.3h0M627.9 793.1h0M508.3 1172.6h0M916.8 1035.9h0M830.2 1068.7h0M828.3 985.8h0M465.0 1395.4h0M756.4 1008.9h0M887.4 1043.3h0M876.1 991.0h0M505.4 1270.6h0M747.3 1117.6h0M745.5 1065.9h0M658.1 1088.0h0M638.4 1178.4h0M600.8 1338.5h0M988.9 1125.2h0M797.1 992.8h0M550.0 999.5h0M438.0 1298.1h0M808.8 1144.3h0M839.6 1034.2h0M938.0 1263.8h0M483.4 1264.2h0M734.0 1045.9h0M692.4 1264.3h0M1067.6 1024.9h0M401.8 1221.6h0M380.3 1383.8h0M717.2 1055.1h0M938.9 1044.5h0M600.3 1414.2h0M531.4 1310.2h0M410.8 1126.0h0M477.6 1161.7h0M786.6 967.0h0M671.4 1163.1h0M903.3 1247.6h0M476.4 1321.7h0M705.8 1159.6h0M491.0 1352.1h0M851.6 1027.6h0M710.9 1069.3h0M552.2 1419.7h0M837.4 960.7h0M672.3 944.2h0M816.6 1171.6h0M397.3 1239.0h0M381.6 1261.1h0M585.8 1117.0h0M842.1 983.6h0M727.9 1099.3h0M825.4 1033.6h0M477.3 1276.1h0M812.4 981.4h0M762.4 868.6h0M859.2 1182.0h0M909.7 1088.5h0M695.2 939.6h0M562.2 1032.0h0M434.9 1262.1h0M981.8 994.2h0M691.7 1312.9h0M391.0 1326.7h0M826.1 1005.7h0M720.5 1238.0h0M899.9 1012.9h0M737.2 1073.3h0M447.9 1147.7h0M772.5 1073.9h0M871.1 1045.8h0M877.5 939.2h0M480.5 1076.4h0M710.8 1096.7h0M598.1 1086.7h0M590.9 887.6h0M860.3 1003.7h0M520.5 1134.6h0M662.1 1077.7h0M757.6 937.2h0M705.6 1057.9h0M837.2 881.5h0M685.4 1192.6h0M744.1 993.8h0M747.5 1089.7h0M846.5 979.0h0M603.1 504.6h0M496.6 1286.6h0M714.6 901.1h0M824.8 745.4h0M843.5 1024.6h0M503.1 1224.0h0M444.4 1236.7h0M441.2 1283.1h0M418.9 1245.3h0M591.6 1197.5h0M716.9 1044.1h0M994.5 1169.8h0M805.6 958.2h0M712.1 943.1h0M631.6 1050.6h0M527.1 1212.2h0M511.4 1140.4h0M722.0 1051.9h0M791.0 948.2h0M739.7 975.1h0M647.9 1124.7h0M726.5 1259.5h0M675.0 1024.5h0M653.6 1025.4h0M859.0 952.6h0M655.7 991.4h0M462.8 1108.5h0M700.9 1191.5h0M910.7 923.2h0M527.9 1214.7h0M857.1 1071.4h0M942.5 991.8h0M631.0 1038.0h0M437.1 1201.5h0M822.2 1209.9h0M1128.4 466.4h0M738.9 1199.7h0M725.6 855.7h0M856.2 1011.1h0M675.3 1363.0h0M548.8 1184.2h0M946.2 1072.7h0M648.7 1184.3h0M615.3 1185.1h0M652.2 995.2h0M979.3 1008.3h0M986.1 1121.0h0M737.1 1156.3h0M484.7 1189.1h0M738.1 1014.3h0M765.6 1213.3h0M700.3 1006.5h0M630.9 1298.5h0M610.9 1136.8h0M586.4 1055.1h0M974.7 1177.6h0M277.4 1231.7h0M712.5 1116.8h0M598.1 1119.3h0M459.2 1274.0h0M741.6 1132.9h0M953.0 952.0h0M485.0 1107.8h0M392.9 1400.9h0M776.3 992.5h0M764.2 950.3h0M818.2 1250.9h0M814.5 1058.3h0M416.9 1249.4h0M519.5 1123.3h0M857.6 1092.3h0M504.2 1209.8h0M755.0 1018.4h0M591.3 1198.4h0M601.2 1164.2h0M776.6 1155.7h0M862.4 1252.6h0M525.8 1113.4h0M497.6 1238.0h0M1010.1 1128.1h0M1042.6 1093.4h0M895.9 896.2h0M559.5 640.0h0M621.4 1109.4h0M538.7 1097.9h0M771.5 937.5h0M438.9 1203.6h0M800.8 957.4h0M772.1 1151.4h0M466.7 1371.4h0M710.1 1215.3h0M382.9 1352.7h0M873.8 948.3h0M774.0 1231.5h0M821.7 1200.2h0M731.8 914.6h0M815.2 983.0h0M698.4 1012.4h0M721.4 1221.6h0M493.1 1182.5h0M745.4 955.0h0M761.6 963.1h0M716.6 1213.1h0M543.5 1184.6h0M733.0 1208.2h0M381.9 1088.2h0M818.0 1181.3h0M874.6 1059.0h0M599.5 929.9h0M670.2 1044.4h0M807.6 1031.7h0M727.7 1057.9h0M686.3 952.0h0M824.2 1109.2h0M714.0 1016.3h0M410.1 1417.7h0M769.3 1092.5h0M877.8 1040.7h0M873.1 1164.8h0M935.8 936.7h0M776.2 1013.8h0M714.3 1094.3h0M841.2 1047.3h0M898.9 1035.3h0M1015.7 1133.0h0M714.2 994.3h0M875.2 877.2h0M742.7 1094.5h0M777.3 1180.5h0M427.2 1186.0h0M742.8 903.0h0M872.7 1062.6h0M752.1 963.6h0M872.9 1011.3h0M406.6 1253.0h0M848.4 972.0h0M808.9 1058.9h0M722.8 1072.5h0M493.1 1254.7h0M1010.8 1188.9h0M584.4 1010.7h0M830.9 1151.3h0M753.0 1058.8h0M739.6 1178.1h0M1011.8 917.1h0M764.0 1075.5h0M864.3 993.3h0M815.8 1204.9h0M753.3 1178.9h0M467.8 1235.1h0M827.5 990.9h0M498.7 1290.6h0M757.2 1154.6h0M918.0 985.7h0M806.8 1126.0h0M688.0 972.5h0M643.4 1208.2h0M542.9 1329.9h0M882.4 1014.2h0M524.6 1327.5h0M701.6 996.6h0M706.0 909.7h0M877.2 1122.6h0M399.8 1254.4h0M786.4 1164.8h0M513.1 1214.1h0M497.2 1287.8h0M549.8 830.6h0M923.8 1075.6h0M555.8 1221.9h0M711.9 1075.8h0M732.4 1092.7h0M796.1 1091.9h0M1137.2 363.9h0M887.4 1013.9h0M775.2 1030.0h0M470.9 1268.1h0M865.7 982.9h0M600.7 1166.7h0M578.0 1369.7h0M821.3 1101.9h0M490.0 1225.4h0M876.5 1012.7h0M832.3 933.0h0M504.4 1251.6h0M797.3 977.6h0M856.7 1000.4h0M805.3 983.8h0M1026.9 311.1h0M617.3 994.6h0M959.7 1002.8h0M757.1 1126.4h0M780.5 988.9h0M525.9 1216.2h0M886.4 1133.7h0M1031.3 1133.0h0M758.8 1089.1h0M588.4 1220.0h0M772.7 1040.7h0M647.8 1204.9h0M678.5 1274.9h0M475.8 1230.8h0M930.7 987.1h0M713.8 1192.0h0M762.9 943.1h0M1058.4 935.4h0M754.0 1147.0h0M756.6 1095.4h0M438.9 1215.4h0M740.2 1004.8h0M409.2 1323.7h0M474.3 1216.4h0M979.3 1050.6h0M458.1 1362.3h0M632.6 1226.5h0M826.2 1122.7h0M471.6 1311.3h0M409.7 1373.7h0M510.0 1165.4h0M916.1 1158.5h0M989.1 1023.0h0M678.6 1039.4h0M714.9 969.4h0M812.7 1228.4h0M853.3 1111.8h0M1163.5 1153.6h0M1133.5 729.7h0M463.5 1217.3h0M784.5 1065.9h0M530.0 1274.0h0M811.8 1193.2h0M511.2 1129.9h0M579.8 966.4h0M523.4 1307.5h0M689.2 1135.6h0M502.1 1136.2h0M714.1 1174.8h0M997.4 1118.2h0M619.7 1115.1h0M741.9 1161.6h0M601.4 1043.2h0M715.1 1136.6h0M491.3 1359.2h0M685.3 1118.2h0M760.8 1087.3h0M534.9 1136.5h0M768.5 990.1h0M814.5 1026.3h0M715.0 1038.7h0M562.7 1041.1h0M487.9 1088.7h0M704.2 938.0h0M1011.8 1043.9h0M844.2 1071.9h0M827.4 979.0h0M555.7 1327.2h0M653.6 1345.9h0M589.6 1130.0h0M858.2 966.5h0M792.5 1030.7h0M551.4 1219.8h0M925.1 1016.0h0M896.8 1012.8h0M476.9 1150.5h0M820.8 1031.1h0M713.7 1136.3h0M837.1 1069.7h0M416.4 1272.5h0M479.8 1317.7h0M803.4 1039.3h0M683.4 981.1h0M537.7 1232.8h0M898.4 1146.5h0M1016.1 1061.7h0M587.9 1176.2h0M640.6 986.0h0M902.5 778.7h0M1056.8 1113.9h0M500.2 1236.7h0M765.7 1147.2h0M805.2 989.5h0M460.0 1304.3h0M741.9 992.7h0M721.7 1259.0h0"/><path stroke="#00BFC4" d="M687.6 795.4h0M1061.0 1223.5h0M846.5 1045.8h0M701.1 885.2h0M646.9 1221.5h0M696.1 1201.0h0M735.6 1015.5h0M594.9 1084.5h0M790.3 1214.8h0M779.6 1015.3h0M660.6 1043.3h0M697.0 1168.1h0M480.2 1247.2h0M663.0 1168.2h0M637.5 1192.5h0M752.4 1024.5h0M870.9 985.2h0M573.5 1175.5h0M956.0 1040.8h0M451.1 1131.3h0M597.9 980.0h0M491.8 1356.1h0M655.6 1201.2h0M785.1 1117.9h0M808.4 1003.7h0M468.6 1228.0h0M497.7 1125.1h0M851.5 1033.8h0M762.4 1079.6h0M588.7 169.6h0M666.1 1377.5h0M492.2 1274.5h0M832.6 1059.2h0M916.2 915.8h0M268.0 1400.5h0M540.7 1161.6h0M625.6 1157.2h0M446.1 1215.1h0M678.0 1065.7h0M459.0 1271.8h0M912.5 1188.2h0M870.1 938.9h0M655.3 1001.4h0M732.7 971.1h0M749.7 1011.8h0M746.5 1026.3h0M877.3 990.6h0M509.2 1370.0h0M577.5 1007.0h0M637.1 1166.3h0M619.9 1109.0h0M717.9 1023.4h0M775.0 1029.7h0M462.4 1111.2h0M771.3 940.5h0M726.8 1247.4h0M814.3 1044.9h0M737.8 1076.1h0M918.0 971.6h0M675.2 1194.6h0M613.8 972.9h0M903.3 1219.3h0M824.7 1109.7h0M986.7 1028.6h0M771.7 1072.8h0M551.7 1073.0h0M783.6 632.4h0M855.5 1211.2h0M574.8 1288.9h0M625.7 1089.2h0M764.8 1111.7h0M827.4 1042.1h0M1272.5 454.4h0M726.3 975.6h0M720.2 1191.5h0M854.9 1022.3h0M902.2 1030.5h0M454.6 1128.5h0M975.0 841.6h0M685.1 1059.6h0M517.8 1187.2h0M772.2 903.6h0M559.3 1237.5h0M525.3 1148.7h0M750.0 1007.7h0M788.1 1077.5h0M990.3 941.6h0M701.2 1165.8h0M595.4 975.9h0M680.7 1101.4h0M882.5 898.0h0M964.6 946.5h0M482.7 1144.5h0M513.5 1131.8h0M543.9 1252.4h0M945.0 1110.4h0M612.5 686.7h0M1605.8 308.6h0M653.5 1216.0h0M745.8 1055.1h0M893.4 1190.3h0M640.7 983.3h0M533.1 1318.1h0M505.7 1117.7h0M570.0 1192.7h0M824.1 1250.4h0M738.5 1051.2h0M778.6 1058.4h0M751.6 1090.9h0M776.0 1123.6h0M665.6 1129.6h0M843.7 978.0h0M921.5 1017.8h0M497.1 1254.2h0M434.9 1345.3h0M594.5 1214.2h0M717.6 981.5h0M882.5 1018.8h0M591.9 1093.3h0M546.0 1060.1h0M910.7 1051.9h0M727.6 814.6h0M806.1 1070.9h0M907.0 888.2h0M562.4 1060.1h0M552.4 1194.7h0M895.9 953.8h0M818.7 1015.9h0M679.5 1352.9h0M637.1 1341.7h0M574.0 1347.7h0M795.4 1157.2h0M581.8 1005.2h0M856.3 1014.7h0M414.9 1102.2h0M506.2 1272.2h0M816.0 1009.1h0M730.5 1001.1h0M647.3 1302.3h0M868.5 670.0h0M708.6 1150.2h0M774.7 1126.4h0M902.7 1069.3h0M725.3 1277.4h0M775.2 982.8h0M463.4 1032.2h0M756.6 966.6h0M804.3 1053.8h0M566.8 1175.7h0M882.8 1239.8h0M474.3 1185.1h0M549.9 1255.3h0M627.7 897.4h0M405.7 1322.9h0M764.9 882.7h0M856.2 1078.6h0M680.9 1268.5h0M696.9 988.1h0M854.3 948.0h0M956.7 782.6h0M817.8 1056.8h0M906.5 1035.3h0M523.5 1116.3h0M904.5 1069.0h0M549.2 1243.8h0M458.5 1007.7h0M629.3 1004.2h0M773.0 981.4h0M774.2 994.7h0M633.4 1044.6h0M791.7 983.2h0M721.8 1156.1h0M491.6 1077.6h0M818.5 1015.6h0M590.7 1058.5h0M914.3 997.9h0M736.7 1167.9h0M432.6 1269.2h0M571.7 1143.3h0M565.8 1037.7h0M797.3 1220.8h0M450.8 1366.0h0M868.3 1067.1h0M402.0 805.1h0M774.3 1024.6h0M623.1 1127.7h0M640.5 1106.4h0M546.3 1206.3h0M598.7 1127.4h0M828.7 1028.9h0M810.0 1103.9h0M668.1 820.9h0M725.8 1098.0h0M717.0 955.7h0M773.0 1175.2h0M390.9 1323.7h0M477.8 1212.5h0M828.0 992.8h0M969.5 1020.0h0M647.7 1013.5h0M518.8 1364.0h0M430.0 1174.4h0M390.4 933.0h0M451.6 1153.0h0M882.5 1065.3h0M878.5 810.9h0M810.6 1083.2h0M651.0 1008.9h0M958.3 1024.2h0M864.3 1000.4h0M619.1 835.5h0M634.6 1114.7h0M649.9 1093.0h0M796.4 528.9h0M779.6 1013.2h0M802.4 1204.8h0M442.4 1286.1h0M792.6 1091.1h0M695.4 1030.6h0M649.0 1071.7h0M443.0 1171.0h0M728.3 1087.3h0M581.5 1018.1h0M448.0 1297.4h0M705.3 1257.9h0M921.7 961.1h0M478.2 1324.8h0M857.3 1042.5h0M471.3 1298.1h0M749.6 1054.3h0M483.8 1198.4h0M985.4 939.1h0M502.6 991.8h0M791.5 1047.5h0M698.6 1122.9h0M698.8 1039.9h0M822.8 1071.0h0M415.8 1265.5h0M660.7 1227.3h0M923.5 964.2h0M771.9 997.5h0M852.1 988.1h0M818.8 641.0h0M750.3 1106.9h0M427.3 1360.7h0M640.7 1074.5h0M925.4 980.7h0M803.8 989.0h0M513.1 1158.1h0M813.0 1077.8h0M878.8 992.8h0M752.4 1013.3h0M756.0 1047.1h0M616.0 1134.1h0M513.9 1268.1h0M757.3 1084.1h0M889.8 959.9h0M576.4 1167.4h0M557.3 1048.2h0M767.4 1079.3h0M809.2 1169.2h0M732.2 980.6h0M947.8 1079.9h0M479.8 1191.0h0M759.6 1211.5h0M513.8 1201.7h0M741.5 1262.6h0M1322.7 1142.5h0M621.4 1175.0h0M719.2 1066.4h0M835.2 1163.1h0M895.9 1072.7h0M632.0 1228.3h0M731.6 639.5h0M580.5 965.6h0M852.6 1035.8h0M658.2 1129.7h0M493.6 1317.8h0M789.6 964.0h0M568.9 1131.0h0M549.4 1213.2h0M514.5 1182.6h0M660.8 1180.3h0M493.7 1291.7h0M856.3 974.6h0M787.5 940.1h0M839.9 1127.7h0M475.7 1177.2h0M647.9 1037.7h0M515.0 1223.5h0M452.2 1183.3h0M680.5 1129.3h0M672.7 1138.4h0M410.6 1138.4h0M495.6 1110.6h0M456.6 1220.5h0M690.0 1117.3h0M867.2 1062.6h0M396.7 1285.8h0M594.2 766.2h0M433.5 1200.1h0M663.9 1026.8h0M804.3 1035.6h0M505.5 1102.3h0M491.3 1266.2h0M857.8 1205.9h0M481.8 1211.8h0M702.2 961.7h0M1003.0 1162.0h0M785.2 946.6h0M874.7 1149.2h0M452.6 1318.4h0M769.1 1014.6h0M973.3 1088.5h0M453.5 1218.9h0M643.7 1170.6h0M612.3 1042.5h0M904.5 1040.8h0M466.5 1225.6h0M831.8 992.1h0M492.2 1038.4h0M727.8 983.6h0M708.8 1126.6h0M659.1 1198.1h0M618.2 1123.7h0M879.8 999.9h0M552.6 1006.5h0M530.8 862.5h0M515.8 1148.0h0M807.9 998.9h0M752.8 1228.5h0M792.7 1146.9h0M519.2 1194.2h0M661.9 1168.9h0M1382.6 1129.1h0M558.4 1138.1h0M753.7 1075.7h0M767.8 977.0h0M659.3 1217.0h0M932.7 944.6h0M664.4 949.7h0M935.0 962.4h0M672.8 1033.4h0M433.0 1210.7h0M932.7 1002.8h0M778.0 1146.2h0M470.3 1182.0h0M343.9 1334.3h0M794.2 1130.3h0M580.5 1040.6h0M620.8 1043.2h0M683.1 994.0h0M791.2 1218.0h0M728.0 1142.9h0M714.5 982.0h0M946.0 345.5h0M695.0 991.4h0M867.3 1058.7h0M886.2 682.0h0M875.4 990.6h0M664.1 1099.3h0M811.0 1215.4h0M310.3 1267.3h0M510.6 1062.9h0M739.0 1001.9h0M901.2 1098.4h0M620.0 770.4h0M731.0 1265.5h0M679.5 1180.2h0M824.9 1022.0h0M732.8 959.5h0M455.1 1101.3h0M778.7 577.2h0"/><path stroke="#F8766D" d="M718.1 1113.4h0M751.4 1409.0h0M637.9 1307.1h0M594.2 1285.8h0M591.4 1264.5h0M508.2 1221.7h0M627.1 1287.9h0M448.9 1353.0h0M609.9 1367.7h0M597.0 1301.4h0M667.3 1214.3h0M471.4 1241.2h0M464.3 1080.8h0M645.4 639.5h0M485.6 1396.8h0M669.3 1209.2h0M636.5 1145.8h0M724.4 1416.7h0M444.4 1444.7h0M624.0 1410.7h0M706.9 1107.3h0M421.3 1131.1h0M536.7 1275.6h0M1123.5 1505.8h0M526.1 1321.2h0M608.7 1001.9h0M628.8 1191.6h0M547.0 1080.1h0M742.7 1230.0h0M640.7 1410.3h0M557.7 1398.9h0M539.0 1255.6h0M612.3 1264.7h0M1141.4 1514.4h0M1113.3 1187.5h0M440.3 1134.6h0M501.4 1378.3h0M547.2 1123.4h0M869.5 1488.4h0M676.1 1312.2h0M419.4 1470.2h0M817.9 1103.8h0M622.4 1285.2h0M489.1 948.9h0M654.6 1082.8h0M471.4 1190.5h0M398.1 1149.9h0M738.9 1032.4h0M977.1 1531.6h0M644.9 1191.1h0M730.9 1234.7h0M393.9 1218.5h0M634.3 1483.6h0M660.9 1128.9h0M673.4 1246.0h0M454.1 1310.3h0M650.0 1099.9h0M342.0 1451.1h0M811.8 1396.8h0M329.5 1267.3h0M706.9 1419.3h0M399.9 1189.8h0M448.4 1469.2h0M561.7 1501.5h0M703.6 1155.9h0M660.3 1170.7h0M501.4 1060.4h0M615.6 1292.1h0M752.7 1015.9h0M605.8 1194.4h0M700.0 1186.2h0M381.0 1268.7h0M677.2 1139.9h0M653.6 1259.7h0M675.2 1314.8h0M551.1 1245.7h0M695.5 942.2h0M636.7 1044.1h0M430.9 1146.7h0M589.7 975.2h0M652.2 1169.3h0M474.0 1284.7h0M464.2 1365.5h0M652.7 1249.5h0M441.2 1129.5h0M643.6 1304.1h0M624.6 1163.6h0M721.9 972.5h0M451.8 1242.2h0M1246.5 1568.3h0M533.9 1169.2h0M680.0 1113.6h0M668.9 1122.8h0M650.9 1344.3h0M411.9 1225.1h0M634.6 1315.2h0M768.3 1319.5h0M569.7 976.6h0M517.1 1167.3h0M551.5 1328.2h0M559.3 961.4h0M842.9 1290.5h0M648.8 1283.6h0M520.7 1497.3h0M295.5 1145.8h0M529.6 1166.9h0M606.2 1307.3h0M558.3 1416.3h0M535.5 1330.4h0M592.8 1304.7h0M610.9 1318.9h0M614.3 1106.9h0M702.7 1279.7h0M671.9 1444.9h0M1067.6 1000.4h0M524.1 1246.4h0M690.9 1276.2h0M787.6 1500.9h0M692.7 966.2h0M419.9 1191.0h0M558.2 1010.6h0M534.8 1173.7h0M727.2 1146.5h0M732.7 1482.3h0M459.9 1456.6h0M648.9 1263.0h0M954.2 1207.3h0M906.2 1310.5h0M436.2 1111.8h0M763.5 1042.5h0M720.8 1156.6h0M530.3 1441.3h0M422.9 1331.9h0M699.3 1186.6h0M461.8 1475.1h0M496.4 1311.9h0M563.2 1454.6h0M404.1 1266.2h0M948.6 1245.4h0M652.3 1347.0h0M668.4 1318.8h0M559.3 1247.5h0M269.0 1513.9h0M775.3 872.9h0M675.4 909.7h0M463.4 1053.1h0M554.3 1283.8h0M849.7 1220.1h0M846.3 1487.4h0M573.5 1465.6h0M754.3 1462.4h0M516.1 1400.9h0M562.9 1325.1h0M560.8 1092.9h0M1106.6 1530.1h0M653.9 1351.6h0M514.0 1157.5h0M582.3 1367.6h0M766.1 1154.0h0M804.4 1185.6h0M402.9 1135.0h0M511.2 1247.5h0M710.7 1352.5h0M708.7 1456.1h0M516.8 1473.6h0M436.9 1248.3h0M599.5 1384.5h0M591.2 976.2h0M1072.8 1525.7h0M818.9 1221.9h0M688.2 1464.5h0M546.8 1318.7h0M713.4 1101.7h0M501.9 1165.9h0M432.9 1320.2h0M1091.9 1533.0h0M550.1 1009.2h0M475.0 1309.0h0M517.3 990.6h0M555.2 1246.5h0M529.6 1012.6h0M807.1 1107.5h0M635.9 1454.5h0M693.9 1288.2h0M526.5 1217.8h0M403.6 1136.4h0M645.4 1368.2h0M578.7 979.4h0M501.4 978.3h0M611.0 1204.9h0M556.2 1464.9h0M677.9 1298.3h0M718.5 1347.3h0M631.6 1152.3h0M646.2 1211.2h0M437.2 1206.2h0M555.1 1053.3h0M629.6 1094.7h0M735.5 1317.5h0M1299.8 1537.5h0M634.1 1302.7h0M665.6 1251.4h0M515.9 1357.2h0M796.8 1138.4h0M1071.3 1565.4h0M809.8 1317.2h0M627.2 1357.7h0M481.1 1431.6h0M564.0 1188.7h0M952.1 1512.4h0M583.5 1355.0h0M534.5 1148.2h0M775.1 827.6h0M607.5 1353.8h0M850.6 1084.7h0M777.9 1095.9h0M566.8 1314.3h0M615.2 1406.9h0M561.9 1375.5h0M626.6 1421.2h0M511.2 1056.8h0M597.9 1231.5h0M573.1 1059.4h0M623.2 1087.5h0M1105.1 1575.7h0M586.4 1275.5h0M546.5 1281.6h0M534.4 1366.7h0M905.8 1352.8h0M490.0 1097.3h0M610.8 1297.2h0M624.7 1260.8h0M794.9 1186.7h0M571.5 1418.1h0M706.7 1394.3h0M695.1 1138.6h0M581.5 1357.2h0M481.6 1405.0h0M641.5 1296.3h0M894.0 1438.1h0M644.7 1385.6h0M564.2 1253.0h0M502.4 1258.0h0M562.3 1468.3h0M835.7 1446.3h0M752.0 1151.4h0M560.0 1257.0h0M568.9 1248.6h0M662.9 1371.8h0M561.5 1298.3h0M575.4 1459.0h0M670.5 1434.0h0M661.8 1475.2h0M641.0 1272.5h0M624.7 1240.9h0M650.8 1421.2h0M450.5 1175.8h0M638.7 1311.8h0M790.5 1467.5h0M729.8 1085.3h0M497.7 1313.3h0M495.5 1493.1h0M745.9 1154.7h0M550.2 698.9h0M626.2 1492.7h0M916.8 1460.9h0M551.8 1133.7h0M535.1 910.9h0M686.3 1386.2h0M489.1 1390.6h0M614.1 1369.9h0M721.6 1084.9h0M1144.4 1575.6h0M557.6 1125.8h0M669.6 1130.5h0M593.0 1412.9h0M600.6 1493.0h0M712.2 1354.6h0M566.5 1148.0h0M991.8 1527.1h0M407.8 1144.7h0M1288.9 1527.4h0M1127.2 81.5h0M588.4 1330.2h0M536.2 1341.6h0M457.6 1302.6h0M555.8 1150.8h0M681.9 1171.4h0M671.6 1222.8h0M564.8 1146.0h0M726.0 950.9h0M592.2 1274.4h0M712.8 1244.9h0M670.9 1190.4h0M629.5 1209.1h0M657.0 1203.9h0M616.8 1337.4h0M497.3 1181.4h0M639.3 1076.4h0M643.9 1042.8h0M572.9 1430.0h0M566.4 1117.5h0M541.6 1294.1h0M1083.1 1558.0h0M667.3 1158.8h0M618.5 1180.6h0M593.5 1473.3h0M570.1 1331.4h0M669.5 1160.5h0M528.6 1460.0h0M486.6 1243.0h0M750.5 1191.6h0M605.9 1099.5h0M684.0 1080.6h0M581.0 1099.7h0M711.5 1016.1h0M637.2 1070.6h0M668.8 1244.8h0M667.9 1456.3h0M1155.6 1078.2h0M550.7 1233.6h0M855.5 1149.0h0M538.8 1213.2h0M691.5 1091.1h0M745.6 1236.1h0M581.1 1109.3h0M417.4 1325.2h0M566.3 1436.1h0M566.9 1360.6h0M555.3 950.2h0M553.3 1021.6h0M674.9 1429.0h0M834.4 1440.9h0M432.9 1224.9h0M710.8 1440.7h0M588.4 883.9h0M591.9 1032.7h0M406.0 1381.9h0M530.3 1487.0h0M682.6 1003.4h0M798.7 1274.7h0M655.8 1131.0h0M565.9 1054.7h0M772.9 1451.6h0M1132.2 1445.0h0M521.9 1252.6h0M396.2 1302.5h0M597.9 1239.0h0M541.1 1332.1h0M732.4 1403.1h0M912.5 1114.6h0M593.2 1210.3h0M664.2 1465.1h0M610.5 1260.7h0M407.4 1338.2h0M659.8 1484.5h0M835.3 1314.2h0M638.7 1366.9h0M550.9 1145.2h0M671.7 943.4h0M775.1 1270.0h0M382.7 1338.4h0M596.6 1255.6h0M553.4 1429.6h0M381.7 1331.0h0M432.7 977.1h0M617.4 1255.8h0M445.5 1439.5h0M1157.8 1391.9h0M726.9 1305.8h0M588.3 1149.4h0M1218.4 309.1h0M545.1 1335.6h0M639.4 1270.5h0M546.8 1464.6h0M750.7 1200.3h0M451.1 1338.6h0M654.8 1155.4h0M776.4 1183.6h0M783.9 1494.6h0M590.9 1308.8h0M467.0 1322.4h0M559.5 1328.7h0M518.7 1387.4h0M669.1 1047.1h0M425.2 1427.4h0M440.8 1247.8h0M514.7 1379.5h0M446.3 1187.4h0M988.2 1324.6h0M521.4 1394.2h0M749.0 1353.5h0M553.1 1461.6h0M453.5 1297.5h0M724.0 1475.5h0M596.8 1346.5h0M659.7 1261.7h0M685.9 1187.2h0M480.4 1452.2h0M655.7 1328.1h0M499.5 973.4h0M428.6 1335.8h0M626.7 1078.9h0M597.1 1464.9h0M777.5 1486.1h0M547.9 1093.8h0M745.6 1410.0h0M343.6 1360.6h0M661.5 1046.8h0M508.1 1345.7h0M674.6 1357.9h0M609.9 1411.2h0M382.8 1322.7h0M453.2 842.0h0M940.3 1346.9h0M436.6 1321.2h0M683.7 1355.2h0M583.6 1416.4h0M688.4 1082.0h0M517.2 1490.1h0M731.9 1501.2h0M561.4 1287.1h0M953.6 1574.2h0M659.8 1151.3h0M621.5 1242.2h0M537.5 1496.2h0M772.1 1121.4h0M777.6 1104.2h0M487.0 1092.7h0M613.7 1218.7h0M510.2 1492.5h0M606.1 1030.7h0M561.3 1163.6h0M518.5 1232.4h0M601.9 1430.2h0M752.1 986.7h0M603.9 1185.8h0M773.3 1467.7h0M935.9 1571.3h0M545.2 1274.9h0M962.7 730.5h0M632.8 1296.3h0M603.9 1249.7h0M717.5 1165.0h0M496.9 1081.0h0M916.0 427.7h0M424.7 1304.3h0M612.2 1375.6h0M617.4 1134.3h0M546.2 1405.5h0M678.2 1417.1h0M584.8 1127.1h0M627.1 1345.8h0M610.2 1149.6h0M605.9 1136.7h0M480.0 1412.0h0M637.8 1311.2h0M542.7 1277.6h0M634.9 1310.5h0M610.5 1456.5h0M535.4 1205.1h0M612.0 1378.9h0M470.1 1317.0h0M660.7 1172.0h0M660.3 1353.7h0M628.0 1228.1h0M876.2 983.7h0M595.9 1056.4h0M918.3 1544.8h0M381.9 1133.0h0M654.6 1472.3h0M640.0 1182.8h0M601.1 1290.1h0M665.7 1306.5h0M675.4 1305.6h0M924.5 1164.8h0M699.9 914.6h0M506.5 1405.1h0M520.7 1303.7h0M564.5 1345.7h0M582.7 1133.1h0M520.5 1183.3h0M307.2 1288.2h0M558.5 1234.8h0M521.3 1243.7h0M695.5 1261.9h0M284.2 1379.3h0M554.7 1284.7h0M649.7 1109.3h0M587.7 1300.7h0M596.2 1354.1h0M346.2 1299.5h0M494.1 1373.2h0M479.0 1275.4h0M1155.1 585.1h0M580.9 1149.1h0M536.7 1494.7h0M547.7 1369.8h0M635.0 1321.4h0M578.8 1315.9h0M615.7 1166.2h0M662.0 1371.5h0M790.1 1445.1h0M603.4 1092.7h0M678.6 1005.2h0M1094.8 1558.0h0M540.3 1379.4h0M600.1 1364.7h0M586.6 1252.9h0M487.3 1130.1h0M661.6 1210.1h0M525.5 1209.1h0M722.0 1187.4h0M578.2 1088.6h0M827.9 1396.6h0M742.7 1038.0h0M625.2 1298.8h0M541.0 1258.5h0M534.6 1162.5h0M651.1 966.1h0M1049.2 1566.9h0M581.7 1092.9h0M624.0 912.1h0M638.4 1169.2h0M720.0 1183.0h0M570.0 1316.1h0M677.2 1111.9h0M683.3 1237.4h0M487.2 1337.3h0M1520.6 1535.3h0M676.0 1489.1h0M637.2 1311.6h0M619.7 1002.6h0M472.3 1245.3h0M657.6 1388.1h0M395.4 1372.8h0M443.1 1173.9h0M596.0 959.6h0M592.0 1368.4h0M712.2 968.0h0M584.8 867.4h0M1113.9 1533.0h0"/><path stroke="#F8766D" d="M502.1 1241.1h0M647.7 1217.4h0M764.3 1103.0h0M475.6 964.2h0M477.1 1336.8h0M546.5 1210.9h0M583.8 1326.4h0M546.2 1326.0h0M670.0 1359.8h0M646.9 1287.6h0M626.1 1295.0h0M604.7 1475.1h0M625.8 1304.5h0M592.1 1287.4h0M633.8 1230.4h0M646.7 1233.0h0M548.5 1495.0h0M663.7 1076.8h0M815.0 1391.8h0M678.3 1105.6h0M654.0 1501.4h0M555.0 1104.0h0M652.6 1078.7h0M1121.5 593.4h0M614.7 1452.6h0M691.6 1083.1h0M495.7 1235.8h0M596.2 1404.4h0M708.3 1108.9h0M966.8 1544.8h0M407.0 934.2h0M644.8 1213.6h0M558.4 1163.3h0M455.4 1174.0h0M596.2 1236.5h0M458.0 1279.7h0M414.9 1055.5h0M596.8 1269.4h0M566.2 1335.7h0M573.7 1048.1h0M888.8 1528.6h0M839.4 1466.3h0M434.2 1467.1h0M859.2 1169.4h0M795.5 1106.8h0M647.2 1413.4h0M678.5 1208.3h0M544.3 1103.5h0M484.4 1294.1h0M569.8 1375.8h0M467.4 1342.6h0M428.9 1198.0h0M614.1 1152.3h0M448.6 1249.5h0M711.1 1056.7h0M545.4 1484.7h0M647.6 1458.1h0M511.7 1086.7h0M551.3 1437.6h0M603.2 1136.5h0M651.7 1008.6h0M677.2 1267.1h0M652.9 1454.9h0M449.5 1478.1h0M711.1 1485.0h0M580.0 1496.2h0M767.9 1115.3h0M820.1 982.7h0M480.5 1428.6h0M483.1 1228.3h0M708.0 1363.3h0M521.0 1353.8h0M628.1 957.1h0M639.9 1423.3h0M673.2 1091.4h0M601.1 1381.2h0M840.7 818.9h0M598.1 1381.1h0M539.0 1419.9h0M466.5 1309.2h0M640.7 1146.9h0M592.2 1022.4h0M659.3 1246.2h0M591.7 1201.7h0M688.0 1124.9h0M664.6 1130.0h0M676.5 1059.9h0M585.4 784.6h0M610.3 1446.8h0M409.0 1366.2h0M540.2 1479.7h0M555.6 1100.3h0M575.9 1186.0h0M711.3 983.2h0M609.9 1252.5h0M678.1 1266.3h0M490.4 1131.7h0M610.0 1490.8h0M644.9 1167.0h0M576.7 1119.5h0M595.3 1174.4h0M768.9 1500.3h0M659.8 1404.1h0M533.4 1172.3h0M603.8 1011.4h0M721.4 1502.8h0M536.9 1243.6h0M596.5 1184.2h0M599.3 1390.8h0M556.3 1359.7h0M611.8 1041.5h0M491.9 1127.1h0M579.2 1370.4h0M573.7 1349.1h0M703.7 1364.2h0M520.4 1187.5h0M739.9 1084.4h0M528.4 1327.8h0M671.8 972.8h0M581.8 1239.0h0M639.9 948.7h0M543.3 1444.1h0M446.8 922.0h0M631.4 1361.8h0M264.5 1421.1h0M566.2 1377.3h0M409.4 1066.6h0M618.2 1298.7h0M571.4 1294.8h0M712.9 1249.7h0M563.9 979.7h0M679.4 1163.2h0M453.9 1213.0h0M664.7 972.7h0M646.6 1025.5h0M544.8 1328.3h0M701.3 1093.5h0M635.6 1291.0h0M529.6 934.2h0M589.1 1206.2h0M541.6 1337.8h0M593.8 1289.0h0M588.9 1442.5h0M606.4 1330.6h0M467.2 1363.9h0M515.9 1137.5h0M469.8 1372.9h0M682.5 1155.3h0M947.7 1556.6h0M645.4 1306.8h0M265.1 1479.4h0M629.5 1186.2h0M660.1 1436.9h0M636.7 1041.2h0M541.3 1395.3h0M494.2 1097.6h0M574.5 1264.1h0M687.6 882.7h0M788.2 1003.9h0M753.5 1278.3h0M1013.9 1561.0h0M821.8 1413.6h0M492.2 1371.5h0M675.7 1379.6h0M628.8 1204.8h0M734.8 1451.1h0M647.1 1395.9h0M668.1 1320.7h0M481.4 1414.6h0M606.3 1467.2h0M585.8 1168.8h0M782.9 1351.5h0M423.1 1374.0h0M458.5 1077.6h0M675.5 1311.1h0M758.0 1354.6h0M662.5 1460.8h0M576.9 1378.5h0M552.7 1182.4h0M689.4 1486.4h0M692.0 1382.2h0M1046.1 948.9h0M404.7 1331.4h0M439.4 1375.2h0M379.3 1390.0h0M707.6 1296.6h0M612.0 1170.3h0M557.8 1185.3h0M662.3 1347.5h0M639.4 1018.8h0M711.9 1294.2h0M650.2 1335.5h0M628.1 1102.7h0M588.0 1364.6h0M933.0 1556.6h0M627.5 1370.6h0M754.1 1240.5h0M606.8 909.7h0M518.5 1225.7h0M953.2 791.7h0M651.5 1202.5h0M666.7 1390.3h0M452.3 1363.2h0M471.0 1194.1h0M777.6 1490.2h0M409.7 1320.3h0M559.0 1173.3h0M593.7 1495.2h0M537.6 1334.4h0M585.9 1126.4h0M760.8 1327.6h0M728.6 1158.0h0M651.4 1276.6h0M594.8 980.9h0M671.0 1173.4h0M1100.7 1549.2h0M655.5 1486.8h0M583.2 1349.3h0M554.1 1318.7h0M640.1 1346.8h0M667.4 1135.0h0M443.5 1212.4h0M520.1 1203.5h0M528.1 1495.1h0M632.0 1021.2h0M580.6 1238.0h0M682.8 1467.9h0M560.9 1090.2h0M585.8 1316.7h0M480.2 1282.1h0M569.8 1448.1h0M588.3 1169.3h0M659.2 1255.7h0M971.2 1506.5h0M839.0 1357.3h0M492.3 1496.7h0M977.1 1561.0h0M500.5 1127.7h0M585.1 1069.3h0M677.2 1289.5h0M544.0 1039.5h0M724.6 1287.3h0M651.0 1228.0h0M493.2 1330.3h0M706.3 1277.6h0M574.5 1325.2h0M464.7 1345.6h0M478.9 1276.2h0M285.8 1016.5h0M544.5 1180.6h0M636.4 1482.0h0M550.0 1263.6h0M823.3 1199.5h0M481.6 1300.5h0M675.0 1393.6h0M774.5 1057.7h0M544.8 1105.1h0M435.7 1227.4h0M1069.5 1240.5h0M529.6 1233.1h0M609.8 1366.9h0M622.5 1019.1h0M663.7 1310.7h0M511.6 1251.8h0M606.3 1043.8h0M628.7 1037.8h0M458.9 1290.1h0M549.0 1384.4h0M596.2 1045.0h0M648.7 1286.0h0M420.6 1450.8h0M566.9 1317.1h0M848.3 1317.8h0M637.8 1354.9h0M772.6 1321.4h0M621.6 959.4h0M557.2 1197.6h0M1075.7 1528.6h0M520.6 1303.5h0M639.3 999.8h0M544.4 1274.5h0M654.1 1090.4h0M834.2 1184.6h0M1063.9 1506.5h0M574.6 1225.5h0M580.4 1082.0h0M721.8 1261.8h0M722.6 1353.9h0M670.5 1094.7h0M636.6 1378.5h0M540.6 839.8h0M623.7 1311.7h0M480.5 1355.8h0M431.0 1367.5h0M593.5 1220.3h0M653.2 1240.5h0M693.3 1139.2h0M743.1 1191.2h0M601.6 1435.1h0M359.5 1228.8h0M641.2 1447.6h0M566.6 1170.3h0M490.8 1298.0h0M888.8 1488.2h0M382.6 1285.8h0M608.6 1439.1h0M512.3 1268.1h0M662.1 1395.3h0M916.8 1435.2h0M586.4 1395.7h0M391.4 1327.7h0M917.5 1397.7h0M618.3 1483.2h0M334.1 1458.4h0M579.5 1122.9h0M601.2 1126.9h0M947.7 1575.7h0M900.6 1356.5h0M467.4 1113.7h0M430.5 1336.3h0M568.4 1195.0h0M679.2 1282.8h0M679.4 1215.9h0M696.1 1258.0h0M616.6 934.2h0M1036.0 1527.1h0M646.3 1089.3h0M558.2 1209.9h0M418.7 1227.3h0M958.5 1106.9h0M618.8 1342.5h0M424.1 955.6h0M576.5 1262.1h0M610.4 1275.3h0M666.4 1090.3h0M573.0 1038.3h0M712.3 1297.4h0M644.2 1489.7h0M659.7 1420.7h0M759.5 1152.0h0M608.5 1309.2h0M387.1 1154.6h0M1065.4 1513.9h0M590.9 926.9h0M745.7 1108.1h0M1088.9 1511.0h0M577.0 1277.1h0M747.3 1300.5h0M503.6 1273.8h0M630.6 1328.9h0M651.6 1247.8h0M719.2 1470.2h0M928.1 1272.3h0M603.4 1267.4h0M630.6 1227.3h0M909.4 1521.3h0M548.8 1500.8h0M627.1 1250.2h0M674.8 1179.7h0M515.5 1285.1h0M728.2 1074.4h0M578.6 944.6h0M621.5 1164.1h0M572.3 1317.2h0M531.3 1137.2h0M462.6 1141.6h0M885.9 1515.4h0M686.2 1438.3h0M621.8 1233.0h0M655.3 1051.3h0M796.4 1450.2h0M561.8 1285.8h0M648.3 1081.1h0M598.2 1351.0h0M527.8 734.3h0M521.0 1010.2h0M1159.9 1511.6h0M604.4 915.8h0M478.5 1308.1h0M628.4 1427.4h0M497.2 1202.6h0M783.8 1175.8h0M679.0 1145.4h0M465.0 1251.9h0M577.3 1278.2h0M692.6 943.8h0M561.8 1116.1h0M723.9 1280.7h0M602.1 1202.5h0M400.8 1250.9h0M431.0 1138.7h0M544.8 1095.4h0M648.2 1213.1h0M812.5 1000.9h0M654.3 1068.6h0M490.7 1231.0h0M637.8 1239.5h0M667.9 1174.4h0M582.5 1355.9h0M694.2 1417.4h0M663.7 1237.1h0M541.1 1122.4h0M572.5 1446.2h0M662.9 1374.9h0M640.3 1190.2h0M530.5 1112.8h0M546.0 1272.5h0M651.1 1374.0h0M580.2 1500.6h0M616.2 1286.2h0M546.0 1290.2h0M600.0 1035.2h0M616.1 1214.7h0M566.2 1056.4h0M689.9 1061.0h0M634.5 1397.3h0M767.6 1076.1h0M496.0 1365.9h0M619.1 1243.2h0M488.0 1174.4h0M601.2 1416.3h0M767.2 1205.0h0M483.1 1198.5h0M605.0 1247.5h0M454.5 1152.4h0M592.3 1292.6h0M650.6 1260.2h0M500.1 1302.7h0M660.0 1246.6h0M671.5 1046.8h0M668.2 1305.8h0M635.9 1143.8h0M568.1 1483.2h0M587.7 1304.2h0M678.0 1413.5h0M545.9 1118.2h0M680.7 1221.0h0M497.3 1333.4h0M779.0 1342.3h0M580.6 1262.7h0M558.6 1363.6h0M581.5 1089.7h0M522.1 1184.0h0M505.1 1065.3h0M639.0 1299.6h0M647.7 1381.0h0M652.8 945.4h0M875.4 1393.1h0M674.7 1303.1h0M460.7 1471.3h0M759.4 1480.1h0M630.6 1399.7h0M759.3 1430.6h0M607.8 1193.9h0M678.2 1256.9h0M485.1 1282.1h0M654.6 1302.5h0M567.1 1222.8h0M431.7 1485.0h0M476.9 1016.9h0M1071.3 1544.8h0M562.8 1386.5h0M757.3 1188.3h0M691.9 1045.2h0M531.9 1387.4h0M550.0 1362.9h0M458.2 1449.4h0M432.9 1365.8h0M633.1 1357.0h0M582.1 1220.6h0M655.2 1344.0h0M403.0 1445.1h0M687.4 1258.1h0M594.2 1254.7h0M440.6 1092.8h0M518.7 1235.1h0M547.7 983.8h0M583.4 1265.9h0M672.3 1344.1h0M650.0 1296.4h0M649.8 944.1h0M452.3 1493.6h0M1288.4 1523.4h0M705.5 1496.0h0M592.4 1253.7h0M639.1 1297.5h0M743.3 960.5h0M638.1 1045.2h0M669.6 1444.9h0M829.0 1298.3h0M399.3 1212.3h0M654.8 1263.9h0M648.1 1366.6h0M424.8 970.3h0M666.2 1011.4h0M683.5 1134.7h0M800.4 1387.4h0M577.5 1373.1h0M455.8 1225.8h0M415.9 1323.2h0M698.7 882.7h0M836.6 1171.4h0M413.1 966.6h0M587.5 812.6h0M623.9 1142.6h0M525.9 1346.4h0M522.1 1200.7h0M680.9 1423.9h0M516.3 1284.8h0M826.1 1095.0h0M880.0 1270.2h0M631.6 1139.9h0M658.6 1383.9h0M547.1 1137.4h0M413.4 1454.1h0M560.8 1366.3h0M635.4 1332.8h0M594.6 1213.0h0M681.0 949.1h0M741.8 1225.2h0M671.4 1283.2h0M539.1 1330.4h0"/><path stroke="#00BFC4" d="M499.1 1222.1h0M463.4 1027.3h0M732.8 1219.0h0M765.9 969.7h0M739.6 1135.0h0M492.9 1347.0h0M686.2 1225.0h0M875.9 1032.4h0M514.2 1140.6h0M654.2 1266.2h0M683.9 866.8h0M625.6 1172.3h0M681.3 1129.3h0M803.2 1075.9h0M684.8 988.7h0M685.9 1180.4h0M914.3 1061.7h0M622.6 1038.3h0M454.5 1292.8h0M692.2 1094.3h0M513.2 1248.6h0M693.7 1011.9h0M826.5 1137.4h0M951.1 1039.6h0M763.3 1175.0h0M862.5 1016.3h0M535.1 965.4h0M787.2 1097.3h0M827.5 801.8h0M522.9 1177.3h0M673.4 997.1h0M712.9 1024.2h0M795.3 1167.6h0M424.6 1217.7h0M672.1 1063.5h0M758.0 974.9h0M794.8 947.9h0M607.5 1193.3h0M304.0 1399.0h0M794.3 864.9h0M545.2 1027.9h0M809.4 1073.9h0M630.8 1054.1h0M787.3 1112.6h0M512.7 1325.1h0M735.0 1150.4h0M742.7 1132.2h0M702.9 1108.5h0M863.9 1045.1h0M464.1 1193.0h0M401.8 1346.6h0M449.7 1192.4h0M742.5 990.1h0M818.2 1007.4h0M492.8 1098.2h0M863.9 1005.2h0M798.4 1147.4h0M638.4 1060.8h0M670.8 1076.1h0M435.3 1082.6h0M840.3 856.4h0M921.0 1143.6h0M395.7 1154.7h0M457.2 1316.9h0M469.3 1367.9h0M611.3 1227.8h0M556.7 1193.8h0M659.3 1141.7h0M695.4 1057.9h0M806.9 993.4h0M420.7 1197.4h0M885.5 1042.2h0M842.0 1202.7h0M750.3 1008.2h0M916.8 940.3h0M857.8 992.6h0M910.7 832.5h0M717.0 1261.4h0M670.0 1190.9h0M715.7 1073.5h0M745.4 1114.2h0M871.4 1158.1h0M760.2 1161.3h0M723.4 797.1h0M772.1 1028.0h0M448.0 1215.1h0M836.7 1020.0h0M906.0 1017.9h0M613.1 1065.4h0M578.3 1201.2h0M736.7 913.4h0M566.4 1367.5h0M426.2 1331.0h0M735.9 1184.0h0M282.5 1385.5h0M432.6 1218.1h0M499.2 1143.8h0M496.2 1206.0h0M448.4 1236.2h0M910.0 829.3h0M481.5 1189.0h0M568.5 1253.8h0M793.7 995.7h0M626.5 1019.4h0M683.1 1081.0h0M618.5 1222.6h0M489.5 1188.5h0M387.7 1210.1h0M740.3 871.1h0M1537.2 1125.9h0M505.5 1108.5h0M608.0 1032.0h0M680.5 1095.2h0M788.5 1008.8h0M767.6 939.6h0M978.1 956.2h0M734.5 1122.5h0M799.2 989.4h0M1080.1 1190.3h0M726.9 1226.2h0M459.7 1082.9h0M815.8 991.9h0M539.4 1321.1h0M750.6 1086.1h0M770.4 685.9h0M523.8 1218.6h0M692.4 959.2h0M826.9 1088.9h0M636.9 553.1h0M434.3 1272.5h0M1357.0 1185.5h0M767.3 1101.7h0M687.3 1049.7h0M1535.6 1204.2h0M695.8 1058.4h0M435.1 1331.8h0M931.8 1070.7h0M813.9 1054.0h0M454.8 1259.7h0M619.8 1206.2h0M598.9 784.7h0M620.9 906.6h0M785.2 1116.7h0M620.5 1140.1h0M672.3 832.5h0M915.6 1013.9h0M572.4 1321.1h0M503.6 1189.1h0M721.4 963.7h0M775.3 1183.8h0M866.7 1027.2h0M622.3 1125.8h0M996.5 961.1h0M463.6 1309.4h0M980.5 1040.8h0M766.0 1058.2h0M390.1 1137.2h0M748.3 1000.3h0M555.3 958.3h0M840.4 1102.1h0M783.4 1131.9h0M750.3 1071.5h0M851.2 1070.8h0M968.3 994.8h0M842.2 1085.8h0M852.1 946.7h0M570.1 1208.2h0M698.7 1300.6h0M679.2 1271.7h0M787.4 949.7h0M682.9 1056.1h0M492.2 1144.1h0M880.0 944.6h0M818.3 1121.3h0M479.9 1191.3h0M478.2 1206.6h0M686.2 1061.3h0M591.2 1114.2h0M683.0 1018.3h0M502.3 1189.1h0M626.5 1165.2h0M946.5 1085.7h0M726.9 1010.8h0M529.5 1289.3h0M711.1 977.4h0M655.6 995.7h0M856.5 984.7h0M635.2 1187.1h0M651.4 1011.8h0M794.9 896.2h0M611.4 1109.5h0M863.6 1031.6h0M782.6 715.9h0M798.5 959.3h0M793.2 1024.7h0M502.5 1320.3h0M975.6 1018.8h0M791.9 974.4h0M703.2 1243.4h0M731.7 1163.2h0M692.2 1202.5h0M571.3 1139.7h0M420.6 1110.2h0M734.2 990.2h0M717.1 1023.6h0M536.0 1244.7h0M1069.5 1150.0h0M751.2 1012.5h0M415.4 1230.7h0M849.7 1047.2h0M568.2 967.6h0M485.9 1257.8h0M474.0 1273.1h0M634.7 1221.4h0M695.9 1055.1h0M730.2 1183.4h0M874.2 1005.3h0M264.7 1219.2h0M654.7 1021.2h0M456.1 1326.4h0M853.4 1033.0h0M581.0 1052.6h0M662.1 556.0h0M524.7 1034.7h0M900.8 891.3h0M571.1 1212.7h0M772.4 1037.3h0M758.1 988.2h0M680.3 1037.2h0M921.0 1104.0h0M432.5 1209.8h0M1078.7 1246.1h0M739.1 920.7h0M832.2 1008.7h0M801.4 1001.2h0M596.8 1165.8h0M1011.8 939.7h0M663.9 1088.5h0M1014.3 1109.7h0M598.2 942.2h0M665.9 960.3h0M741.6 1328.7h0M538.2 995.5h0M952.3 1004.0h0M606.5 1016.5h0M682.1 980.7h0M861.7 1068.8h0M605.6 924.4h0M739.8 795.9h0M563.7 1331.0h0M762.7 1024.1h0M686.6 945.4h0M383.0 1284.2h0M761.3 1077.5h0M918.2 1121.0h0M595.9 1139.5h0M559.7 968.4h0M691.7 1163.1h0M694.4 946.7h0M915.6 847.8h0M804.1 912.1h0M540.8 1168.4h0M826.4 1135.0h0M908.5 1045.3h0M983.0 950.8h0M810.0 1102.4h0M494.0 1132.4h0M851.0 1185.6h0M417.6 1104.8h0M809.2 1124.1h0M832.5 1031.1h0M743.2 1041.8h0M715.8 868.6h0M1039.4 866.8h0M614.4 1179.6h0M622.2 1085.6h0M877.8 1040.4h0M803.5 996.8h0M828.9 968.2h0M646.6 1137.8h0M485.1 1278.5h0M819.4 957.2h0M799.4 1074.7h0M791.1 1304.5h0M746.4 1049.3h0M800.2 993.6h0M872.2 1021.8h0M576.7 1009.0h0M698.2 987.7h0M811.0 1008.8h0M683.0 1200.6h0M878.9 898.7h0M821.0 1228.5h0M542.7 1299.9h0M380.7 1101.9h0M905.5 1261.0h0M680.5 1090.3h0M1021.0 1035.9h0M1100.7 1023.7h0M707.4 1065.7h0M1002.6 1007.1h0M758.0 990.9h0M452.7 1262.2h0M938.9 1067.8h0M472.2 1200.9h0M486.9 1265.1h0M712.4 1266.3h0M873.8 1032.0h0M633.0 1079.0h0M661.1 1156.5h0M740.3 996.6h0M488.9 1265.3h0M1149.7 495.6h0M461.1 1206.3h0M774.8 996.7h0M508.5 1203.7h0M527.6 1188.7h0M471.8 1135.4h0M920.5 937.9h0M783.6 1036.8h0M880.5 357.5h0M855.0 946.9h0M870.3 948.7h0M696.4 723.0h0M799.6 1174.2h0M1021.4 1121.7h0M514.6 1161.8h0M888.5 1123.8h0M850.1 1039.9h0M432.5 1327.9h0M974.4 996.7h0M415.3 1170.5h0M694.0 1221.3h0M865.3 1120.0h0M480.3 1179.5h0M806.3 1170.0h0M840.2 935.3h0M444.0 1151.9h0M939.0 1040.2h0M814.8 1160.1h0M1039.8 1091.3h0M405.2 1110.6h0M951.1 1010.2h0M436.7 1218.7h0M713.5 1289.3h0M557.2 1200.2h0M985.4 986.9h0M773.0 1041.0h0M933.7 1213.6h0M761.5 1037.9h0M772.7 1177.5h0M799.2 1016.6h0M634.3 1162.3h0M519.8 1024.9h0M831.9 1051.2h0M974.4 1066.6h0M542.3 1163.0h0M687.4 1151.0h0M574.5 1085.7h0M860.6 1168.0h0M989.1 1002.8h0M671.7 1065.0h0M818.8 891.3h0M588.3 1195.9h0M585.0 1134.8h0M450.0 1288.9h0M557.6 1265.3h0M438.3 1205.5h0M919.2 1065.3h0M742.7 943.1h0M711.5 881.5h0M680.9 1160.6h0M845.8 949.2h0M899.0 1043.5h0M788.0 999.6h0M762.2 1022.8h0M630.5 1068.9h0M431.0 1182.4h0M801.0 1026.4h0M694.9 945.1h0M633.7 861.9h0M878.9 929.3h0M669.0 1070.4h0M405.0 1215.8h0M901.3 1047.4h0M1082.3 1031.6h0M761.2 976.5h0M381.5 1084.9h0M979.3 1069.0h0M739.8 820.9h0M967.1 976.5h0M449.6 1100.3h0M394.0 1244.3h0"/><path stroke="#00BFC4" d="M470.4 1143.0h0M435.0 1247.2h0M512.7 1182.2h0M781.2 1023.3h0M849.5 965.2h0M793.5 969.2h0M1030.6 1203.0h0M874.1 969.6h0M504.0 1207.4h0M868.3 1017.4h0M734.7 1230.4h0M490.4 1238.6h0M632.8 1117.4h0M983.9 1154.9h0M641.9 943.5h0M898.4 1157.8h0M849.8 1017.8h0M500.6 1192.3h0M446.2 1194.7h0M456.5 1202.8h0M863.0 915.8h0M777.1 962.6h0M687.0 1134.9h0M766.5 1078.5h0M877.0 1118.4h0M788.0 1204.0h0M740.7 1038.9h0M759.6 960.6h0M432.9 1168.8h0M744.3 1212.5h0M653.9 1065.5h0M747.3 1156.6h0M582.3 1148.5h0M580.1 1149.1h0M573.8 1234.8h0M513.6 522.7h0M775.8 937.8h0M797.7 1068.2h0M315.9 1267.3h0M1005.1 1058.0h0M714.4 1047.8h0M847.8 1000.0h0M856.6 1041.2h0M671.5 1209.1h0M800.2 1090.2h0M779.6 1037.8h0M630.4 1166.2h0M565.1 1038.6h0M564.5 996.0h0M796.0 943.4h0M422.0 1379.0h0M855.7 1004.1h0M737.6 784.2h0M1139.4 470.1h0M628.3 1326.3h0M816.8 958.2h0M579.2 1367.1h0M660.2 1265.6h0M776.6 1011.6h0M1025.3 931.8h0M793.8 970.7h0M480.7 1098.4h0M649.8 1273.2h0M844.5 1071.9h0M740.7 986.7h0M926.7 1081.4h0M703.1 972.4h0M799.7 1025.8h0M620.7 1311.3h0M850.7 925.6h0M335.2 1166.8h0M837.4 1064.0h0M754.1 737.2h0M690.1 870.5h0M575.4 1133.7h0M907.0 958.7h0M473.4 1289.4h0M1039.4 1032.2h0M508.1 1191.3h0M859.6 1010.7h0M822.4 993.9h0M458.5 1331.2h0M820.6 1027.6h0M792.3 1165.9h0M858.0 969.4h0M659.4 1014.6h0M394.9 1128.1h0M929.0 1031.0h0M674.3 1009.2h0M509.0 1141.1h0M724.7 1076.7h0M395.1 1200.7h0M753.9 1174.7h0M941.3 957.5h0M674.4 1128.2h0M696.8 1166.7h0M686.3 994.7h0M481.1 1279.3h0M1021.0 943.4h0M535.9 1147.3h0M723.4 1034.2h0M707.3 974.9h0M804.1 997.7h0M852.8 957.2h0M905.7 1012.6h0M659.8 1108.0h0M726.9 1120.7h0M821.4 1114.8h0M462.8 1133.1h0M1032.7 1087.8h0M463.2 1182.5h0M722.3 1173.0h0M666.9 1151.1h0M651.3 1112.7h0M433.4 1339.7h0M421.7 979.5h0M647.8 1079.3h0M694.2 999.3h0M579.8 1218.8h0M825.0 1073.6h0M710.0 1238.0h0M557.7 1121.1h0M852.2 942.4h0M443.8 1337.5h0M718.6 1045.0h0M740.9 1114.4h0M960.9 1045.7h0M851.5 955.2h0M526.2 1194.1h0M852.2 1151.0h0M403.0 1376.4h0M830.7 1015.3h0M653.0 1231.3h0M876.7 1053.3h0M508.7 991.8h0M792.3 1063.7h0M458.9 1155.8h0M731.2 1036.1h0M668.2 1115.7h0M714.9 1000.3h0M824.1 1034.8h0M874.6 1107.8h0M968.3 895.0h0M787.7 1014.7h0M885.5 844.7h0M471.1 1169.2h0M581.9 1183.0h0M755.2 1012.3h0M466.9 1329.3h0M769.4 1144.5h0M654.9 1022.5h0M865.8 1086.8h0M623.7 1247.7h0M404.7 1229.2h0M829.6 823.9h0M720.5 936.4h0M636.0 1031.1h0M761.9 1036.8h0M554.7 1074.6h0M596.8 1143.5h0M776.7 1136.0h0M563.2 1219.9h0M430.9 1114.3h0M630.0 897.4h0M495.5 1240.8h0M550.0 1246.6h0M699.9 1144.6h0M534.5 1098.3h0M769.0 995.4h0M716.8 1003.3h0M963.5 1040.0h0M706.0 1071.1h0M705.4 1112.2h0M586.2 1120.6h0M684.1 1047.8h0M682.1 1031.9h0M675.4 892.5h0M659.6 1065.8h0M505.8 1116.8h0M844.7 965.8h0M461.5 1218.9h0M419.4 1344.2h0M748.6 1287.8h0M581.3 1157.5h0M574.5 1157.2h0M879.0 995.8h0M677.5 1138.2h0M821.0 1110.1h0M791.8 1068.6h0M823.7 881.5h0M445.5 1229.5h0M738.2 1163.8h0M778.2 1176.2h0M929.0 990.6h0M834.9 1049.8h0M690.1 1038.2h0M635.3 1172.8h0M875.0 1003.4h0M473.0 1274.7h0M874.4 1121.9h0M753.8 915.8h0M942.2 1095.6h0M660.1 1137.8h0M889.8 1028.6h0M896.8 809.6h0M671.7 1183.6h0M705.9 1104.2h0M865.2 943.7h0M454.6 1238.2h0M545.5 1203.5h0M943.8 1040.8h0M755.5 1179.8h0M444.6 1201.2h0M841.1 1062.2h0M575.5 1243.9h0M462.7 1190.9h0M598.3 1029.3h0M865.0 1004.5h0M711.1 1054.2h0M907.6 904.8h0M697.0 1050.8h0M719.1 1109.3h0M583.5 1076.1h0M738.2 1150.6h0M574.1 1207.6h0M956.0 1069.0h0M479.0 1427.4h0M767.7 1072.0h0M463.6 1278.5h0M552.1 1125.0h0M489.4 1088.5h0M630.6 1199.8h0M832.1 1165.8h0M486.9 1226.5h0M589.1 1181.6h0M599.3 1342.4h0M404.2 1318.4h0M591.1 1064.7h0M455.2 1218.5h0M927.8 992.2h0M490.1 1224.6h0M449.5 1237.0h0M510.8 1269.2h0M826.1 1228.0h0M803.1 1047.1h0M516.9 1244.0h0M386.0 1300.7h0M389.8 1078.8h0M690.0 1101.2h0M967.7 1091.3h0M390.2 1332.9h0M703.6 925.6h0M790.6 992.0h0M418.3 1278.3h0M628.0 627.0h0M1029.6 1061.7h0M829.9 1034.1h0M386.5 1200.4h0M480.6 1178.4h0M407.0 1214.7h0M680.3 986.1h0M682.2 1146.4h0M936.4 1053.1h0M754.4 1077.8h0M832.0 1171.2h0M703.8 1159.1h0M878.4 985.7h0M821.4 1111.0h0M828.3 993.2h0M488.0 1196.4h0M522.0 768.9h0M501.1 1215.2h0M595.4 1163.7h0M629.7 1098.1h0M399.3 1245.7h0M793.3 1109.5h0M497.8 1317.2h0M522.9 1228.0h0M446.7 1194.9h0M579.0 1167.5h0M865.4 1249.9h0M444.9 1265.0h0M629.5 861.9h0M777.4 1056.0h0M703.4 1012.3h0M850.8 1060.3h0M536.4 1206.6h0M717.4 1200.8h0M426.6 1313.9h0M671.3 1276.0h0M717.8 1212.6h0M849.7 955.8h0M814.3 1075.0h0M562.1 1041.8h0M692.0 1077.7h0M784.2 991.9h0M968.0 768.4h0M522.7 1192.3h0M962.8 907.2h0M613.6 1136.2h0M639.5 1207.7h0M853.6 997.1h0M766.0 978.9h0M789.3 1096.8h0M804.6 1152.2h0M719.8 981.4h0M479.0 1231.0h0M670.5 887.6h0M717.1 992.3h0M624.1 1160.1h0M531.2 1244.0h0M690.0 1123.5h0M773.6 1006.6h0M640.8 991.0h0M649.0 1052.9h0M793.1 918.3h0M964.6 1048.2h0M662.8 1119.3h0M800.3 1179.0h0M1010.0 1054.3h0M981.8 1024.9h0M935.5 1040.7h0M902.1 969.7h0M816.3 1108.5h0M515.4 1111.5h0M1370.1 1054.6h0M441.2 1279.4h0M402.4 1230.7h0M638.4 995.0h0M830.3 987.5h0M456.8 1144.9h0M531.4 1201.8h0M879.5 1047.6h0M675.4 1198.8h0M458.1 1242.7h0M484.3 1277.9h0M638.1 1213.6h0M809.8 1040.2h0M594.4 1373.0h0M933.3 845.9h0M737.6 1122.3h0M879.6 1073.2h0M698.3 1067.4h0M864.0 1090.8h0M424.8 1088.5h0M866.9 1014.5h0M456.7 1263.9h0M823.4 1138.3h0M485.8 1203.0h0M988.9 1207.3h0M510.6 1127.9h0M511.9 1134.3h0M1056.6 1048.2h0M527.3 1352.9h0M465.2 1185.2h0M460.5 1265.4h0M541.5 1079.4h0M488.2 1192.1h0M387.6 1201.3h0M503.2 1196.7h0M549.6 1248.5h0M680.5 1147.5h0M715.7 987.8h0M439.8 1288.7h0M768.8 1065.1h0M643.8 982.9h0M896.2 959.0h0M691.2 1006.9h0M592.0 1181.3h0M831.1 883.9h0M795.5 924.4h0M823.7 1090.8h0M814.6 1019.8h0M557.2 1211.7h0M881.8 986.3h0M779.9 1021.0h0M937.6 1060.4h0M423.2 1131.5h0M622.6 1133.1h0M810.4 966.7h0M667.0 1320.5h0M762.3 1075.7h0"/><path stroke="#F8766D" d="M872.4 977.5h0M566.6 1179.3h0M480.5 1298.5h0M476.7 1478.7h0M692.1 1224.5h0M610.5 914.6h0M654.7 1310.6h0M464.6 1482.8h0M610.5 937.9h0M619.9 1342.8h0M922.3 868.6h0M579.5 1142.0h0M476.4 1370.0h0M560.2 1399.5h0M616.6 1305.4h0M1123.1 654.7h0M608.0 1495.0h0M632.0 1484.1h0M557.5 1180.9h0M592.4 1175.0h0M649.1 1195.3h0M537.0 1110.0h0M1131.4 1343.4h0M376.2 1423.9h0M536.9 1291.1h0M554.7 1374.0h0M541.3 1345.6h0M642.6 996.2h0M586.7 1361.2h0M642.0 1075.7h0M565.8 829.3h0M648.0 1153.6h0M607.3 1243.7h0M643.1 1283.7h0M323.7 1461.8h0M522.2 1247.2h0M633.2 1175.3h0M481.0 1176.2h0M662.1 1287.4h0M672.8 1122.7h0M492.7 1275.2h0M526.2 1461.4h0M658.2 1372.9h0M516.1 1295.4h0M532.2 1380.6h0M593.8 1107.8h0M941.9 1016.3h0M534.0 1418.1h0M906.5 1511.0h0M755.9 1435.7h0M643.4 1121.5h0M573.6 1155.0h0M481.3 1359.8h0M581.7 1220.8h0M463.7 1354.1h0M976.4 1349.1h0M500.1 1471.8h0M662.1 1312.0h0M651.2 1334.5h0M549.9 1295.5h0M732.6 1105.9h0M703.9 1103.7h0M610.3 1309.9h0M708.7 1345.5h0M791.1 1256.6h0M708.6 1288.2h0M590.9 1489.6h0M350.8 1345.4h0M596.5 1117.9h0M977.1 1513.9h0M718.6 1442.2h0M572.4 1194.8h0M558.4 1280.8h0M620.3 1057.3h0M642.4 1017.4h0M501.5 1158.8h0M428.7 1493.4h0M897.7 1568.3h0M743.9 1080.7h0M492.0 1476.1h0M608.5 1123.4h0M545.0 1268.5h0M630.3 1243.2h0M447.3 1199.9h0M548.6 1134.2h0M731.9 1098.6h0M583.8 1110.9h0M766.2 1421.4h0M616.9 1224.2h0M547.0 1152.6h0M658.7 1393.5h0M587.5 1280.4h0M436.5 1238.7h0M662.4 1445.9h0M566.9 1246.0h0M516.0 1177.3h0M701.0 1077.1h0M773.3 1167.7h0M522.5 1234.8h0M770.6 1263.9h0M670.6 1092.4h0M616.5 1283.2h0M612.5 1201.1h0M562.6 1176.4h0M1072.8 1506.5h0M606.9 1358.1h0M641.2 1254.5h0M796.4 1146.9h0M480.9 1374.7h0M589.1 1358.6h0M801.5 997.1h0M724.4 1265.1h0M557.5 1176.7h0M544.3 993.2h0M561.2 1396.9h0M721.0 940.4h0M692.2 1200.5h0M497.4 1295.1h0M503.4 1286.0h0M558.7 1187.1h0M723.6 1245.4h0M602.9 1284.9h0M662.9 1484.1h0M584.7 1234.7h0M498.1 1186.6h0M656.1 1466.0h0M616.6 843.5h0M662.2 1084.0h0M590.7 1476.4h0M613.2 1179.1h0M494.4 1227.0h0M742.0 1159.8h0M654.2 1467.0h0M500.1 1397.0h0M576.0 1048.0h0M747.3 1016.5h0M796.3 1450.1h0M666.0 1065.3h0M603.3 1230.1h0M551.3 1234.8h0M697.1 1227.1h0M637.7 1454.8h0M726.8 1267.9h0M445.9 1315.9h0M666.6 962.7h0M514.0 1217.0h0M543.4 1137.6h0M657.4 1375.3h0M729.4 1376.2h0M707.7 1206.6h0M589.9 1241.3h0M536.7 1289.9h0M1118.4 1549.2h0M664.2 1127.4h0M672.1 1284.4h0M494.6 855.7h0M603.3 1426.2h0M576.3 1234.9h0M591.7 1265.9h0M605.7 1302.0h0M659.0 1305.2h0M719.6 1443.2h0M661.0 1302.8h0M557.4 1448.1h0M467.3 1133.4h0M635.7 1089.2h0M556.9 1375.6h0M627.2 1321.3h0M666.2 1317.3h0M415.3 1253.8h0M520.0 1080.1h0M640.7 1260.2h0M602.3 1487.7h0M514.5 1098.8h0M613.7 1484.2h0M496.1 1140.1h0M617.2 1383.7h0M695.8 1494.2h0M771.8 1049.8h0M547.9 1211.9h0M591.6 1262.6h0M701.3 1278.7h0M621.4 1191.1h0M638.5 1423.0h0M643.1 1348.7h0M583.8 1269.8h0M619.9 1281.8h0M412.0 1318.6h0M894.7 1353.5h0M547.9 1333.9h0M588.9 1322.3h0M638.6 1282.4h0M583.2 1285.6h0M529.8 1387.7h0M597.8 1264.1h0M535.7 1242.4h0M821.4 1412.5h0M984.5 1515.4h0M489.8 1312.9h0M752.8 1180.0h0M599.7 1070.4h0M612.6 1181.3h0M677.7 1416.1h0M544.0 1236.0h0M724.1 1019.7h0M667.1 1292.0h0M604.7 1315.6h0M433.1 1217.9h0M514.5 1318.8h0M631.1 1121.8h0M547.8 1282.1h0M449.1 1155.7h0M664.2 1234.0h0M454.2 1483.0h0M633.1 1041.5h0M644.5 1143.1h0M579.6 1375.8h0M669.5 1491.7h0M677.1 1239.2h0M729.6 1438.5h0M520.8 1324.1h0M828.7 1421.6h0M542.5 1328.1h0M343.1 1391.2h0M645.0 1311.8h0M401.6 1269.6h0M767.9 1052.3h0M577.5 822.6h0M452.4 1480.3h0M633.9 1460.7h0M640.8 1316.9h0M711.6 1040.3h0M735.2 1264.7h0M619.1 1309.7h0M924.2 1531.6h0M615.4 1030.6h0M639.3 1189.7h0M636.8 1244.4h0M495.5 1260.0h0M604.5 1307.2h0M1002.4 337.7h0M549.9 1165.1h0M779.4 1434.0h0M511.8 1407.8h0M598.3 1472.2h0M263.9 1573.3h0M658.9 1234.1h0M632.8 1462.6h0M475.6 1108.9h0M446.2 991.8h0M1136.0 1569.6h0M509.2 1132.9h0M531.6 1344.5h0M533.5 1086.9h0M609.3 930.5h0M391.7 1138.7h0M393.7 1350.2h0M483.4 1183.1h0M675.9 1437.5h0M717.3 1219.7h0M624.1 1242.6h0M601.2 1289.7h0M664.6 1143.6h0M605.0 1353.6h0M725.1 1330.1h0M585.2 1262.9h0M669.2 1289.6h0M586.6 1382.6h0M1213.8 1178.1h0M637.6 1301.9h0M710.1 1051.3h0M792.3 1161.0h0M663.8 1211.9h0M723.5 1063.7h0M740.2 955.6h0M487.3 1241.8h0M571.1 1255.5h0M574.7 1014.3h0M1028.6 1515.4h0M604.8 988.4h0M1006.5 1552.2h0M512.6 1393.6h0M635.6 1436.7h0M582.0 1352.5h0M517.3 956.8h0M588.0 1302.4h0M654.8 1311.9h0M988.2 1506.5h0M613.0 908.5h0M579.0 1328.9h0M516.1 967.9h0M591.4 1458.4h0M806.3 1057.8h0M626.1 1280.1h0M542.5 1282.4h0M505.9 1134.7h0M689.3 1297.3h0M709.7 1495.6h0M631.1 1185.3h0M514.9 1255.3h0M496.4 1134.1h0M899.1 1297.8h0M495.2 1163.3h0M653.2 1400.2h0M541.4 1333.2h0M647.6 1233.3h0M602.9 1466.7h0M562.1 905.4h0M560.6 1141.9h0M637.2 1231.4h0M666.8 1204.0h0M564.4 1019.4h0M620.4 1232.9h0M528.5 1292.1h0M636.2 1287.7h0M597.3 1273.3h0M648.0 1331.5h0M858.4 1496.7h0M771.9 1100.7h0M661.5 1347.2h0M670.0 1271.7h0M597.2 1279.7h0M675.6 1215.2h0M535.9 1290.0h0M477.6 1407.2h0M1237.0 1507.6h0M610.8 1147.7h0M642.1 1489.7h0M627.8 1140.3h0M774.9 1081.5h0M622.8 1411.5h0M721.4 1292.6h0M673.2 1347.7h0M488.4 1295.8h0M491.6 1186.9h0M665.9 963.8h0M538.9 1500.9h0M488.9 1483.9h0M506.4 1159.0h0M544.4 1455.8h0M540.8 1498.2h0M598.6 1383.6h0M927.8 1468.3h0M479.7 1280.9h0M811.8 1288.9h0M628.4 1114.7h0M586.3 1185.3h0M584.5 1307.5h0M379.0 1134.6h0M1091.9 1527.1h0M582.4 1288.5h0M568.5 1259.9h0M657.5 1339.3h0M472.0 1377.0h0M572.9 1436.5h0M715.8 1251.6h0M531.2 1291.0h0M648.5 1115.1h0M565.1 894.4h0M725.6 1181.9h0M796.3 1065.4h0M631.2 887.6h0M610.4 1328.6h0M719.6 1320.6h0M541.9 1444.0h0M657.0 1470.6h0M582.6 1037.0h0M574.6 1352.7h0M693.1 1008.4h0M719.1 1406.7h0M767.4 1160.6h0M675.3 1369.7h0M551.0 1292.6h0M529.1 1084.8h0M560.2 1097.4h0M637.2 1046.4h0M621.7 1363.1h0M719.0 1053.8h0M664.8 1057.4h0M484.2 1318.6h0M752.6 893.1h0M559.3 1031.0h0M556.2 1212.4h0M601.0 1183.4h0M699.6 1048.2h0M618.2 1498.8h0M687.8 1144.3h0M684.8 1227.6h0M747.7 1104.7h0M575.4 1360.0h0M654.1 1313.8h0M547.2 1125.6h0M535.8 1261.7h0M523.2 1412.4h0M572.6 1180.8h0M569.5 1235.4h0M382.6 1333.7h0M418.0 1493.2h0M664.6 1208.4h0M717.4 1196.5h0M445.4 1424.9h0M632.5 1108.4h0M509.4 1133.4h0M579.7 1499.4h0M644.3 1460.9h0M867.9 1012.5h0M644.7 1344.1h0M436.2 1275.8h0M576.9 1057.3h0M604.1 1285.1h0M659.0 1179.8h0M569.0 1111.2h0M744.7 1107.4h0M637.4 910.9h0M722.1 1321.2h0M455.2 1274.0h0M937.4 1503.6h0M644.8 1273.9h0M688.2 1255.2h0M490.5 1364.1h0M581.1 880.3h0M721.3 1090.3h0M534.5 1280.9h0M1012.4 1546.3h0M591.6 1192.8h0M624.1 983.4h0M696.1 1203.3h0M687.0 1304.8h0M613.8 1458.2h0M530.7 1398.0h0M476.4 1224.9h0M617.4 1189.5h0M583.8 1295.5h0M696.6 1471.0h0M673.6 1479.9h0M596.7 822.6h0M563.8 1087.6h0M554.6 1045.3h0M389.1 1115.3h0M530.7 1303.9h0M560.5 1411.9h0M473.7 1370.3h0M596.7 1262.1h0M529.7 1097.2h0M649.8 1015.9h0M610.0 1369.5h0M891.0 873.5h0M695.8 1474.1h0M428.8 1322.3h0M586.5 1028.1h0M633.7 918.3h0M536.7 1249.9h0M492.6 1269.4h0M712.9 1472.9h0M562.0 1109.0h0M641.7 1352.0h0M602.2 1071.6h0M927.8 1451.4h0M517.3 1465.3h0M386.2 1247.9h0M624.6 1452.6h0M386.7 1338.5h0M556.6 1397.0h0M572.9 1091.0h0M697.0 1458.3h0M440.2 1365.2h0M916.8 1562.5h0M569.3 1213.8h0M1046.9 1107.6h0M635.3 1431.7h0M669.0 1303.3h0M365.7 1223.8h0M476.8 1180.3h0M484.2 1376.8h0M693.3 1225.4h0M616.5 971.0h0M516.0 1451.7h0M608.9 1026.1h0M557.0 1280.2h0M717.1 1198.3h0M432.6 1369.7h0M517.4 1083.3h0M692.2 1420.3h0M888.5 1162.0h0M683.6 1355.0h0M589.5 1112.6h0M731.7 1189.6h0M615.4 1324.5h0M520.3 1232.4h0M682.7 847.8h0M620.7 1500.3h0M699.6 1448.8h0M756.5 1145.9h0M477.9 1193.3h0M642.5 1188.9h0M650.3 1150.1h0M620.5 1331.3h0M615.0 1065.1h0M458.6 1312.1h0M500.3 1083.1h0M858.0 1257.4h0M595.0 1080.2h0M564.7 1197.3h0M940.3 1521.3h0M754.8 1055.0h0M870.6 1444.3h0M500.2 1252.3h0M571.8 1208.8h0M552.7 1314.5h0M578.6 1291.2h0M561.4 1335.9h0M610.7 1339.7h0M570.4 1303.7h0M725.2 1120.8h0M510.7 1263.8h0M696.2 1396.7h0M667.9 1240.3h0M764.0 1349.5h0M589.7 1311.9h0M591.3 1201.0h0M649.0 1166.4h0M665.6 1237.3h0M522.1 1298.4h0M602.2 1424.9h0M771.3 1013.0h0M558.7 1356.3h0M588.0 1351.4h0M582.3 946.5h0M545.8 1318.7h0M554.1 1124.5h0M658.4 1371.2h0M671.0 1362.2h0"/><path stroke="#F8766D" d="M627.8 1058.9h0M647.3 1053.3h0M1031.6 1533.0h0M643.1 1378.8h0M581.1 904.8h0M483.1 1084.6h0M514.9 1301.7h0M675.7 1368.4h0M1033.0 1511.0h0M426.4 1473.4h0M634.4 1022.4h0M638.4 1430.8h0M539.3 1385.5h0M521.8 1345.5h0M563.4 1258.9h0M589.4 1083.8h0M624.6 955.9h0M639.1 1095.3h0M528.4 1223.8h0M606.6 1002.4h0M684.7 1421.5h0M896.3 1224.2h0M758.9 1197.5h0M678.8 1260.5h0M349.3 1243.9h0M529.4 1325.8h0M633.3 1292.8h0M688.7 1235.5h0M591.7 1421.7h0M693.9 1329.5h0M534.7 1391.3h0M563.1 1029.6h0M512.4 1089.4h0M593.9 1379.8h0M664.5 1284.3h0M782.4 967.1h0M542.5 1395.4h0M532.3 1138.7h0M642.3 1195.8h0M389.7 1486.7h0M550.0 1160.3h0M597.8 1368.9h0M1059.5 1534.5h0M728.2 1454.1h0M475.8 1343.7h0M545.4 1008.1h0M593.7 1303.5h0M601.0 1113.8h0M963.9 1505.1h0M472.3 1105.2h0M650.8 880.3h0M674.0 1093.8h0M984.5 1524.2h0M607.7 1335.2h0M569.9 1168.0h0M500.0 1133.9h0M1080.1 1556.6h0M729.2 1183.3h0M634.9 1068.4h0M615.2 1321.6h0M571.8 1397.7h0M604.8 1248.0h0M719.9 1501.0h0M400.3 1396.9h0M491.6 1379.8h0M594.6 1492.3h0M587.5 1327.1h0M677.0 1225.1h0M699.6 1014.3h0M975.7 1525.7h0M604.2 1379.6h0M449.3 1216.2h0M633.7 1080.1h0M922.4 1306.2h0M1047.7 1556.6h0M669.8 1363.2h0M598.9 1052.7h0M599.2 1293.8h0M677.0 1499.0h0M561.6 1110.5h0M903.6 1572.8h0M407.2 1086.4h0M624.8 977.5h0M1013.2 1502.1h0M575.0 1062.2h0M640.0 1278.4h0M669.1 984.0h0M583.8 1399.1h0M615.3 1199.4h0M467.7 1328.2h0M609.7 1354.9h0M714.9 1239.3h0M547.9 1220.3h0M781.0 1086.2h0M617.0 775.9h0M736.1 1207.1h0M580.2 1194.6h0M692.3 1017.7h0M572.8 1264.2h0M708.6 1344.0h0M435.8 1222.7h0M790.8 1314.0h0M438.1 1370.0h0M548.5 1224.6h0M990.4 1571.3h0M794.6 1349.5h0M592.0 1416.1h0M638.4 1366.2h0M581.0 1296.9h0M834.0 1500.9h0M754.4 853.3h0M657.8 1336.8h0M504.4 1494.9h0M638.5 1224.1h0M753.2 1144.7h0M982.5 1315.4h0M548.0 1388.9h0M671.1 1324.4h0M697.4 1435.8h0M671.9 1410.3h0M545.9 1148.6h0M668.9 1370.6h0M739.7 1383.5h0M676.6 1152.2h0M431.6 1474.7h0M536.1 1367.6h0M430.8 1299.9h0M503.5 1313.8h0M435.3 1345.6h0M762.9 1132.0h0M620.6 1371.3h0M686.6 1153.9h0M638.8 1439.2h0M388.5 1174.5h0M734.0 1133.3h0M591.3 1217.0h0M480.5 1250.3h0M590.1 992.7h0M654.0 1164.1h0M695.1 1131.3h0M525.1 1192.5h0M592.1 1226.4h0M455.4 1124.0h0M713.1 1413.1h0M541.2 1298.9h0M576.6 1129.6h0M652.1 1444.7h0M568.4 1414.3h0M513.3 1419.2h0M626.7 1273.7h0M655.8 1248.4h0M436.2 1342.5h0M663.3 1242.1h0M666.0 1302.4h0M761.8 1334.0h0M634.6 1280.2h0M633.0 1038.5h0M629.1 1241.5h0M611.6 1381.5h0M598.4 1310.9h0M760.6 1093.2h0M1195.3 1375.0h0M666.5 1422.1h0M541.4 959.1h0M641.7 1258.3h0M655.1 1306.2h0M818.1 1479.8h0M531.6 1295.7h0M541.4 1090.6h0M548.9 1305.4h0M663.3 1334.3h0M709.3 1463.4h0M656.8 1099.0h0M411.5 1187.3h0M607.8 1407.9h0M689.7 1452.1h0M581.0 1460.6h0M720.2 1270.7h0M699.9 1114.2h0M401.9 1225.0h0M572.5 1455.0h0M713.2 1262.1h0M702.9 1275.3h0M537.5 1136.8h0M583.7 1204.1h0M649.2 1366.9h0M665.6 1030.1h0M562.1 1406.3h0M702.2 1331.8h0M770.5 1380.2h0M517.6 1437.0h0M637.9 1384.6h0M430.0 1194.3h0M725.5 1136.2h0M385.5 996.1h0M890.3 1428.6h0M667.4 1368.3h0M389.1 1276.4h0M629.2 1284.8h0M582.9 806.4h0M667.2 1073.2h0M603.0 1383.7h0M625.5 1235.1h0M553.2 1233.2h0M511.9 1107.2h0M658.9 1394.5h0M588.7 1340.9h0M339.7 1366.3h0M621.1 1382.6h0M476.2 1369.0h0M725.9 1392.0h0M648.5 1452.0h0M728.6 1224.2h0M560.6 1162.9h0M1111.9 1227.1h0M646.2 1377.4h0M647.5 1306.4h0M1094.8 1553.6h0M771.5 1339.7h0M670.4 1250.6h0M596.5 1483.5h0M395.9 1264.5h0M649.0 1284.8h0M557.9 1316.1h0M627.5 1312.4h0M540.7 1272.3h0M1180.4 1130.2h0M676.2 1412.2h0M623.9 1292.4h0M576.7 1299.2h0M516.2 1262.3h0M603.1 1195.7h0M535.1 1431.8h0M535.7 1295.7h0M426.7 1294.8h0M512.4 1281.9h0M664.0 1477.6h0M477.0 1386.7h0M569.5 1289.8h0M583.6 1215.8h0M628.1 1252.3h0M653.3 1408.4h0M586.2 1456.9h0M617.4 1391.3h0M681.9 1370.5h0M607.7 1000.1h0M587.6 1187.5h0M692.0 1365.5h0M485.2 1394.9h0M591.0 1499.3h0M546.2 1125.1h0M400.1 1293.5h0M669.9 1258.2h0M753.2 1372.2h0M544.5 1205.7h0M572.0 1217.3h0M938.0 1197.4h0M575.2 1438.3h0M660.0 1486.4h0M1105.1 1528.6h0M671.3 1407.4h0M576.7 1236.9h0M627.2 1275.7h0M564.0 1317.1h0M640.0 1178.5h0M927.8 1489.6h0M669.0 1402.3h0M551.8 1327.5h0M440.1 1343.3h0M631.8 1154.8h0M558.6 1075.9h0M965.4 1553.6h0M1015.4 1534.5h0M763.8 1111.1h0M875.0 1046.0h0M590.4 1261.4h0M840.2 1276.1h0M676.7 1057.6h0M701.0 1101.6h0M1036.0 1550.7h0M747.2 1401.3h0M311.4 1256.6h0M596.1 1352.6h0M803.5 1225.6h0M459.1 1356.9h0M581.1 896.2h0M577.2 965.4h0M850.2 1137.9h0M646.7 1306.9h0M598.1 1267.7h0M606.4 989.6h0M650.0 1209.1h0M588.8 1446.7h0M642.1 1502.3h0M513.5 1258.2h0M903.6 1543.3h0M518.7 1261.4h0M983.9 1249.0h0M555.5 1255.2h0M692.7 1437.5h0M451.8 1177.5h0M559.6 1019.1h0M600.8 1061.1h0M775.8 1114.6h0M397.2 1069.6h0M584.9 1469.6h0M630.1 1492.6h0M748.7 1307.7h0M665.2 1216.3h0M798.9 1136.3h0M477.3 1319.1h0M529.5 1152.5h0M388.7 1185.6h0M421.3 1299.9h0M559.5 713.0h0M822.9 1148.4h0M829.2 1477.8h0M539.2 1203.1h0M583.0 996.5h0M562.7 870.5h0M688.4 1184.3h0M649.3 1244.6h0M548.4 1113.9h0M675.3 1190.5h0M577.5 1229.8h0M570.0 1431.3h0M424.9 1251.0h0M614.3 1113.0h0M604.2 1232.7h0M574.1 1340.8h0M522.8 880.3h0M451.3 1213.0h0M706.1 1437.4h0M517.7 1151.1h0M575.2 1422.9h0M611.7 1150.7h0M587.9 1439.1h0M496.5 968.5h0M690.2 1420.1h0M506.3 1021.8h0M594.7 1191.1h0M649.0 1239.4h0M551.8 1332.9h0M635.5 1058.3h0M737.5 1437.3h0M585.5 1022.2h0M551.6 1269.9h0M605.6 1346.0h0M442.6 1299.5h0M653.7 1273.9h0M709.4 1317.8h0M603.4 1298.0h0M592.7 1136.4h0M611.9 1278.8h0M739.0 1431.2h0M691.3 1052.4h0M571.5 1471.1h0M531.2 1097.6h0M1000.7 1422.0h0M693.1 953.5h0M502.5 1499.7h0M615.8 1341.3h0M1091.9 1505.1h0M486.9 1280.6h0M584.4 1045.7h0M646.0 1092.5h0M654.9 1438.7h0M734.7 1372.8h0M540.9 1124.6h0M451.5 1259.1h0M682.5 1102.7h0M651.3 1162.5h0M399.3 1301.7h0M735.9 1092.4h0M626.3 1020.6h0M448.4 1095.1h0M604.4 864.9h0M567.3 1326.0h0M573.0 1382.2h0M716.4 1181.7h0M387.5 1323.0h0M550.7 1455.2h0M597.0 1326.5h0M486.8 1232.9h0M639.7 1116.7h0M623.6 1491.9h0M379.7 1117.4h0M638.0 1312.6h0M529.2 1310.3h0M933.0 1516.8h0M592.9 1377.4h0M567.7 1006.3h0M695.1 1463.6h0M601.7 1286.0h0M725.4 1085.3h0M570.8 1418.8h0M522.7 1358.3h0M510.3 1340.4h0M814.0 1380.7h0M479.6 1306.5h0M699.1 1393.7h0M476.0 1268.2h0M605.3 1373.3h0M436.7 1087.4h0M650.6 1362.4h0M614.1 1379.7h0M580.4 1187.2h0M403.8 1239.2h0M552.5 1317.9h0M476.9 1373.7h0M595.8 951.4h0M667.3 1390.7h0M510.8 1166.8h0M845.7 1210.6h0M588.7 1077.9h0M794.9 1203.0h0M786.9 1477.6h0M673.3 1261.3h0M792.4 1443.3h0M635.1 1238.7h0M651.7 1354.8h0M616.5 979.2h0M638.0 1448.9h0M816.4 929.3h0M577.7 1416.9h0M638.2 1011.7h0M586.6 1355.6h0M631.2 1290.6h0M605.2 1153.8h0M696.8 1435.2h0M816.6 1096.9h0M831.4 1373.6h0M589.3 1132.1h0M620.4 1273.7h0M539.5 1329.0h0M656.9 1156.8h0M500.8 1314.3h0M697.4 1110.9h0M283.7 1444.3h0M912.4 1541.9h0M527.1 1018.8h0M540.4 1257.5h0M582.3 1171.0h0M531.7 1110.3h0M563.5 1304.9h0M668.9 1025.2h0M749.8 1159.8h0M423.7 1386.8h0M649.0 1465.2h0M653.7 1436.9h0M631.1 1363.8h0M413.0 1329.4h0M574.9 1293.7h0M613.6 1323.0h0M644.0 1389.1h0M670.9 1233.8h0M658.0 1138.7h0M541.5 1089.4h0M584.7 1263.9h0M630.9 1173.8h0M578.6 1368.0h0M635.8 1323.4h0M530.8 1288.6h0M662.0 1281.7h0M781.7 1065.1h0M749.0 1162.2h0M597.1 624.7h0M619.4 1449.0h0M697.9 1175.1h0M560.2 887.6h0M550.7 1088.9h0M539.1 1133.3h0M636.6 1417.9h0M654.7 1043.2h0M615.9 679.5h0M514.7 1087.7h0M608.4 1256.6h0M495.9 1107.5h0M365.3 1160.8h0M663.0 1411.5h0M677.9 1316.2h0M565.6 1136.2h0M510.0 918.3h0M781.9 1105.8h0M675.7 1268.5h0M619.8 1312.1h0M580.8 1341.9h0M305.6 1464.1h0M585.6 1478.2h0M557.7 1274.1h0M497.2 1334.2h0M730.6 1082.5h0M595.8 1149.5h0M625.0 1430.1h0M1087.5 1552.2h0M282.0 1504.3h0M635.6 1470.4h0M595.5 1239.0h0M506.6 1351.0h0M630.4 1094.8h0M753.8 1112.4h0M598.2 1303.2h0M693.0 1087.6h0M527.0 1162.9h0M533.3 1165.5h0M916.8 1431.5h0M498.6 1308.6h0M1176.3 1027.6h0M434.6 1373.8h0M635.3 1225.3h0M678.6 1339.1h0M536.4 1177.1h0M502.4 1324.3h0M614.4 1464.8h0M763.7 1179.3h0M447.7 1306.3h0"/><path stroke="#00BFC4" d="M626.8 1136.4h0M487.8 1255.6h0M523.4 1162.7h0M812.1 437.5h0M774.9 997.1h0M623.5 1128.3h0M515.2 1233.7h0M519.3 1095.4h0M950.7 1076.4h0M572.5 1128.6h0M866.4 1027.9h0M639.9 1025.0h0M861.8 828.4h0M725.6 1098.3h0M510.1 1324.3h0M788.4 1044.8h0M390.0 1229.6h0M669.3 1189.7h0M1232.6 473.5h0M451.5 1212.4h0M456.4 1292.0h0M808.0 950.7h0M783.1 1178.9h0M564.7 1246.4h0M839.0 993.1h0M922.7 994.1h0M446.7 1139.8h0M723.1 1058.7h0M826.7 1118.9h0M691.9 1005.8h0M644.3 497.0h0M478.0 1257.7h0M792.1 1011.6h0M796.0 1085.2h0M1508.6 1038.0h0M630.4 1013.6h0M828.1 951.1h0M735.2 1229.0h0M483.8 1318.5h0M610.1 1301.8h0M953.6 955.0h0M883.7 1005.3h0M713.7 973.6h0M925.2 1200.2h0M510.5 1381.7h0M811.3 1069.2h0M1059.5 372.2h0M908.2 974.0h0M718.2 1039.2h0M766.1 994.1h0M898.4 1027.3h0M561.3 1306.6h0M702.3 1027.3h0M746.7 1102.9h0M478.2 803.9h0M441.3 1061.7h0M855.6 1003.3h0M764.5 1073.3h0M644.7 1135.0h0M990.3 1081.4h0M1048.6 986.3h0M858.0 1085.5h0M916.8 1004.0h0M572.4 1243.8h0M729.5 1140.6h0M797.6 1045.5h0M454.0 1312.9h0M608.5 1015.9h0M571.8 1278.6h0M816.0 657.5h0M1042.3 401.2h0M680.1 767.9h0M474.0 1275.3h0M639.2 1153.5h0M519.3 1289.1h0M634.7 1228.2h0M693.6 1199.8h0M648.0 1159.8h0M733.4 978.5h0M569.2 1190.8h0M433.3 1350.1h0M717.9 984.9h0M979.0 1081.4h0M632.7 1172.4h0M739.7 1163.0h0M460.3 997.3h0M848.6 1010.7h0M455.5 1178.7h0M438.6 1219.5h0M882.5 929.3h0M739.5 984.5h0M1474.3 1177.8h0M520.3 1227.6h0M510.3 1116.4h0M760.8 995.4h0M1005.8 1190.3h0M862.1 1017.3h0M845.5 1205.9h0M769.8 1151.4h0M796.9 1067.2h0M794.9 851.5h0M391.0 1206.4h0M643.9 1196.3h0M382.2 1100.6h0M526.8 1118.8h0M783.9 1092.3h0M767.9 985.8h0M621.6 1017.2h0M583.4 1152.3h0M636.0 1213.2h0M512.4 910.3h0M467.2 1090.3h0M792.9 1124.1h0M474.7 1123.2h0M510.0 1224.2h0M808.3 1047.6h0M445.8 1230.5h0M580.5 923.8h0M300.1 1321.6h0M497.7 1168.6h0M843.3 952.6h0M616.2 1159.3h0M650.4 1068.5h0M794.4 995.5h0M760.8 1094.2h0M412.9 1305.4h0M480.5 1199.2h0M963.4 1034.7h0M613.1 1271.3h0M549.4 1170.5h0M645.5 1084.1h0M752.6 907.2h0M630.9 1010.9h0M872.2 1152.0h0M734.4 1243.5h0M565.0 1136.4h0M416.3 1224.9h0M614.6 1187.1h0M624.6 1075.5h0M844.2 968.4h0M533.7 1163.7h0M782.6 1090.1h0M683.4 1000.6h0M824.9 926.9h0M492.7 1253.4h0M681.6 1212.4h0M805.8 987.1h0M688.8 1132.4h0M400.8 1357.6h0M864.3 957.7h0M875.7 982.3h0M464.7 1263.9h0M557.5 1211.4h0M786.9 948.6h0M880.0 876.6h0M942.0 1037.3h0M722.6 1116.5h0M826.3 977.6h0M840.1 1079.9h0M863.1 1120.6h0M806.7 1110.6h0M686.3 1003.4h0M815.2 1206.7h0M780.3 1033.9h0M990.3 1045.7h0M486.4 1157.2h0M744.2 1046.2h0M458.4 1217.3h0M488.8 1129.1h0M738.7 981.7h0M733.1 1029.6h0M856.2 940.4h0M538.1 1187.4h0M446.5 1232.6h0M496.2 1146.1h0M558.9 1139.9h0M497.1 1302.2h0M987.5 1095.6h0M697.4 995.9h0M810.1 1008.5h0M430.3 1236.1h0M1044.9 901.1h0M971.5 601.5h0M726.4 1060.7h0M850.2 1128.5h0M818.8 835.5h0M680.6 1254.7h0M1045.5 1069.6h0M828.2 991.2h0M768.7 1252.3h0M596.6 1269.8h0M837.6 1011.3h0M409.3 1254.1h0M608.2 1172.3h0M889.8 980.1h0M848.4 997.7h0M766.8 1052.0h0M472.0 1138.9h0M747.9 1051.1h0M585.4 1369.3h0M1009.4 970.9h0M835.1 1009.8h0M438.9 1258.2h0M933.9 1011.4h0M724.4 983.0h0M757.5 875.4h0M381.2 1335.2h0M769.3 955.0h0M743.7 950.1h0M470.7 1202.0h0M767.6 1114.0h0M1155.3 772.9h0M669.1 1134.5h0M412.5 1238.7h0M436.5 1255.8h0M380.4 1337.7h0M638.7 1133.1h0M650.0 1041.2h0M417.7 1265.8h0M555.5 1166.9h0M529.9 1351.0h0M744.1 1172.2h0M771.6 1015.1h0M593.7 1050.4h0M390.7 1275.7h0M840.0 956.1h0M1056.6 1060.4h0M624.0 952.0h0M649.2 1003.5h0M833.2 1024.2h0M891.0 997.9h0M1000.2 1082.1h0M953.6 1075.2h0M438.4 1193.6h0M672.8 1113.3h0M558.6 1121.2h0M835.0 1096.6h0M964.6 983.2h0M456.5 1182.1h0M706.7 946.1h0M881.5 447.5h0M667.0 1042.0h0M554.8 1151.5h0M732.1 1001.2h0M1035.7 947.7h0M754.8 1236.4h0M583.9 1187.6h0M958.5 1062.9h0M575.8 1263.5h0M550.0 1204.7h0M769.5 950.9h0M583.4 1252.0h0M611.7 1205.7h0M526.6 1328.3h0M825.4 996.0h0M522.9 1291.2h0M640.6 1080.5h0M694.4 1185.4h0M395.7 1373.1h0M791.2 958.1h0M750.8 1134.8h0M433.4 1256.1h0M925.2 1044.3h0M825.3 1124.5h0M844.6 876.0h0M843.8 1042.3h0M454.4 1376.5h0M660.4 1222.9h0M760.4 1101.1h0M754.5 1085.0h0M386.4 1310.4h0M659.5 1042.4h0M486.2 1186.1h0M496.5 1183.0h0M382.9 1231.0h0M750.3 1175.0h0M459.0 1211.8h0M791.6 968.5h0M544.5 1208.2h0M544.7 1193.0h0M787.0 1008.9h0M825.1 1120.7h0M812.3 1011.7h0M698.8 1078.6h0M436.8 1429.2h0M393.4 1252.4h0M1044.9 1043.9h0M882.5 1035.9h0M703.7 936.4h0M600.1 1203.4h0M1000.9 1107.6h0M434.3 1211.2h0M831.8 1010.7h0M742.6 1091.5h0M723.0 1075.7h0M656.2 1088.0h0M407.8 1151.8h0M619.5 1285.5h0M431.4 1249.4h0M786.8 990.3h0M710.4 1216.8h0M1203.8 1127.2h0M325.3 998.6h0M494.7 1167.6h0M697.4 1070.1h0M935.2 988.1h0M700.3 949.4h0M591.7 999.5h0M553.9 1252.2h0M862.4 1029.6h0M658.9 947.3h0M792.7 1058.5h0M709.2 1278.3h0M687.5 1049.5h0M464.7 1139.6h0M529.0 1105.7h0M748.2 1171.6h0M822.3 1101.1h0M992.8 957.5h0M490.9 1248.0h0M775.8 969.2h0M885.5 824.6h0M506.6 1135.1h0M712.2 1103.7h0M997.4 1092.7h0M884.2 1097.0h0M835.0 975.8h0M617.7 1058.3h0M568.7 1183.7h0M850.0 1075.0h0M507.3 1190.1h0M641.7 1017.3h0M647.0 1081.6h0M711.3 1103.4h0M1002.6 1036.5h0M661.4 1149.9h0M584.9 1077.0h0M823.4 1029.6h0M436.9 1187.1h0M653.9 1013.1h0M455.5 1282.5h0M591.8 1302.7h0M774.5 1086.5h0M651.1 1142.5h0M828.7 1065.2h0M450.9 1221.7h0M870.5 1007.7h0M874.6 1121.9h0M820.1 1038.2h0M497.9 1210.5h0M628.0 1017.7h0M764.0 1087.3h0M993.8 1183.2h0M987.9 1042.1h0M673.2 939.8h0M823.2 970.9h0M445.3 1344.2h0M423.9 1285.6h0M933.0 724.5h0M724.4 1112.2h0M566.6 1135.9h0M619.2 1170.8h0M516.1 945.9h0M875.8 982.9h0M558.0 1188.2h0M463.2 1188.6h0M526.6 1255.8h0M724.6 1016.1h0M698.6 1218.6h0M686.9 1207.1h0M425.0 1310.5h0M848.6 1069.1h0M584.0 1143.3h0M726.2 1198.6h0M830.2 1004.3h0M1119.3 723.9h0M709.7 920.7h0M402.4 1292.9h0M521.5 1245.4h0M705.3 1124.6h0M399.2 1325.2h0M1020.4 871.1h0M708.8 1242.5h0M756.5 1070.8h0M799.2 971.9h0M825.3 1017.7h0M453.0 1203.8h0M787.3 1154.5h0M802.8 1078.3h0M743.3 1009.9h0M676.9 1172.8h0M395.6 1292.1h0M418.1 1269.2h0M588.8 1003.3h0M940.8 1121.7h0M294.8 1209.2h0M873.5 1058.8h0M683.3 1070.8h0"/><path stroke="#00BFC4" d="M783.3 1040.7h0M746.2 1265.0h0M864.3 818.4h0M857.5 1040.9h0M408.6 1210.4h0M919.2 1029.8h0M773.5 908.5h0M751.6 1067.2h0M486.7 1123.4h0M779.7 1099.7h0M724.5 997.8h0M860.5 924.4h0M856.8 1074.6h0M288.4 1208.1h0M682.5 1163.0h0M528.0 1234.1h0M385.9 1087.2h0M861.7 830.6h0M540.7 1150.3h0M429.6 1349.5h0M837.1 1065.0h0M903.3 901.1h0M699.9 858.2h0M629.9 1191.2h0M855.2 1107.1h0M861.7 1112.0h0M443.2 1337.6h0M884.9 1075.2h0M1141.7 1069.0h0M1013.6 896.8h0M744.6 1120.0h0M799.6 1081.4h0M473.8 1200.6h0M729.7 1128.5h0M1033.9 978.9h0M732.1 1195.4h0M895.9 878.4h0M733.5 1082.4h0M457.3 1204.0h0M830.5 952.5h0M581.4 1227.2h0M767.7 968.3h0M488.5 1226.9h0M857.6 1015.2h0M667.7 972.0h0M783.4 1051.3h0M496.2 1278.1h0M1042.6 1104.0h0M715.1 1134.6h0M455.6 1281.4h0M444.1 1158.7h0M786.9 961.7h0M784.9 1157.3h0M810.2 1043.2h0M394.9 1091.5h0M838.5 944.1h0M876.8 1051.5h0M814.8 999.2h0M804.6 947.8h0M429.2 1282.7h0M1010.0 1007.1h0M809.1 1084.6h0M865.1 1015.3h0M679.0 890.1h0M636.8 1072.6h0M769.2 928.1h0M570.0 858.8h0M735.3 1064.1h0M499.3 1308.1h0M1059.6 1084.2h0M742.2 1262.3h0M801.0 1041.6h0M482.2 1266.2h0M723.9 1115.8h0M693.8 864.3h0M897.2 994.2h0M614.8 1067.4h0M465.4 1202.0h0M642.5 1226.5h0M546.4 1071.7h0M408.0 1116.2h0M798.8 687.5h0M648.3 1219.9h0M797.5 1030.0h0M871.3 989.6h0M679.6 1167.7h0M549.8 1194.4h0M506.8 1117.8h0M792.2 1168.4h0M752.1 1070.1h0M1191.5 532.1h0M668.9 1229.2h0M494.7 1202.9h0M564.4 1225.8h0M840.3 1025.7h0M1031.3 1191.7h0M545.7 1327.4h0M437.2 1373.2h0M710.5 1138.3h0M873.3 965.9h0M795.2 940.6h0M798.4 1092.4h0M433.7 1230.2h0M460.4 1226.3h0M469.0 1224.7h0M427.4 1302.2h0M495.3 1330.4h0M641.0 1097.9h0M440.5 1203.7h0M1043.3 1125.2h0M667.5 1244.5h0M817.1 1053.3h0M774.8 1090.9h0M826.1 987.2h0M555.6 1178.2h0M467.2 1205.6h0M881.4 1212.9h0M715.7 1226.6h0M525.3 1278.1h0M790.3 1113.5h0M590.0 1176.5h0M570.4 1013.9h0M506.0 1228.5h0M595.2 1091.3h0M757.9 1123.2h0M616.6 1166.6h0M855.1 1006.6h0M703.6 1023.3h0M380.8 1277.2h0M543.9 1026.6h0M948.7 932.4h0M812.1 1040.5h0M978.4 797.2h0M528.8 1245.3h0M1019.8 1045.7h0M398.6 1339.4h0M429.6 1234.1h0M664.9 1024.3h0M807.9 1311.2h0M757.1 938.7h0M1065.2 1246.9h0M798.6 1251.4h0M631.2 1135.9h0M805.0 998.3h0M633.4 946.4h0M653.0 1042.2h0M642.3 1177.1h0M775.0 989.3h0M665.5 1125.1h0M1021.0 1018.8h0M721.4 1076.4h0M697.1 973.9h0M589.3 1083.2h0M524.1 1223.5h0M739.5 1033.7h0M691.9 857.6h0M864.8 983.6h0M465.5 1322.1h0M467.0 797.3h0M496.8 1380.6h0M470.9 1214.6h0M639.1 1075.6h0M733.4 995.8h0M808.4 997.6h0M956.0 1025.5h0M394.7 1275.2h0M530.3 1153.5h0M759.5 1058.7h0M845.8 1092.3h0M465.8 1005.3h0M788.1 973.0h0M935.1 1166.3h0M950.7 1121.7h0M846.4 945.5h0M790.5 994.0h0M929.0 1016.3h0M827.4 862.5h0M525.9 910.3h0M628.9 1129.7h0M504.2 1426.3h0M515.4 1262.3h0M955.7 1037.9h0M629.7 1175.3h0M693.5 1193.7h0M473.5 1217.2h0M656.6 1040.2h0M553.5 1248.2h0M980.4 1092.7h0M508.6 1231.1h0M997.7 1056.8h0M937.6 904.2h0M924.1 1040.8h0M765.7 1253.6h0M534.5 1053.1h0M1028.4 1028.6h0M806.2 1176.3h0M787.3 1123.5h0M844.6 1073.7h0M674.3 1204.8h0M649.3 955.1h0M388.0 1190.0h0M813.9 1206.8h0M608.1 1217.5h0M384.0 1150.8h0M751.3 1049.1h0M672.4 1035.3h0M661.8 1101.2h0M796.8 1051.8h0M663.3 1040.0h0M740.0 1121.2h0M848.1 1056.9h0M509.5 1245.4h0M796.4 1122.2h0M490.5 1365.2h0M591.1 1204.1h0M470.7 1203.6h0M451.9 1294.8h0M442.1 1182.7h0M632.0 1102.1h0M576.0 1139.0h0M827.2 1274.1h0M674.7 617.1h0M626.1 1196.2h0M1046.7 1015.1h0M540.1 1323.5h0M432.7 1304.7h0M512.0 1190.8h0M769.1 1093.1h0M850.0 1025.9h0M864.1 1022.3h0M702.0 988.8h0M898.1 549.5h0M485.4 1152.0h0M504.4 853.9h0M678.7 1136.9h0M898.4 1135.9h0M662.7 1033.5h0M834.4 945.0h0M502.4 1283.4h0M503.8 1045.1h0M697.2 1049.7h0M545.2 1134.0h0M625.6 1117.9h0M806.5 1045.6h0M888.5 1106.9h0M854.7 1177.3h0M524.7 950.2h0M1034.5 1029.8h0M632.4 1028.7h0M491.0 1245.4h0M761.6 1131.4h0M1191.0 1249.3h0M728.0 1123.5h0M463.5 1155.7h0M667.4 1066.9h0M1028.4 876.6h0M529.3 1354.9h0M1076.2 885.2h0M439.8 1190.7h0M731.8 973.4h0M808.8 1168.6h0M794.2 988.8h0M507.0 1230.8h0M952.5 1023.4h0M864.4 1063.6h0M777.8 778.9h0M804.9 1140.6h0M888.5 1157.8h0M613.0 1079.6h0M744.3 958.2h0M671.5 1054.1h0M522.8 1254.9h0M843.1 975.3h0M590.3 1146.7h0M404.0 1303.9h0M842.4 1061.7h0M608.0 1154.1h0M839.6 1011.6h0M486.1 1067.2h0M1043.7 891.9h0M482.7 1308.6h0M675.5 1029.1h0M756.4 1065.2h0M481.8 1349.3h0M876.9 989.1h0M495.6 1364.6h0M898.4 1085.7h0M947.9 1097.0h0M677.3 992.0h0M613.0 948.3h0M696.0 1097.5h0M490.7 1234.8h0M804.2 1111.9h0M1219.0 1084.0h0M1053.9 1168.4h0M822.7 1100.3h0M870.2 1115.3h0M1015.5 888.9h0M466.9 1126.5h0M434.4 1198.6h0M846.0 800.6h0M865.6 1103.5h0M876.8 394.3h0M776.5 916.4h0M911.9 985.0h0M1179.5 1117.4h0M737.7 1119.5h0M793.5 1072.7h0M811.4 1101.8h0M598.3 1027.6h0M446.9 1295.8h0M480.8 1115.9h0M1246.2 1025.7h0M483.2 1287.7h0M804.8 1052.4h0M671.2 1055.7h0M742.3 1110.1h0M479.3 1154.0h0M908.2 1001.6h0M827.0 1067.8h0M793.3 1108.9h0M786.5 820.9h0M703.4 1238.6h0M400.0 1279.8h0M960.9 1078.6h0M1029.6 1045.7h0M1021.0 988.1h0M460.5 1331.1h0M549.7 1413.6h0M493.9 1326.2h0M739.4 1081.1h0M857.5 1087.4h0M953.6 1053.1h0M700.3 1175.6h0M933.3 1001.8h0M698.8 1270.9h0M487.1 1320.5h0M766.0 1106.2h0M383.0 1328.1h0M578.9 1205.1h0M774.2 1061.6h0M491.8 810.1h0M902.6 1139.4h0M721.9 1261.7h0M699.8 1002.4h0M1039.8 1081.4h0M766.4 1034.1h0M447.8 1265.8h0M919.2 888.2h0M979.0 1191.7h0M754.1 1217.2h0M817.1 767.9h0M610.6 1156.0h0M606.0 991.8h0M957.4 1029.2h0M833.4 1038.6h0M709.0 1034.1h0M755.6 957.7h0M794.5 1237.9h0M834.2 948.1h0M437.4 1313.2h0M808.4 1093.4h0M730.6 938.2h0M759.3 952.1h0M701.1 931.8h0M497.0 1218.1h0M744.9 1196.2h0M843.9 1011.9h0M705.4 996.8h0M738.6 1007.2h0M452.7 1165.4h0M772.6 1183.2h0M683.0 995.1h0M608.5 1228.0h0M823.7 1062.4h0M782.9 1144.5h0M850.2 1055.5h0M498.9 1190.7h0M568.3 1018.3h0M661.0 1039.4h0M953.5 1123.1h0M865.7 1057.0h0M785.5 995.7h0M763.6 1012.8h0M404.1 1132.1h0M457.7 1312.3h0M647.7 1166.1h0M487.0 1146.8h0M898.4 958.7h0M749.5 1194.4h0M818.4 987.6h0M898.4 1056.8h0M859.8 1126.7h0M665.8 1210.6h0M856.6 1073.0h0M541.9 1120.1h0M849.9 1074.3h0M762.4 1000.5h0M647.1 1173.4h0M813.0 1091.0h0M761.9 1073.6h0M488.9 1218.9h0M488.3 1093.3h0M759.8 1009.1h0M880.0 1011.4h0M1066.7 1084.2h0"/><path stroke="#F8766D" d="M681.9 1108.0h0M577.4 960.7h0M533.9 1209.0h0M567.9 1050.2h0M641.3 1236.2h0M588.7 1232.8h0M628.5 1486.1h0M524.6 1478.7h0M594.1 1276.1h0M751.2 971.9h0M664.2 1438.2h0M513.2 1320.8h0M562.1 1474.4h0M728.4 1464.4h0M711.7 1160.3h0M586.1 1372.8h0M533.3 1324.8h0M713.7 1325.5h0M441.8 1392.8h0M1038.9 1521.3h0M373.6 1249.2h0M624.4 1328.7h0M381.6 1344.6h0M583.8 1284.4h0M563.2 1246.5h0M554.4 1502.5h0M658.9 1354.5h0M471.4 1466.7h0M661.1 1343.0h0M715.9 1449.6h0M626.9 1184.6h0M1000.2 1053.1h0M729.4 1285.3h0M751.5 1069.0h0M599.3 1454.2h0M582.7 1299.1h0M822.7 1336.5h0M651.1 1134.2h0M541.5 1481.2h0M613.1 1238.0h0M576.4 1460.6h0M501.1 1331.9h0M651.3 1388.1h0M577.3 1445.4h0M329.5 1476.5h0M610.7 1345.2h0M344.2 1016.5h0M649.1 1350.9h0M665.3 1315.0h0M627.5 1435.6h0M288.8 1502.0h0M406.2 1354.1h0M401.2 1399.9h0M380.6 1393.7h0M822.3 773.7h0M698.3 1171.2h0M577.5 1143.0h0M414.8 1110.4h0M489.3 1365.5h0M813.2 997.6h0M495.9 1104.3h0M607.6 1359.5h0M1021.3 1518.3h0M824.6 1479.7h0M548.1 1095.9h0M656.6 1100.3h0M462.0 1331.2h0M581.7 1015.0h0M591.1 1450.6h0M647.5 1423.8h0M654.6 1252.2h0M1069.5 1204.4h0M613.5 1149.1h0M851.7 1358.4h0M617.0 1289.8h0M541.6 972.6h0M697.6 1466.7h0M791.3 1474.8h0M434.9 1360.0h0M587.6 1303.3h0M548.2 1038.3h0M635.5 1259.8h0M659.5 1056.8h0M530.3 1456.8h0M647.4 1363.1h0M526.5 1244.1h0M598.1 1398.0h0M818.4 1060.1h0M777.9 1436.6h0M549.3 1106.9h0M621.2 1167.3h0M595.9 1183.0h0M676.3 1470.4h0M625.4 1059.3h0M625.1 1282.7h0M622.8 922.0h0M648.2 1234.8h0M1047.7 1374.1h0M715.3 1473.0h0M692.6 1004.4h0M883.7 1417.5h0M557.6 1400.1h0M652.7 1027.6h0M644.4 1281.3h0M621.4 1112.1h0M604.7 1371.8h0M326.0 971.1h0M583.2 1370.2h0M675.1 1239.5h0M649.5 1325.7h0M530.6 1297.5h0M660.6 1171.3h0M410.7 969.1h0M516.9 1455.9h0M777.1 860.0h0M640.9 1349.1h0M535.6 1099.1h0M487.8 1371.1h0M611.0 1107.3h0M523.5 981.4h0M639.8 1381.6h0M667.7 1272.9h0M628.9 1496.5h0M675.5 1277.3h0M455.7 1310.3h0M482.2 1134.1h0M560.0 1163.8h0M512.1 1172.5h0M577.9 729.2h0M914.3 1038.4h0M667.2 1102.6h0M669.7 1464.7h0M558.0 1353.9h0M606.9 1142.3h0M764.6 1264.8h0M683.4 1456.3h0M634.9 1079.5h0M653.5 1199.2h0M571.3 1052.3h0M717.5 1108.7h0M316.5 1355.0h0M500.7 1334.9h0M695.4 1174.9h0M633.6 1362.0h0M679.8 1004.8h0M433.3 1335.3h0M612.5 1205.8h0M621.4 1287.2h0M461.2 1391.2h0M676.1 1170.3h0M743.8 1447.4h0M616.3 1123.8h0M1136.0 996.6h0M671.0 1309.1h0M575.0 1210.6h0M654.1 1362.4h0M622.8 1130.2h0M510.2 1172.6h0M705.1 1300.6h0M635.6 1430.9h0M663.1 1354.9h0M506.2 1477.0h0M426.2 1334.0h0M594.4 1366.9h0M386.1 1027.3h0M642.8 1125.2h0M530.8 1274.6h0M717.9 1209.9h0M490.4 1217.6h0M490.5 1412.4h0M480.0 1355.3h0M463.0 1250.2h0M765.1 1430.7h0M625.1 1424.1h0M723.1 970.1h0M692.5 1341.9h0M545.8 1187.4h0M663.5 1442.6h0M654.6 1299.7h0M581.7 985.0h0M526.1 1158.7h0M638.7 1317.8h0M770.8 1264.5h0M702.6 996.0h0M551.9 968.0h0M1071.3 1444.0h0M622.8 1324.0h0M700.6 983.4h0M743.9 1418.3h0M546.8 1230.0h0M589.1 1426.8h0M628.2 1199.8h0M618.4 1195.1h0M1127.2 1344.0h0M729.7 1263.4h0M649.8 1342.9h0M670.2 1368.1h0M1238.9 1519.8h0M701.4 1208.9h0M532.0 1107.4h0M544.8 1104.1h0M591.8 1329.3h0M633.3 1342.7h0M662.9 1230.8h0M628.3 1453.6h0M716.7 1153.3h0M744.8 1351.0h0M575.9 1108.7h0M563.7 1154.3h0M710.5 1032.2h0M594.6 1350.5h0M638.2 1232.4h0M437.5 1295.6h0M641.4 1218.1h0M527.1 1048.2h0M552.9 1174.1h0M708.5 1492.8h0M823.9 1130.9h0M626.6 1457.9h0M638.1 1109.5h0M275.2 1505.4h0M609.1 1328.3h0M508.0 1447.7h0M618.1 1246.6h0M529.8 1274.4h0M679.9 1265.4h0M676.5 1145.0h0M661.0 1026.3h0M601.7 1143.4h0M580.4 1202.5h0M626.5 1047.2h0M651.1 1472.2h0M603.6 1187.0h0M555.8 1413.7h0M483.6 971.6h0M622.0 1165.1h0M632.6 1077.7h0M730.0 1110.0h0M654.5 1488.8h0M677.7 1449.6h0M714.4 1487.6h0M543.5 1224.1h0M729.3 1213.9h0M400.4 1203.4h0M548.7 1298.9h0M559.5 1055.6h0M601.5 1262.1h0M619.0 1025.9h0M769.5 1151.3h0M560.1 1146.8h0M404.4 1260.7h0M583.7 1135.8h0M644.0 1013.1h0M644.6 1302.0h0M624.1 1423.6h0M577.1 1410.2h0M617.5 1418.0h0M882.2 1351.3h0M315.4 1199.1h0M766.7 491.4h0M725.4 953.2h0M1116.1 1194.5h0M679.4 1375.9h0M635.6 1220.0h0M427.8 1374.6h0M562.6 1281.7h0M672.6 1093.0h0M526.7 1087.4h0M659.3 1403.9h0M657.5 1352.1h0M581.4 1084.8h0M646.0 1417.6h0M614.1 1305.5h0M522.1 1081.8h0M534.2 1278.4h0M629.5 1315.2h0M557.8 1434.4h0M664.1 1411.1h0M927.1 1530.1h0M485.2 1332.7h0M481.0 1195.3h0M1165.6 723.9h0M571.1 1241.0h0M576.5 1154.8h0M547.5 1140.4h0M627.6 1264.6h0M554.9 1290.1h0M620.3 1122.8h0M586.5 1295.5h0M657.5 1266.9h0M724.2 1345.6h0M721.2 1354.2h0M610.8 1296.1h0M773.7 1069.5h0M773.3 1013.4h0M639.9 1087.2h0M481.8 1022.4h0M631.0 1446.3h0M623.4 977.2h0M265.1 1473.7h0M494.3 1086.3h0M618.9 1412.6h0M446.2 1169.9h0M632.7 1430.0h0M666.9 1447.0h0M659.8 1218.9h0M573.5 1323.5h0M627.2 1393.3h0M633.7 1308.4h0M549.7 1037.0h0M703.0 1185.6h0M382.9 1312.2h0M885.7 1251.8h0M403.0 1360.7h0M604.3 1290.2h0M489.8 1108.0h0M540.8 1311.5h0M665.6 1323.3h0M1048.3 1220.0h0M670.3 1298.3h0M618.0 811.8h0M623.0 1055.6h0M613.5 1419.5h0M564.3 1225.1h0M891.8 1550.7h0M521.3 1278.7h0M411.0 1349.2h0M605.5 1219.2h0M629.8 1212.3h0M700.3 994.6h0M659.5 1446.2h0M553.1 1172.2h0M593.1 1500.1h0M600.4 1293.8h0M582.9 1256.8h0M483.8 1472.7h0M644.4 1199.6h0M682.5 1306.3h0M519.2 1355.7h0M646.2 1127.3h0M577.7 1145.0h0M628.9 845.9h0M537.8 1330.6h0M581.9 1357.5h0M461.1 1180.9h0M579.0 1369.5h0M643.5 1276.8h0M438.4 1215.8h0M545.6 1246.5h0M719.5 1493.3h0M496.3 1370.7h0M633.0 1266.1h0M565.9 1386.7h0M653.4 1284.7h0M600.3 1414.4h0M641.0 1291.1h0M542.6 1295.5h0M579.7 1278.5h0M771.6 1219.1h0M583.1 1172.0h0M588.5 1485.0h0M443.1 1170.3h0M539.3 1464.2h0M428.9 1121.0h0M717.1 1040.9h0M608.9 1029.5h0M482.6 1261.3h0M677.8 1304.0h0M579.9 1261.3h0M434.4 1098.7h0M726.1 1390.6h0M631.6 1348.0h0M686.7 1364.7h0M425.6 1375.4h0M623.0 1090.0h0M543.8 1196.1h0M747.7 1100.0h0M611.6 1456.9h0M939.6 1460.2h0M571.7 1322.0h0M999.2 1531.6h0M563.0 991.4h0M622.8 1406.9h0M503.2 944.6h0M624.6 1275.3h0M715.7 1393.9h0M638.7 1284.0h0M670.7 1437.2h0M715.7 1405.6h0M498.1 1298.1h0M340.6 1423.4h0M658.9 1218.0h0M658.1 1298.6h0M618.7 1371.5h0M724.6 1233.8h0M482.8 1231.8h0M440.9 1286.9h0M580.8 1406.1h0M671.8 1408.5h0M633.1 1330.6h0M626.8 1311.7h0M666.1 1272.1h0M360.0 1399.6h0M513.4 1198.9h0M841.2 1395.2h0M565.6 1198.9h0M533.9 959.9h0M472.6 1282.5h0M535.8 1101.7h0M642.0 1007.8h0M285.4 1256.0h0M573.6 1107.3h0M628.3 1248.4h0M438.2 1019.4h0M725.9 1499.2h0M663.6 1384.7h0M661.0 1409.6h0M643.4 820.1h0M758.1 809.3h0M420.6 1379.9h0M497.4 1385.0h0M566.6 1479.4h0M714.8 1180.6h0M644.6 1319.4h0M630.2 1114.2h0M658.7 1237.0h0M695.3 1141.0h0M504.0 1447.5h0M467.1 944.0h0M543.9 1452.0h0M783.1 984.0h0M648.6 1251.5h0M436.7 1170.1h0M671.1 1237.5h0M614.5 1100.7h0M443.5 1327.7h0M648.4 1311.0h0M468.4 1396.9h0M1295.8 502.7h0M527.1 928.1h0M490.3 838.6h0M729.7 1376.4h0M727.5 1442.1h0M402.5 1443.2h0M726.1 1178.7h0M406.5 1318.0h0M717.7 1186.5h0M567.1 1261.5h0M615.4 1439.7h0M595.7 1242.4h0M666.9 1376.6h0M709.8 1266.7h0M729.1 1266.1h0M612.1 1386.8h0M652.0 1093.4h0M592.7 1433.4h0M649.7 1337.6h0M585.1 1340.9h0M677.7 1200.4h0M541.1 1429.7h0M672.9 1437.9h0M530.3 1181.0h0M634.8 1293.4h0M545.9 1101.6h0M556.7 1163.7h0M921.2 1536.0h0M583.6 1142.0h0M621.0 1283.2h0M664.9 1020.4h0M495.9 1353.2h0M696.2 847.2h0M607.2 1325.3h0M455.4 1370.9h0M629.5 1363.3h0M605.4 1338.6h0M1108.7 933.0h0M567.6 1326.7h0M641.0 1153.0h0M595.8 1313.1h0M723.1 1197.7h0M659.3 1435.0h0M621.6 1223.9h0M578.8 1490.7h0M622.6 1211.5h0M627.6 1359.7h0M530.9 774.2h0M624.1 983.6h0M654.3 1277.7h0M421.8 1372.2h0M757.2 963.4h0M728.3 1094.2h0M1080.1 675.0h0M615.4 1222.4h0M734.2 1167.2h0M547.0 1293.4h0M524.7 1329.2h0M600.6 1411.4h0M678.5 1329.6h0M587.6 1140.0h0M613.0 1248.3h0M516.6 1207.6h0M755.9 1479.3h0M472.6 1175.9h0M507.7 1095.3h0M748.8 1202.2h0M546.9 1222.0h0M540.6 1295.5h0M639.4 1255.7h0"/><path stroke="#F8766D" d="M423.5 1257.7h0M972.7 1544.8h0M597.4 1346.3h0M666.9 1090.0h0M562.3 1320.8h0M644.9 1271.0h0M614.6 1296.9h0M1111.7 1475.7h0M913.9 1249.0h0M643.5 1317.7h0M624.8 1334.6h0M596.4 1408.0h0M681.1 1437.9h0M594.5 1080.2h0M608.2 1156.3h0M892.7 1174.0h0M531.8 1270.5h0M439.5 1375.9h0M484.1 1463.1h0M553.1 1248.7h0M546.1 1264.8h0M925.6 1559.5h0M767.4 1467.0h0M664.4 1453.0h0M521.9 1319.7h0M760.5 1289.2h0M677.1 1366.1h0M617.5 1454.7h0M410.2 1386.9h0M499.3 1244.1h0M524.2 1121.5h0M431.4 1342.0h0M912.5 1228.5h0M508.6 1357.3h0M968.3 1489.6h0M765.8 1430.7h0M681.4 1334.4h0M366.2 1319.9h0M535.0 1224.2h0M596.0 1146.6h0M566.1 1212.6h0M668.3 1377.8h0M869.1 924.4h0M439.9 1161.5h0M780.6 1122.8h0M556.3 1380.2h0M557.6 1058.2h0M493.5 1456.9h0M807.9 1468.2h0M582.8 1307.2h0M612.5 997.6h0M546.5 1014.8h0M577.9 1223.9h0M543.4 1469.9h0M710.0 1262.2h0M640.3 1498.5h0M738.6 1320.4h0M389.8 1397.8h0M527.1 1456.9h0M663.1 1407.1h0M722.2 1446.2h0M560.8 1402.6h0M457.3 1342.0h0M635.4 1134.4h0M610.7 1480.1h0M670.8 1294.9h0M556.8 1201.2h0M457.7 1320.8h0M700.1 1480.9h0M426.8 1215.3h0M719.6 1113.8h0M655.6 1137.3h0M372.6 1083.5h0M528.3 1114.9h0M653.6 1299.5h0M438.6 1402.7h0M493.3 1273.9h0M646.8 1158.3h0M705.0 1119.2h0M440.3 1347.5h0M748.0 1390.6h0M591.6 1323.4h0M432.4 1325.4h0M607.3 1097.8h0M645.5 1315.7h0M597.9 1407.5h0M671.8 1372.4h0M674.0 1359.7h0M611.6 1272.7h0M470.8 1307.0h0M707.2 1197.8h0M548.3 1085.6h0M597.9 1089.1h0M556.0 1227.5h0M597.9 1125.9h0M695.0 1216.9h0M692.8 1023.3h0M805.3 1170.0h0M647.6 1361.2h0M673.7 1271.8h0M770.4 1276.2h0M629.5 1336.5h0M943.3 1475.7h0M351.1 1157.6h0M578.1 1146.6h0M629.7 1142.4h0M572.2 1384.9h0M551.2 1454.0h0M723.2 1081.0h0M594.8 1474.8h0M749.3 788.7h0M319.3 1283.7h0M625.2 1044.0h0M638.7 1003.3h0M687.2 1019.4h0M1105.1 1511.0h0M588.9 1063.5h0M540.6 1205.7h0M737.9 1089.4h0M634.2 1283.6h0M1024.2 1565.4h0M543.9 1304.7h0M511.2 863.1h0M684.6 1010.6h0M639.9 1296.6h0M629.4 1088.8h0M398.4 1446.7h0M782.3 973.5h0M615.6 976.3h0M525.0 1287.5h0M756.1 1268.1h0M466.7 1234.0h0M544.4 1188.5h0M714.3 942.4h0M540.7 1356.2h0M630.4 1376.8h0M528.5 1447.1h0M585.0 1223.5h0M586.5 1350.5h0M590.1 1304.5h0M498.2 1189.0h0M570.3 1265.1h0M581.2 1292.0h0M984.5 1470.5h0M579.9 1104.6h0M573.7 1357.8h0M609.1 1349.8h0M652.7 1018.9h0M531.5 1342.8h0M539.4 991.8h0M606.5 1384.9h0M699.4 1381.8h0M725.0 1139.8h0M828.2 1148.5h0M984.6 1200.2h0M599.7 1474.9h0M688.1 1165.1h0M598.1 1360.6h0M691.5 1418.6h0M648.0 1070.5h0M676.0 1442.3h0M690.9 1116.5h0M544.6 1122.2h0M718.9 1230.9h0M401.9 1242.9h0M608.7 1252.8h0M595.3 1049.8h0M726.1 1479.0h0M484.8 1297.2h0M487.4 1322.7h0M610.8 1327.7h0M530.5 1085.5h0M572.5 942.2h0M506.5 1428.7h0M537.6 1091.7h0M762.9 1430.3h0M593.4 1064.0h0M545.0 1012.9h0M592.9 1465.5h0M661.0 1314.9h0M489.1 1375.3h0M650.3 1408.4h0M571.7 1472.8h0M549.9 1296.3h0M563.1 1449.3h0M468.0 1315.0h0M945.6 925.0h0M599.3 1482.8h0M735.3 1200.4h0M642.7 1352.9h0M432.3 1493.3h0M725.4 1245.3h0M478.7 1291.3h0M534.6 1361.4h0M1005.8 1572.8h0M591.2 1349.0h0M543.1 904.2h0M536.7 1303.1h0M598.7 1387.2h0M546.8 1374.6h0M645.3 1232.2h0M714.3 1287.6h0M624.5 1428.8h0M632.8 1463.9h0M546.6 962.7h0M665.5 1429.4h0M571.8 1140.6h0M724.5 1210.8h0M1155.3 1504.8h0M471.9 1231.2h0M699.0 1273.7h0M545.2 1249.2h0M653.9 1310.4h0M504.5 1264.6h0M963.1 1371.2h0M405.3 1098.3h0M582.3 1500.2h0M757.1 1414.9h0M658.0 1312.1h0M649.3 1216.0h0M579.7 1236.7h0M532.9 1240.5h0M654.6 1246.2h0M550.2 1463.2h0M771.8 1132.6h0M562.4 1402.5h0M729.0 1313.0h0M591.5 1221.9h0M484.3 730.7h0M585.7 1207.6h0M380.3 1497.9h0M614.5 1284.9h0M605.4 1408.1h0M602.1 1462.9h0M584.5 1263.8h0M546.5 995.2h0M597.6 1198.8h0M643.5 1322.9h0M706.2 1310.1h0M765.6 1363.3h0M654.3 1239.6h0M446.3 1463.4h0M624.7 1062.0h0M719.9 1422.8h0M585.2 1088.5h0M613.5 1299.9h0M528.4 1302.0h0M654.1 1217.5h0M547.7 1253.7h0M660.1 1231.8h0M631.6 1322.4h0M679.5 1436.5h0M829.3 1115.4h0M454.1 1154.2h0M627.4 1232.4h0M607.5 1313.0h0M418.0 1300.5h0M623.0 1309.9h0M1022.1 1203.0h0M652.2 1280.1h0M664.2 1374.3h0M665.6 1226.1h0M583.4 1006.0h0M836.6 1250.9h0M438.8 1295.9h0M666.8 928.1h0M730.5 923.2h0M551.5 1247.7h0M593.0 661.7h0M600.1 1193.5h0M586.3 1352.8h0M691.1 1354.8h0M749.8 1420.6h0M617.7 1213.3h0M793.9 1309.7h0M533.0 1222.6h0M762.0 945.6h0M556.6 1217.6h0M458.4 1362.0h0M755.1 1420.7h0M512.6 1182.6h0M459.4 1256.5h0M566.4 1490.0h0M884.3 1050.6h0M575.2 1393.5h0M709.5 1303.5h0M790.2 1276.2h0M1112.5 1572.8h0M575.4 1460.6h0M589.4 1289.5h0M608.3 1047.3h0M751.7 1430.1h0M561.9 1311.3h0M562.1 1210.6h0M547.0 1195.1h0M867.5 1415.2h0M639.8 1333.3h0M773.5 1454.9h0M638.2 1156.7h0M701.2 952.2h0M723.1 1354.2h0M841.2 1475.7h0M815.4 1097.7h0M1068.3 1519.8h0M592.7 1084.0h0M554.0 1132.9h0M494.4 1105.3h0M554.8 1299.2h0M601.7 1135.7h0M659.3 1117.4h0M660.6 1049.7h0M682.0 1325.7h0M594.0 1070.8h0M639.9 1285.8h0M1104.4 994.8h0M610.9 1421.9h0M757.5 1133.7h0M619.6 1234.0h0M652.7 1356.8h0M516.7 1004.0h0M597.3 1277.8h0M599.5 1349.5h0M546.1 1492.1h0M628.2 1227.4h0M617.1 994.7h0M656.6 1335.8h0M777.0 1202.0h0M708.6 1345.4h0M447.5 1247.4h0M610.5 1416.9h0M447.3 1395.2h0M941.8 1369.0h0M570.1 1304.7h0M638.9 1427.7h0M544.0 1022.2h0M607.6 1266.9h0M635.5 805.1h0M924.2 1508.0h0M729.7 1316.6h0M529.8 1272.2h0M523.1 1229.4h0M680.0 1260.6h0M1030.2 1051.2h0M559.5 1003.4h0M575.0 1197.3h0M580.9 1337.1h0M474.0 1235.4h0M619.8 1197.0h0M512.0 1298.3h0M565.3 1391.4h0M617.3 1402.7h0M751.5 1409.3h0M685.8 1249.9h0M601.6 1255.8h0M598.2 1288.1h0M822.4 1419.9h0M620.8 1112.2h0M530.8 1028.6h0M401.8 1282.9h0M494.9 1083.6h0M451.1 1004.7h0M481.1 1106.1h0M593.8 1441.9h0M580.6 1342.9h0M531.6 1245.3h0M679.9 1217.2h0M473.1 1322.2h0M700.2 1342.9h0M603.0 1289.8h0M565.6 1361.2h0M672.7 1365.0h0M972.7 1499.2h0M441.5 1389.5h0M938.0 1285.0h0M673.4 738.4h0M585.6 1313.4h0M436.2 1399.4h0M489.3 1205.8h0M666.8 907.2h0M604.4 1271.5h0M505.6 1242.8h0M620.4 1502.2h0M607.6 1375.4h0M442.4 1131.5h0M592.7 1247.6h0M510.4 1171.9h0M759.2 1453.3h0M535.9 1207.0h0M544.3 928.1h0M496.5 1045.1h0M473.0 1245.5h0M555.8 1268.4h0M762.0 1260.9h0M680.3 1400.8h0M620.2 1290.1h0M591.5 1492.5h0M472.8 1322.2h0M763.2 1420.3h0M564.9 1071.6h0M596.6 1174.6h0M577.2 1490.2h0M497.5 1139.2h0M460.6 1261.1h0M389.1 1316.3h0M1180.2 795.4h0M516.5 1251.4h0M653.5 1170.0h0M636.5 1349.9h0M719.0 1048.2h0M451.8 1470.3h0M519.0 1271.9h0M543.8 1291.7h0M561.9 1193.5h0M710.4 1144.5h0M574.1 1319.6h0M596.3 1298.8h0M515.1 1274.0h0M652.1 888.9h0M541.0 1296.4h0M600.4 1251.5h0M616.3 1365.3h0M643.4 1290.1h0M617.6 1209.0h0M704.8 1153.2h0M668.4 1136.9h0M424.1 953.2h0M488.1 1214.4h0M460.1 1379.3h0M785.5 1094.2h0M705.9 1478.9h0M682.6 1315.9h0M993.4 1001.6h0M778.0 1278.4h0M495.7 1500.6h0M726.2 1402.7h0M551.3 1319.4h0M818.9 1429.5h0M550.5 1303.8h0M746.1 1180.5h0M405.0 1341.7h0M751.8 1389.9h0M515.8 1478.1h0M781.7 1248.0h0M657.0 1284.1h0M660.0 1465.5h0M626.3 1163.4h0M503.7 1159.8h0M470.2 1161.6h0M968.3 1522.7h0M705.9 1139.9h0M652.7 1303.9h0M716.2 980.4h0M443.8 931.8h0M552.2 1150.3h0M518.4 1343.3h0M783.9 1222.9h0M651.6 1063.3h0M589.0 1059.3h0M685.7 1126.6h0M587.0 1271.8h0M535.6 1460.5h0M674.7 1406.3h0M562.1 1264.4h0M873.4 1459.3h0M589.8 1314.2h0M564.0 1213.2h0M623.0 1291.8h0M619.1 1062.8h0M619.8 1329.5h0M544.1 1258.9h0M566.5 1252.2h0M535.6 1162.7h0M674.0 1277.7h0M554.4 1428.5h0M762.0 1058.9h0M734.4 1064.2h0M643.9 1284.5h0M614.3 1022.3h0M602.5 1251.3h0M635.1 1440.7h0M701.8 1130.2h0M676.6 1226.0h0M518.8 1181.8h0M583.6 1322.0h0M651.1 1288.6h0M532.0 1205.1h0M785.8 1488.3h0M476.3 1351.9h0M638.8 1355.7h0M641.4 1232.3h0M659.8 1228.8h0"/><path stroke="#00BFC4" d="M806.2 1004.9h0M500.2 1194.5h0M612.3 1246.7h0M845.0 990.0h0M867.4 1060.4h0M415.9 1118.5h0M792.2 1106.0h0M831.4 1087.5h0M511.6 1165.4h0M926.6 1077.6h0M563.3 1349.5h0M832.7 1019.4h0M468.3 1208.7h0M925.2 1117.5h0M707.6 1037.6h0M512.2 1214.8h0M388.0 1341.9h0M854.4 1075.7h0M467.3 1197.3h0M576.5 1174.5h0M1039.4 1078.8h0M683.6 1196.3h0M905.0 1001.4h0M761.6 1028.6h0M707.2 1002.5h0M444.5 1159.4h0M698.2 1020.9h0M845.8 1059.2h0M524.8 1244.5h0M386.1 1240.8h0M724.5 1180.6h0M735.1 769.7h0M697.4 1134.7h0M399.0 1187.9h0M700.4 1214.7h0M1055.3 967.9h0M457.4 1374.9h0M511.0 1286.9h0M584.1 1132.3h0M724.6 1138.2h0M915.4 1097.0h0M454.8 1387.3h0M653.3 902.3h0M648.7 983.0h0M685.7 1017.8h0M479.2 1273.7h0M549.8 1162.9h0M679.6 1223.3h0M658.2 1024.3h0M764.8 1025.3h0M870.3 1192.3h0M461.7 1284.5h0M663.1 1229.9h0M658.1 989.8h0M479.2 1228.1h0M954.8 978.9h0M604.5 1210.4h0M714.4 1017.1h0M696.1 1119.0h0M825.8 701.4h0M802.5 957.3h0M512.7 1191.6h0M487.8 1305.6h0M743.2 940.5h0M821.1 1210.1h0M762.5 1079.8h0M863.3 499.3h0M460.5 1324.8h0M396.2 1093.2h0M688.3 1006.9h0M697.2 1047.0h0M464.1 1182.7h0M579.0 995.7h0M642.5 1111.6h0M731.9 1240.0h0M1011.7 603.2h0M770.2 1069.8h0M707.8 1277.6h0M668.7 1111.9h0M833.5 943.2h0M539.2 1170.6h0M752.6 1210.0h0M389.6 1302.8h0M1094.2 1111.8h0M804.3 989.1h0M704.3 1156.0h0M732.2 995.9h0M710.4 1015.1h0M911.9 1072.7h0M848.2 904.8h0M828.6 1031.0h0M745.7 971.0h0M715.6 1062.0h0M556.7 1032.0h0M577.5 1215.8h0M551.8 1142.2h0M775.1 1125.2h0M503.7 1209.6h0M592.6 1201.0h0M431.2 1171.2h0M447.6 1221.1h0M1061.0 1125.2h0M458.1 1142.5h0M715.1 944.8h0M567.5 1089.8h0M461.5 1327.7h0M739.8 1064.8h0M600.7 903.0h0M458.8 1275.3h0M747.4 1138.3h0M700.4 1204.9h0M826.4 951.1h0M502.6 1112.9h0M1051.2 588.8h0M458.3 1374.3h0M645.7 1167.1h0M696.9 1030.9h0M591.0 1172.8h0M507.1 1100.5h0M601.4 1259.1h0M1024.9 1227.1h0M540.0 1186.8h0M428.4 1269.1h0M706.3 1177.1h0M411.4 1226.7h0M845.6 991.4h0M821.0 1011.7h0M551.9 1000.0h0M612.5 1128.0h0M521.5 1241.2h0M556.2 1065.4h0M807.1 1224.4h0M481.3 1151.9h0M500.5 1140.0h0M827.8 941.2h0M607.6 1088.3h0M556.8 1073.6h0M532.0 942.2h0M588.9 1098.4h0M709.9 946.2h0M977.6 1102.6h0M721.0 1163.9h0M503.5 1268.8h0M704.5 1033.6h0M761.4 1020.6h0M535.1 947.7h0M408.2 1025.5h0M394.9 1203.7h0M1082.3 1069.0h0M789.7 1018.9h0M544.8 1235.5h0M699.0 1032.1h0M609.8 1042.8h0M809.3 1156.9h0M769.4 991.0h0M786.5 748.4h0M750.7 1104.5h0M821.1 978.7h0M515.6 1195.8h0M703.1 981.3h0M636.8 1164.4h0M828.4 1228.7h0M384.6 1101.7h0M772.5 969.7h0M574.6 1160.9h0M535.6 1353.7h0M531.3 1110.3h0M426.2 1347.2h0M1096.5 527.0h0M754.6 1053.9h0M514.6 1239.8h0M729.3 1124.2h0M684.4 942.9h0M978.1 763.4h0M404.7 1310.6h0M471.7 1203.2h0M848.8 1150.2h0M917.7 1014.2h0M766.0 1208.4h0M943.6 1162.0h0M924.8 931.8h0M781.5 1004.0h0M763.1 1134.7h0M715.4 1279.6h0M657.4 969.6h0M400.5 1312.4h0M727.2 1107.9h0M956.4 1087.1h0M791.5 986.6h0M840.3 1205.0h0M761.8 809.3h0M611.1 1193.3h0M902.6 1163.4h0M534.4 1275.6h0M546.8 1111.5h0M668.2 1205.4h0M411.8 1278.1h0M498.1 1329.6h0M571.3 1365.6h0M688.1 1024.8h0M1373.6 1012.6h0M807.6 1122.0h0M633.3 1137.9h0M899.8 1126.0h0M818.3 1137.0h0M1025.9 991.8h0M729.8 984.6h0M815.0 1056.3h0M839.6 1014.6h0M435.1 1274.1h0M748.9 910.9h0M814.3 1205.7h0M931.5 1021.2h0M845.9 988.4h0M530.8 1069.6h0M483.6 1133.2h0M342.1 1184.5h0M829.9 1009.6h0M757.7 1082.9h0M963.4 1055.5h0M630.9 1133.9h0M658.5 1015.1h0M785.4 951.6h0M709.6 938.4h0M564.5 1188.2h0M733.1 1007.5h0M663.0 1190.6h0M769.8 1125.7h0M680.2 995.4h0M424.9 1208.9h0M618.2 1175.0h0M682.7 964.8h0M856.6 979.2h0M713.8 1243.7h0M414.0 1236.2h0M643.3 1180.0h0M919.2 1076.4h0M931.5 1035.9h0M544.0 1206.2h0M682.6 1176.9h0M1044.3 1017.5h0M822.9 1020.0h0M697.6 982.1h0M400.0 1130.8h0M491.3 1356.6h0M583.5 1157.9h0M409.4 1379.8h0M589.6 1105.0h0M869.4 1012.0h0M631.9 1104.6h0M444.8 1295.5h0M591.5 1135.2h0M842.9 1090.3h0M583.5 946.5h0M733.0 901.1h0M526.8 1125.2h0M412.9 1252.4h0M974.7 1227.8h0M892.7 1203.0h0M690.9 1159.0h0M790.5 1192.0h0M668.1 1220.1h0M546.1 1221.0h0M528.2 1377.3h0M804.6 1126.7h0M463.0 1111.7h0M620.8 1150.0h0M576.1 1162.8h0M765.4 996.4h0M823.9 1056.4h0M774.6 1022.9h0M805.4 1135.6h0M661.7 1150.9h0M771.0 1055.0h0M991.6 872.9h0M793.2 1021.9h0M921.5 1038.6h0M708.6 1066.5h0M772.4 1204.7h0M560.5 1190.4h0M466.9 1210.0h0M723.6 984.9h0M461.7 1182.6h0M711.3 1197.9h0M833.2 1120.7h0M916.8 1020.0h0M742.8 1015.6h0M998.9 1066.6h0M700.1 1067.6h0M448.8 1320.7h0M736.8 1096.7h0M493.0 1318.6h0M562.9 1073.1h0M770.4 982.9h0M620.6 1104.3h0M921.6 985.9h0M726.6 969.4h0M650.8 915.8h0M835.4 1249.3h0M639.7 1201.5h0M789.6 940.8h0M775.4 958.3h0M643.4 1186.4h0M439.3 1199.0h0M711.7 1017.7h0M641.1 1126.1h0M827.2 1043.0h0M907.7 781.4h0M468.9 1287.4h0M767.3 1224.3h0M905.5 1185.3h0M441.9 1167.8h0M839.8 1071.7h0M723.4 1013.2h0M632.1 1046.2h0M1074.9 922.6h0M655.8 203.0h0M696.6 1077.3h0M1088.6 1256.0h0M513.6 634.6h0M825.4 979.8h0M724.4 901.1h0M568.1 1250.4h0M507.4 1137.4h0M821.1 1031.8h0M725.6 1045.9h0M687.5 1260.3h0M979.7 1133.7h0M829.8 1020.0h0M543.1 1382.5h0M585.9 1022.1h0M445.6 1243.7h0M696.7 1091.9h0M639.2 1161.3h0M684.2 992.4h0M499.7 1186.9h0M460.9 1107.8h0M864.2 1076.2h0M460.5 1228.7h0M433.0 1133.1h0M445.4 1274.0h0M794.3 1127.9h0M867.5 1112.7h0M820.1 990.7h0M476.9 1148.2h0M601.0 1098.8h0M755.6 990.1h0M455.7 1373.5h0M307.8 1301.2h0M831.5 1053.1h0M659.5 1211.6h0M785.1 675.9h0M755.2 1071.3h0M659.5 1113.4h0M458.3 1194.5h0M835.0 313.2h0M918.0 947.1h0M431.2 1239.6h0M657.5 1073.5h0M746.7 1072.4h0M448.9 1279.0h0M754.9 985.0h0M400.1 1284.8h0M533.9 1261.5h0M562.4 1250.0h0M767.2 978.8h0M556.4 1273.3h0M807.9 1020.5h0M686.8 970.6h0M948.4 747.1h0M387.9 1279.4h0M417.1 1261.5h0M482.4 1199.4h0M386.2 1351.7h0M873.6 950.6h0M733.1 962.4h0M392.1 1306.1h0M415.2 1192.1h0M822.6 962.5h0M855.2 983.7h0M640.1 1127.0h0M620.3 1353.5h0M909.4 1033.5h0M624.0 876.0h0M1013.6 1103.3h0M458.5 1209.8h0M523.5 1180.3h0M875.6 590.0h0M488.3 1336.6h0M517.8 1139.3h0M461.7 1175.4h0M696.6 1024.2h0M771.8 1157.5h0M801.4 1051.1h0M461.9 1209.4h0M809.5 1000.4h0M853.4 1022.7h0M820.1 988.6h0M736.2 963.2h0M868.8 1171.6h0M814.9 1031.1h0M394.3 1180.4h0M810.2 933.0h0M383.1 1348.5h0M756.8 1022.1h0M841.4 1183.2h0M490.2 1131.6h0M671.5 1235.3h0M875.7 1004.3h0M1056.6 1037.1h0M872.6 1016.2h0M698.0 965.5h0M722.0 966.8h0M615.0 979.6h0M751.8 1057.3h0M467.1 932.4h0M617.7 1091.9h0M549.2 827.6h0M640.7 1287.9h0M451.2 1106.1h0M874.2 1095.0h0M858.7 890.7h0M787.2 1042.9h0"/></g><path d="M196.2 821.5H1685.1" stroke="#000" stroke-width="4.45" stroke-dasharray="4.45 13.33" fill="none"/><path d="M1107.8 1650.3V6.9" stroke="#000" stroke-width="4.45" stroke-dasharray="4.45 13.33" fill="none"/><path d="M304.2 1650.3v11.46M706.0 1650.3v11.46M1107.8 1650.3v11.46M1509.6 1650.3v11.46M196.2 102.7h-11.46M196.2 462.1h-11.46M196.2 821.5h-11.46M196.2 1180.9h-11.46M196.2 1540.3h-11.46" stroke="#333333" stroke-width="4.45" fill="none"/><text x="304.2" y="1698.8" font-family="'Liberation Sans', Arial, Helvetica, sans-serif" font-size="37" letter-spacing="0.4" fill="#4D4D4D" text-anchor="middle">&#160;0.01</text><text x="706.0" y="1698.8" font-family="'Liberation Sans', Arial, Helvetica, sans-serif" font-size="37" letter-spacing="0.4" fill="#4D4D4D" text-anchor="middle">&#160;0.10</text><text x="1107.8" y="1698.8" font-family="'Liberation Sans', Arial, Helvetica, sans-serif" font-size="37" letter-spacing="0.4" fill="#4D4D4D" text-anchor="middle">&#160;1.00</text><text x="1509.6" y="1698.8" font-family="'Liberation Sans', Arial, Helvetica, sans-serif" font-size="37" letter-spacing="0.4" fill="#4D4D4D" text-anchor="middle">10.00</text><text x="177.6" y="116.2" font-family="'Liberation Sans', Arial, Helvetica, sans-serif" font-size="37" letter-spacing="0.4" fill="#4D4D4D" text-anchor="end">100.00</text><text x="177.6" y="475.6" font-family="'Liberation Sans', Arial, Helvetica, sans-serif" font-size="37" letter-spacing="0.4" fill="#4D4D4D" text-anchor="end">10.00</text><text x="177.6" y="835.0" font-family="'Liberation Sans', Arial, Helvetica, sans-serif" font-size="37" letter-spacing="0.4" fill="#4D4D4D" text-anchor="end">1.00</text><text x="177.6" y="1194.4" font-family="'Liberation Sans', Arial, Helvetica, sans-serif" font-size="37" letter-spacing="0.4" fill="#4D4D4D" text-anchor="end">0.10</text><text x="177.6" y="1553.8" font-family="'Liberation Sans', Arial, Helvetica, sans-serif" font-size="37" letter-spacing="0.4" fill="#4D4D4D" text-anchor="end">0.01</text><text x="940.65" y="1752.3" font-family="'Liberation Sans', Arial, Helvetica, sans-serif" font-size="45.83" fill="#000" text-anchor="middle">SARS−CoV−2 IgM level</text><text transform="translate(39.4 828.6) rotate(-90)" x="0" y="0" font-family="'Liberation Sans', Arial, Helvetica, sans-serif" font-size="45.83" fill="#000" text-anchor="middle">SARS−CoV−2 IgG level</text><text x="1753.3" y="762.1" font-family="'Liberation Sans', Arial, Helvetica, sans-serif" font-size="45.83" fill="#000">Settings</text><rect x="1756.3" y="791.8" width="67.5" height="67.3" fill="#F2F2F2"/><rect x="1756.3" y="863.6" width="67.5" height="67.0" fill="#F2F2F2"/><circle cx="1789.9" cy="825.7" r="5.0" fill="#F8766D"/><circle cx="1789.9" cy="897.4" r="5.0" fill="#00BFC4"/><text x="1848.2" y="839.8" font-family="'Liberation Sans', Arial, Helvetica, sans-serif" font-size="36.67" fill="#000">Community</text><text x="1848.2" y="911.6" font-family="'Liberation Sans', Arial, Helvetica, sans-serif" font-size="36.67" fill="#000">Hospital</text></svg>
</body></html>
